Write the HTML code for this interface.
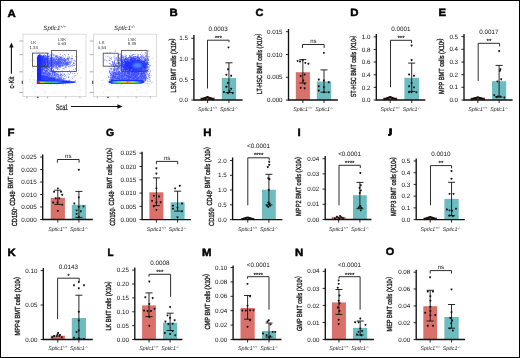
<!DOCTYPE html>
<html><head><meta charset="utf-8"><style>
html,body{margin:0;padding:0;background:#fff;}
body{width:520px;height:358px;overflow:hidden;}
svg{display:block;will-change:transform;}
text{font-family:'Liberation Sans', sans-serif;fill:#000;text-rendering:geometricPrecision;}
.lt{font-size:10.4px;font-weight:bold;stroke:#000;stroke-width:0.45;}
.tl{font-size:6.25px;text-anchor:end;fill:#111;}
.pv{font-size:6.3px;text-anchor:middle;fill:#111;}
.st{font-size:6.2px;text-anchor:middle;fill:#111;stroke:#111;stroke-width:0.12;}
.ns{font-size:6px;text-anchor:middle;fill:#111;}
.xl{font-size:5.3px;font-style:italic;text-anchor:middle;fill:#222;}
.yl{font-size:7.4px;text-anchor:middle;fill:#111;stroke:#111;stroke-width:0.3;}
.gl{font-size:4.3px;text-anchor:middle;fill:#333;}
.axl{font-size:7.4px;fill:#111;stroke:#111;stroke-width:0.25;}
.axl2{font-size:8.4px;fill:#111;stroke:#111;stroke-width:0.18;}
.ft{font-size:6.1px;font-style:italic;text-anchor:middle;fill:#222;}
.ax{fill:none;stroke:#111;stroke-width:1.35;}
.tk{fill:none;stroke:#111;stroke-width:0.9;}
.eb{fill:none;stroke:#111;stroke-width:0.9;}
.br{fill:none;stroke:#222;stroke-width:0.95;}
</style></head><body>
<svg width="520" height="358" viewBox="0 0 520 358" xmlns="http://www.w3.org/2000/svg">
<rect x="0.5" y="0.5" width="519" height="357" fill="#fff" stroke="#000" stroke-width="1"/>
<text transform="translate(7.4 16.8) scale(1.1 1)" class="lt">A</text>
<defs><filter id="bl0" x="-5%" y="-5%" width="110%" height="110%"><feGaussianBlur stdDeviation="0.3"/></filter><filter id="bl1" x="-20%" y="-50%" width="140%" height="200%"><feGaussianBlur stdDeviation="0.6"/></filter><filter id="bl2" x="-20%" y="-50%" width="140%" height="200%"><feGaussianBlur stdDeviation="1.3"/></filter><linearGradient id="hotA" x1="36.8" x2="66" y1="0" y2="0" gradientUnits="userSpaceOnUse"><stop offset="0" stop-color="#d81c10"/><stop offset="0.06" stop-color="#f08010"/><stop offset="0.14" stop-color="#d8e020"/><stop offset="0.4" stop-color="#50d850"/><stop offset="0.68" stop-color="#30c8e8"/><stop offset="1" stop-color="#2a48ff"/></linearGradient><linearGradient id="hotB" x1="108.5" x2="145" y1="0" y2="0" gradientUnits="userSpaceOnUse"><stop offset="0" stop-color="#2a48ff"/><stop offset="0.08" stop-color="#30c0f0"/><stop offset="0.22" stop-color="#48d070"/><stop offset="0.38" stop-color="#a8d830"/><stop offset="0.47" stop-color="#e0b818"/><stop offset="0.52" stop-color="#e07010"/><stop offset="0.57" stop-color="#e0a018"/><stop offset="0.66" stop-color="#a0d838"/><stop offset="0.8" stop-color="#40c8b0"/><stop offset="0.92" stop-color="#30b0f0"/><stop offset="1" stop-color="#2a48ff"/></linearGradient></defs>
<g filter="url(#bl0)"><path d="M40 57 L50 56.5 L62 58 L70 61 L66 66 L54 67.5 L42 68 Z" fill="#4a5cff" opacity="0.3" filter="url(#bl2)"/><path d="M41 66 L41 80.5 L66 80.5 Z" fill="#3a4cff" opacity="0.3" filter="url(#bl2)"/><path d="M32 71.3h0.6v0.6h-0.6zM51.5 52.1h0.6v0.6h-0.6zM51.1 85.4h0.6v0.6h-0.6zM70.3 79.8h0.6v0.6h-0.6zM36.9 70.5h0.6v0.6h-0.6zM49.4 66.6h0.6v0.6h-0.6zM62 51.7h0.6v0.6h-0.6zM34.3 65h0.6v0.6h-0.6zM74.5 76h0.6v0.6h-0.6zM53.2 70.3h0.6v0.6h-0.6zM72.1 56.1h0.6v0.6h-0.6zM71.6 81.6h0.6v0.6h-0.6zM55.9 64.6h0.6v0.6h-0.6zM63 84.2h0.6v0.6h-0.6zM78.2 80.9h0.6v0.6h-0.6zM80 77.9h0.6v0.6h-0.6zM57.5 54.8h0.6v0.6h-0.6zM57.9 83.5h0.6v0.6h-0.6zM32.8 59.6h0.6v0.6h-0.6zM61.4 71.5h0.6v0.6h-0.6zM34.4 60.7h0.6v0.6h-0.6zM58.7 79.8h0.6v0.6h-0.6zM44.9 82.4h0.6v0.6h-0.6zM29.9 60h0.6v0.6h-0.6zM50 64.3h0.6v0.6h-0.6zM42.3 56.2h0.6v0.6h-0.6zM45.1 64.7h0.6v0.6h-0.6zM39.5 71.2h0.6v0.6h-0.6zM64.5 79.5h0.6v0.6h-0.6zM61.1 77.3h0.6v0.6h-0.6zM44.8 74h0.6v0.6h-0.6zM65 78.7h0.6v0.6h-0.6zM79.9 90.2h0.6v0.6h-0.6zM75.1 79.9h0.6v0.6h-0.6zM75.7 70.4h0.6v0.6h-0.6zM45.4 86h0.6v0.6h-0.6zM68 85.9h0.6v0.6h-0.6zM51.3 61.1h0.6v0.6h-0.6zM34.3 85.7h0.6v0.6h-0.6zM57.6 80.7h0.6v0.6h-0.6zM62.5 61.6h0.6v0.6h-0.6zM36.3 57.5h0.6v0.6h-0.6zM52.8 73.3h0.6v0.6h-0.6zM36.4 51.3h0.6v0.6h-0.6zM71.2 82.7h0.6v0.6h-0.6zM45.5 61.1h0.6v0.6h-0.6zM41.9 51.8h0.6v0.6h-0.6zM35.3 86h0.6v0.6h-0.6zM60 76.3h0.6v0.6h-0.6zM57.6 77.1h0.6v0.6h-0.6zM37.3 83.6h0.6v0.6h-0.6zM31 85.9h0.6v0.6h-0.6zM55.3 63h0.6v0.6h-0.6zM49.5 84.1h0.6v0.6h-0.6zM59.5 78.2h0.6v0.6h-0.6zM63 50h0.6v0.6h-0.6zM41.9 88.8h0.6v0.6h-0.6zM32 83.3h0.6v0.6h-0.6zM62.4 84.8h0.6v0.6h-0.6zM45.1 62.2h0.6v0.6h-0.6zM40 76.4h0.6v0.6h-0.6zM76.4 55.4h0.6v0.6h-0.6zM36.4 50.3h0.6v0.6h-0.6zM39.7 53.9h0.6v0.6h-0.6zM71.9 76.8h0.6v0.6h-0.6zM51.7 83h0.6v0.6h-0.6zM68.6 92h0.6v0.6h-0.6zM69.9 76.6h0.6v0.6h-0.6zM33.5 88.1h0.6v0.6h-0.6zM39.2 77.1h0.6v0.6h-0.6zM39.7 66.1h0.6v0.6h-0.6zM45.3 76.6h0.6v0.6h-0.6zM63 83.2h0.6v0.6h-0.6zM54.5 91.9h0.6v0.6h-0.6zM77.9 71.8h0.6v0.6h-0.6zM39.9 79.1h0.6v0.6h-0.6zM50.9 79.7h0.6v0.6h-0.6zM35.5 85.7h0.6v0.6h-0.6zM29.1 80.8h0.6v0.6h-0.6zM61.9 49.7h0.6v0.6h-0.6zM78.5 77.9h0.6v0.6h-0.6zM76 83.8h0.6v0.6h-0.6zM52.8 82.6h0.6v0.6h-0.6zM76.5 77.9h0.6v0.6h-0.6zM40 55.7h0.6v0.6h-0.6zM29.2 79.1h0.6v0.6h-0.6zM41.6 81.3h0.6v0.6h-0.6zM73.5 81.1h0.6v0.6h-0.6zM66.3 49.5h0.6v0.6h-0.6zM62.8 85h0.6v0.6h-0.6zM45.2 81.1h0.6v0.6h-0.6zM73.8 70.4h0.6v0.6h-0.6zM65.6 85.4h0.6v0.6h-0.6zM38.4 79.8h0.6v0.6h-0.6zM46.9 71.9h0.6v0.6h-0.6zM38.4 52.7h0.6v0.6h-0.6zM78.3 89h0.6v0.6h-0.6zM60.1 66.5h0.6v0.6h-0.6zM62.6 92.4h0.6v0.6h-0.6zM36.4 58.8h0.6v0.6h-0.6zM44.3 92.1h0.6v0.6h-0.6zM39.2 52.5h0.6v0.6h-0.6zM38.7 85.6h0.6v0.6h-0.6zM40.6 57h0.6v0.6h-0.6zM42 85h0.6v0.6h-0.6zM34 79.8h0.6v0.6h-0.6zM56.2 79.9h0.6v0.6h-0.6zM74.2 80.6h0.6v0.6h-0.6zM51 76.8h0.6v0.6h-0.6zM42.8 78.9h0.6v0.6h-0.6zM69.2 56h0.6v0.6h-0.6zM74.3 68.4h0.6v0.6h-0.6zM52.8 80.8h0.6v0.6h-0.6zM76.3 49.5h0.6v0.6h-0.6zM72 71.6h0.6v0.6h-0.6zM80.7 77h0.6v0.6h-0.6zM50.4 83.7h0.6v0.6h-0.6zM70.9 51.7h0.6v0.6h-0.6zM54.2 83.9h0.6v0.6h-0.6zM30.8 78.2h0.6v0.6h-0.6zM37.1 80.1h0.6v0.6h-0.6zM43 85.7h0.6v0.6h-0.6zM45.7 78.2h0.6v0.6h-0.6zM35.9 61.2h0.6v0.6h-0.6zM64.3 78.2h0.6v0.6h-0.6zM61.7 57h0.6v0.6h-0.6zM64.6 64.4h0.6v0.6h-0.6zM72.4 83.2h0.6v0.6h-0.6zM31.5 59.8h0.6v0.6h-0.6zM35.6 82.5h0.6v0.6h-0.6zM65.5 84.5h0.6v0.6h-0.6zM57.3 60h0.6v0.6h-0.6zM47.9 56.4h0.6v0.6h-0.6zM48.2 85.6h0.6v0.6h-0.6zM33.2 79.3h0.6v0.6h-0.6zM52 91.7h0.6v0.6h-0.6zM40.8 74.2h0.6v0.6h-0.6zM55.7 74.9h0.6v0.6h-0.6zM58.3 83.1h0.6v0.6h-0.6zM31.3 75.6h0.6v0.6h-0.6zM57.5 84.3h0.6v0.6h-0.6zM77.1 78.7h0.6v0.6h-0.6zM59.2 54h0.6v0.6h-0.6zM34.7 84.2h0.6v0.6h-0.6zM71.6 78.9h0.6v0.6h-0.6zM75.5 74.9h0.6v0.6h-0.6zM78.8 92.7h0.6v0.6h-0.6zM55.5 76.9h0.6v0.6h-0.6zM57.6 66.9h0.6v0.6h-0.6zM43.3 60.3h0.6v0.6h-0.6zM50.1 78.9h0.6v0.6h-0.6zM32 67.2h0.6v0.6h-0.6zM66.7 63.5h0.6v0.6h-0.6zM68.7 83.1h0.6v0.6h-0.6zM63.1 83.1h0.6v0.6h-0.6zM76.9 56.1h0.6v0.6h-0.6zM54.9 77h0.6v0.6h-0.6zM80.7 62.1h0.6v0.6h-0.6zM34.8 91.9h0.6v0.6h-0.6zM41 67.9h0.6v0.6h-0.6zM42.8 52h0.6v0.6h-0.6zM45.4 91.8h0.6v0.6h-0.6zM61.7 81.7h0.6v0.6h-0.6zM60.9 78.8h0.6v0.6h-0.6zM56.4 84.8h0.6v0.6h-0.6zM72.3 85h0.6v0.6h-0.6zM37 60.1h0.6v0.6h-0.6zM36.8 78.9h0.6v0.6h-0.6zM46.7 65.8h0.6v0.6h-0.6zM39.4 74.1h0.6v0.6h-0.6z" fill="#5a6aff" opacity="0.55"/><path d="M61.5 59.4h0.75v0.75h-0.75zM49.2 60.2h0.75v0.75h-0.75zM63.3 58.6h0.75v0.75h-0.75zM39 63.9h0.75v0.75h-0.75zM65 61.7h0.75v0.75h-0.75zM43.5 58.7h0.75v0.75h-0.75zM48 58.3h0.75v0.75h-0.75zM47.8 56h0.75v0.75h-0.75zM56.6 63.7h0.75v0.75h-0.75zM54.5 64.8h0.75v0.75h-0.75zM50.1 63.2h0.75v0.75h-0.75zM41.6 61.3h0.75v0.75h-0.75zM54.3 65.6h0.75v0.75h-0.75zM50.7 61h0.75v0.75h-0.75zM41.6 63h0.75v0.75h-0.75zM60.6 61.2h0.75v0.75h-0.75zM43 63.6h0.75v0.75h-0.75zM52.2 65.3h0.75v0.75h-0.75zM42.4 61.9h0.75v0.75h-0.75zM42.5 61.4h0.75v0.75h-0.75zM58.3 62.1h0.75v0.75h-0.75zM45.5 60.1h0.75v0.75h-0.75zM39.2 59.9h0.75v0.75h-0.75zM67.8 66.2h0.75v0.75h-0.75zM65.3 59h0.75v0.75h-0.75zM42.6 65.7h0.75v0.75h-0.75zM40.9 64.5h0.75v0.75h-0.75zM65.7 67h0.75v0.75h-0.75zM44.2 66.8h0.75v0.75h-0.75zM45.5 58.4h0.75v0.75h-0.75zM43.1 58.8h0.75v0.75h-0.75zM61.3 57.5h0.75v0.75h-0.75zM46.1 56.5h0.75v0.75h-0.75zM51.7 66h0.75v0.75h-0.75zM69.9 58.5h0.75v0.75h-0.75zM40.2 60.9h0.75v0.75h-0.75zM39.2 67.6h0.75v0.75h-0.75zM57.2 60.5h0.75v0.75h-0.75zM53.2 62.2h0.75v0.75h-0.75zM43.1 61.1h0.75v0.75h-0.75zM45.2 60.1h0.75v0.75h-0.75zM42.1 63.3h0.75v0.75h-0.75zM46 57h0.75v0.75h-0.75zM60.2 59.6h0.75v0.75h-0.75zM40 61.4h0.75v0.75h-0.75zM38.7 67.1h0.75v0.75h-0.75zM49.1 59.9h0.75v0.75h-0.75zM68.8 61.2h0.75v0.75h-0.75zM57.8 61.1h0.75v0.75h-0.75zM69.8 66.3h0.75v0.75h-0.75zM49.4 59h0.75v0.75h-0.75zM49.9 64.5h0.75v0.75h-0.75zM39.1 65.8h0.75v0.75h-0.75zM64.4 58.1h0.75v0.75h-0.75zM54.9 66.6h0.75v0.75h-0.75zM60.3 65.2h0.75v0.75h-0.75zM46.5 53.3h0.75v0.75h-0.75zM51.8 66.5h0.75v0.75h-0.75zM46.3 59.7h0.75v0.75h-0.75zM42.4 61.2h0.75v0.75h-0.75zM56.3 55.6h0.75v0.75h-0.75zM62.8 62.3h0.75v0.75h-0.75zM46.9 62h0.75v0.75h-0.75zM41.1 56.3h0.75v0.75h-0.75zM53.3 65.6h0.75v0.75h-0.75zM50.2 60.1h0.75v0.75h-0.75zM44.2 68.6h0.75v0.75h-0.75zM59.4 66.2h0.75v0.75h-0.75zM38.7 57.8h0.75v0.75h-0.75zM62.8 62.3h0.75v0.75h-0.75zM57.9 65.5h0.75v0.75h-0.75zM63.5 68h0.75v0.75h-0.75zM46.2 57.3h0.75v0.75h-0.75zM43.2 60.1h0.75v0.75h-0.75zM38.7 65.5h0.75v0.75h-0.75zM38.6 62.7h0.75v0.75h-0.75zM48.4 53.4h0.75v0.75h-0.75zM44.6 65.9h0.75v0.75h-0.75zM50.7 62.4h0.75v0.75h-0.75zM53.9 61.6h0.75v0.75h-0.75zM51 61.8h0.75v0.75h-0.75zM73.3 63.2h0.75v0.75h-0.75zM63.2 63.3h0.75v0.75h-0.75zM45.3 63.6h0.75v0.75h-0.75zM39.2 66.5h0.75v0.75h-0.75zM49.8 65.3h0.75v0.75h-0.75zM57.3 62.4h0.75v0.75h-0.75zM46.4 58.4h0.75v0.75h-0.75zM62.2 57.6h0.75v0.75h-0.75zM55.7 64.4h0.75v0.75h-0.75zM49 61.3h0.75v0.75h-0.75zM66.3 58.8h0.75v0.75h-0.75zM48.1 59.3h0.75v0.75h-0.75zM51.4 59.6h0.75v0.75h-0.75zM50.9 57h0.75v0.75h-0.75zM57.7 61.7h0.75v0.75h-0.75zM39.3 63.8h0.75v0.75h-0.75zM65.3 60.6h0.75v0.75h-0.75zM45.1 62.9h0.75v0.75h-0.75zM57.5 61.4h0.75v0.75h-0.75zM61.5 58.1h0.75v0.75h-0.75zM50 62.1h0.75v0.75h-0.75zM45.5 63.8h0.75v0.75h-0.75zM56.2 61.9h0.75v0.75h-0.75zM38.8 55.9h0.75v0.75h-0.75zM40.1 54.5h0.75v0.75h-0.75zM64.9 64.6h0.75v0.75h-0.75zM44.7 59.7h0.75v0.75h-0.75zM50 59.5h0.75v0.75h-0.75zM41.9 57.5h0.75v0.75h-0.75zM41.7 61.9h0.75v0.75h-0.75zM46.2 65.1h0.75v0.75h-0.75zM43.5 65.6h0.75v0.75h-0.75zM43 64.7h0.75v0.75h-0.75zM47.5 68.3h0.75v0.75h-0.75zM45.1 62h0.75v0.75h-0.75zM59.1 60.1h0.75v0.75h-0.75zM43.2 61.4h0.75v0.75h-0.75zM48.2 59.4h0.75v0.75h-0.75zM67 63.8h0.75v0.75h-0.75zM51.7 64.1h0.75v0.75h-0.75zM45.8 62.1h0.75v0.75h-0.75zM38.5 56.1h0.75v0.75h-0.75zM53.7 62.9h0.75v0.75h-0.75zM40.2 60.5h0.75v0.75h-0.75zM41.1 58.6h0.75v0.75h-0.75zM62.7 60.5h0.75v0.75h-0.75zM43.9 58.1h0.75v0.75h-0.75zM65.2 62.2h0.75v0.75h-0.75zM41.5 70.1h0.75v0.75h-0.75zM46.5 60h0.75v0.75h-0.75zM46.5 60h0.75v0.75h-0.75zM41.8 62h0.75v0.75h-0.75zM69 61.5h0.75v0.75h-0.75zM42.3 58.4h0.75v0.75h-0.75zM52.5 65.4h0.75v0.75h-0.75zM57.4 63.8h0.75v0.75h-0.75zM48.5 62.1h0.75v0.75h-0.75zM53.9 65.3h0.75v0.75h-0.75zM51.6 58.1h0.75v0.75h-0.75zM46.7 58.7h0.75v0.75h-0.75zM67.4 59.5h0.75v0.75h-0.75zM60.6 57.1h0.75v0.75h-0.75zM52.8 59.6h0.75v0.75h-0.75zM63.8 64.5h0.75v0.75h-0.75zM59.8 58.4h0.75v0.75h-0.75zM49.8 60.3h0.75v0.75h-0.75zM60.3 59.5h0.75v0.75h-0.75zM40.1 59.6h0.75v0.75h-0.75zM55.6 56.3h0.75v0.75h-0.75zM54.4 62.2h0.75v0.75h-0.75zM44.4 62.2h0.75v0.75h-0.75zM61.4 63.3h0.75v0.75h-0.75zM51.7 60h0.75v0.75h-0.75zM56.9 61.4h0.75v0.75h-0.75zM47.8 64.9h0.75v0.75h-0.75zM49.9 63h0.75v0.75h-0.75zM56.4 64.3h0.75v0.75h-0.75zM52 62.2h0.75v0.75h-0.75zM53.4 62.5h0.75v0.75h-0.75zM52.3 63.6h0.75v0.75h-0.75zM60.9 64.5h0.75v0.75h-0.75zM45 63.5h0.75v0.75h-0.75zM56.1 62.8h0.75v0.75h-0.75zM57.1 68.7h0.75v0.75h-0.75zM43.8 63h0.75v0.75h-0.75zM39.9 57h0.75v0.75h-0.75zM42.3 56.5h0.75v0.75h-0.75zM69.6 61.5h0.75v0.75h-0.75zM38.8 60.8h0.75v0.75h-0.75zM60.7 58.7h0.75v0.75h-0.75zM42.4 66.6h0.75v0.75h-0.75zM57.1 60.3h0.75v0.75h-0.75zM52.6 60.7h0.75v0.75h-0.75zM43.8 62.4h0.75v0.75h-0.75zM59.3 60.3h0.75v0.75h-0.75zM60.3 66.2h0.75v0.75h-0.75zM42.8 61.5h0.75v0.75h-0.75zM43.7 56.4h0.75v0.75h-0.75zM39.8 66.8h0.75v0.75h-0.75zM48.6 61.9h0.75v0.75h-0.75zM47.8 64.3h0.75v0.75h-0.75zM55.6 66.3h0.75v0.75h-0.75zM62.7 65.7h0.75v0.75h-0.75zM59.6 62.3h0.75v0.75h-0.75zM46.1 58.7h0.75v0.75h-0.75zM43.9 66.3h0.75v0.75h-0.75zM38.5 60.7h0.75v0.75h-0.75zM42.7 69h0.75v0.75h-0.75zM40.9 61.1h0.75v0.75h-0.75zM47.9 64.4h0.75v0.75h-0.75zM68.4 64h0.75v0.75h-0.75zM59.9 59.6h0.75v0.75h-0.75zM39.1 61.2h0.75v0.75h-0.75zM47.4 62.3h0.75v0.75h-0.75zM40.4 58.6h0.75v0.75h-0.75zM68.8 56.6h0.75v0.75h-0.75zM67.1 58.1h0.75v0.75h-0.75zM40.8 67.1h0.75v0.75h-0.75zM42.8 59.7h0.75v0.75h-0.75zM62.3 61.6h0.75v0.75h-0.75zM52.3 60.3h0.75v0.75h-0.75zM58.4 62.7h0.75v0.75h-0.75zM62.9 56.5h0.75v0.75h-0.75zM58.2 64.8h0.75v0.75h-0.75zM38.5 60.9h0.75v0.75h-0.75zM66.7 61.8h0.75v0.75h-0.75zM45.5 58.2h0.75v0.75h-0.75zM42.4 67h0.75v0.75h-0.75zM48.3 56.2h0.75v0.75h-0.75zM47.5 63.6h0.75v0.75h-0.75zM51.3 62h0.75v0.75h-0.75zM45.3 64.5h0.75v0.75h-0.75zM39.6 57.5h0.75v0.75h-0.75zM43.7 62.6h0.75v0.75h-0.75zM66.5 64h0.75v0.75h-0.75zM53.6 67h0.75v0.75h-0.75zM65.6 64.1h0.75v0.75h-0.75zM69 57.5h0.75v0.75h-0.75zM63.3 63.7h0.75v0.75h-0.75zM53.7 70.9h0.75v0.75h-0.75zM56.7 61.8h0.75v0.75h-0.75zM47.1 61.2h0.75v0.75h-0.75zM38.6 58.6h0.75v0.75h-0.75zM42.7 60.4h0.75v0.75h-0.75zM42.9 60.5h0.75v0.75h-0.75zM54.4 63.2h0.75v0.75h-0.75zM52.9 60.5h0.75v0.75h-0.75zM60.5 59.3h0.75v0.75h-0.75zM48.9 61.3h0.75v0.75h-0.75zM51 63.5h0.75v0.75h-0.75zM42.2 60.2h0.75v0.75h-0.75zM62.3 58.9h0.75v0.75h-0.75zM42.7 63.2h0.75v0.75h-0.75zM44.3 55.8h0.75v0.75h-0.75zM46.1 58.6h0.75v0.75h-0.75zM52.5 57.4h0.75v0.75h-0.75zM55.5 62.5h0.75v0.75h-0.75zM61.3 59h0.75v0.75h-0.75zM39.6 68.6h0.75v0.75h-0.75zM43.9 65.2h0.75v0.75h-0.75zM42.8 59.7h0.75v0.75h-0.75zM42.5 57.1h0.75v0.75h-0.75zM68.4 58.1h0.75v0.75h-0.75zM59.2 60.9h0.75v0.75h-0.75zM40.1 62.6h0.75v0.75h-0.75zM38.2 59.1h0.75v0.75h-0.75zM48 63.2h0.75v0.75h-0.75zM47.7 59.3h0.75v0.75h-0.75zM64.5 59h0.75v0.75h-0.75zM60.5 60.6h0.75v0.75h-0.75zM41.5 66.3h0.75v0.75h-0.75zM71.5 55.5h0.75v0.75h-0.75zM38.7 60.6h0.75v0.75h-0.75zM40.9 65.9h0.75v0.75h-0.75zM44.2 60h0.75v0.75h-0.75zM41.9 64.5h0.75v0.75h-0.75zM63.5 59.4h0.75v0.75h-0.75zM59.2 58.6h0.75v0.75h-0.75zM73.3 65.4h0.75v0.75h-0.75zM39 62.5h0.75v0.75h-0.75zM38.2 57h0.75v0.75h-0.75zM71.5 62h0.75v0.75h-0.75zM57.9 60.4h0.75v0.75h-0.75zM73 62.6h0.75v0.75h-0.75zM50.9 59h0.75v0.75h-0.75zM38.2 60.4h0.75v0.75h-0.75zM68.1 54.4h0.75v0.75h-0.75zM42.6 58.5h0.75v0.75h-0.75zM40.3 60.7h0.75v0.75h-0.75zM49.8 54.5h0.75v0.75h-0.75zM53 57.4h0.75v0.75h-0.75zM46.4 65.2h0.75v0.75h-0.75zM38.8 61.9h0.75v0.75h-0.75zM47.8 59.6h0.75v0.75h-0.75zM38.1 57.2h0.75v0.75h-0.75zM50.3 60.3h0.75v0.75h-0.75zM66.1 61.9h0.75v0.75h-0.75zM42.6 62h0.75v0.75h-0.75zM52.4 53.4h0.75v0.75h-0.75zM44.4 56.8h0.75v0.75h-0.75zM60.5 62.6h0.75v0.75h-0.75zM41.6 63.3h0.75v0.75h-0.75zM60.4 62.6h0.75v0.75h-0.75zM39 61.4h0.75v0.75h-0.75zM51.2 62h0.75v0.75h-0.75zM52.8 54.7h0.75v0.75h-0.75zM56.7 67.9h0.75v0.75h-0.75zM58.3 63.6h0.75v0.75h-0.75zM40.9 60.3h0.75v0.75h-0.75zM56.3 61.4h0.75v0.75h-0.75zM43.2 62.2h0.75v0.75h-0.75zM55.5 61.4h0.75v0.75h-0.75zM42 61.1h0.75v0.75h-0.75zM51.5 66.3h0.75v0.75h-0.75zM57.6 62.8h0.75v0.75h-0.75zM60 60.9h0.75v0.75h-0.75zM38.2 64.1h0.75v0.75h-0.75zM67.3 62.3h0.75v0.75h-0.75zM46.5 65.1h0.75v0.75h-0.75zM44.9 63.6h0.75v0.75h-0.75zM56 66.3h0.75v0.75h-0.75zM57 59.1h0.75v0.75h-0.75zM63.9 63.7h0.75v0.75h-0.75zM46.3 57.1h0.75v0.75h-0.75zM73.6 61.8h0.75v0.75h-0.75zM69.7 64h0.75v0.75h-0.75zM41.3 61.3h0.75v0.75h-0.75zM44.9 58.6h0.75v0.75h-0.75zM56.4 65.2h0.75v0.75h-0.75zM67.3 58.1h0.75v0.75h-0.75zM45 65.9h0.75v0.75h-0.75zM52.6 63h0.75v0.75h-0.75zM53.6 59.2h0.75v0.75h-0.75zM72 58.5h0.75v0.75h-0.75zM45.4 64.7h0.75v0.75h-0.75zM61.9 65.4h0.75v0.75h-0.75zM53.3 62.4h0.75v0.75h-0.75zM39.5 65.5h0.75v0.75h-0.75zM50.1 62.7h0.75v0.75h-0.75zM49.1 61.1h0.75v0.75h-0.75zM63.9 63.6h0.75v0.75h-0.75zM52.2 64.8h0.75v0.75h-0.75zM52.1 62.3h0.75v0.75h-0.75zM54.6 60.5h0.75v0.75h-0.75zM58.8 57.5h0.75v0.75h-0.75zM49.2 63.5h0.75v0.75h-0.75zM59.1 58.5h0.75v0.75h-0.75zM54 62.1h0.75v0.75h-0.75zM59 56h0.75v0.75h-0.75zM63.1 62.4h0.75v0.75h-0.75zM46.2 60.1h0.75v0.75h-0.75zM57.3 62.8h0.75v0.75h-0.75zM53.6 65.8h0.75v0.75h-0.75zM58.6 59.1h0.75v0.75h-0.75zM45.1 58.7h0.75v0.75h-0.75zM46.5 61.7h0.75v0.75h-0.75zM40.4 56.1h0.75v0.75h-0.75zM70.3 62.3h0.75v0.75h-0.75zM48.3 62.2h0.75v0.75h-0.75zM46.9 64h0.75v0.75h-0.75zM57.8 65h0.75v0.75h-0.75zM48.6 64.4h0.75v0.75h-0.75zM41.2 61.4h0.75v0.75h-0.75zM44.5 58.4h0.75v0.75h-0.75zM45.5 64.3h0.75v0.75h-0.75zM38.6 64.6h0.75v0.75h-0.75zM56.1 67h0.75v0.75h-0.75zM42.3 62.4h0.75v0.75h-0.75zM53.2 62h0.75v0.75h-0.75zM38.3 60.9h0.75v0.75h-0.75zM45.8 61.3h0.75v0.75h-0.75zM47.7 68.5h0.75v0.75h-0.75zM63.9 54.2h0.75v0.75h-0.75zM66.1 63.3h0.75v0.75h-0.75zM47.1 61.5h0.75v0.75h-0.75zM39.7 61h0.75v0.75h-0.75zM49.8 60.4h0.75v0.75h-0.75zM48.2 64.2h0.75v0.75h-0.75zM47.5 62h0.75v0.75h-0.75zM47.6 61.5h0.75v0.75h-0.75zM41.6 64.9h0.75v0.75h-0.75zM57.6 56.3h0.75v0.75h-0.75zM45.9 62.2h0.75v0.75h-0.75zM47.8 58.3h0.75v0.75h-0.75zM43 65.1h0.75v0.75h-0.75zM62.8 63h0.75v0.75h-0.75zM43.5 63.8h0.75v0.75h-0.75zM39.5 63h0.75v0.75h-0.75zM39.5 61.3h0.75v0.75h-0.75zM39.2 62.9h0.75v0.75h-0.75zM50.7 59.9h0.75v0.75h-0.75zM42.3 63.4h0.75v0.75h-0.75zM38.5 64.5h0.75v0.75h-0.75zM40.8 60.4h0.75v0.75h-0.75zM38 60.4h0.75v0.75h-0.75zM49.4 62.5h0.75v0.75h-0.75zM54.6 62.5h0.75v0.75h-0.75zM41.2 62.5h0.75v0.75h-0.75zM53.9 61.4h0.75v0.75h-0.75zM40.8 57.6h0.75v0.75h-0.75zM65 61h0.75v0.75h-0.75zM39.6 64.7h0.75v0.75h-0.75zM64.4 63h0.75v0.75h-0.75zM60.1 61.7h0.75v0.75h-0.75zM38.4 59h0.75v0.75h-0.75zM42.5 56.5h0.75v0.75h-0.75zM56.4 56.4h0.75v0.75h-0.75zM43 57.7h0.75v0.75h-0.75zM68.5 58.8h0.75v0.75h-0.75zM54.6 61h0.75v0.75h-0.75zM49.3 66.2h0.75v0.75h-0.75zM48.4 59.6h0.75v0.75h-0.75zM58 57.9h0.75v0.75h-0.75zM53.1 69.2h0.75v0.75h-0.75zM57.9 67.7h0.75v0.75h-0.75zM52 62.5h0.75v0.75h-0.75zM52.9 65h0.75v0.75h-0.75zM60.3 61.2h0.75v0.75h-0.75zM44.6 61.7h0.75v0.75h-0.75zM66.5 64.5h0.75v0.75h-0.75zM46.7 65h0.75v0.75h-0.75zM56.9 59.4h0.75v0.75h-0.75zM64.3 64.5h0.75v0.75h-0.75zM49.2 63.6h0.75v0.75h-0.75zM40.6 64.4h0.75v0.75h-0.75zM58.2 59.8h0.75v0.75h-0.75zM58 59.1h0.75v0.75h-0.75zM56.8 61.5h0.75v0.75h-0.75zM54.5 64.1h0.75v0.75h-0.75zM57 62.3h0.75v0.75h-0.75zM75.9 57.6h0.75v0.75h-0.75zM51.9 58.8h0.75v0.75h-0.75zM52.5 62h0.75v0.75h-0.75zM55 64.8h0.75v0.75h-0.75zM38.1 59.1h0.75v0.75h-0.75zM45 62.8h0.75v0.75h-0.75zM72 63.9h0.75v0.75h-0.75zM49.8 57h0.75v0.75h-0.75zM52.2 64.8h0.75v0.75h-0.75zM39.8 65.4h0.75v0.75h-0.75zM51.1 60.7h0.75v0.75h-0.75zM45.1 61.6h0.75v0.75h-0.75zM40.9 63.1h0.75v0.75h-0.75zM47.6 62.1h0.75v0.75h-0.75zM44.6 62.8h0.75v0.75h-0.75zM43.7 60h0.75v0.75h-0.75zM71.3 58.5h0.75v0.75h-0.75zM66.5 62.9h0.75v0.75h-0.75zM46.4 65h0.75v0.75h-0.75zM44.3 61.1h0.75v0.75h-0.75zM62 64.9h0.75v0.75h-0.75zM45 61.5h0.75v0.75h-0.75zM57.5 60.6h0.75v0.75h-0.75zM49.1 61h0.75v0.75h-0.75zM45.5 58.4h0.75v0.75h-0.75zM42.5 58.7h0.75v0.75h-0.75zM41.6 64h0.75v0.75h-0.75zM58.7 65.7h0.75v0.75h-0.75zM47.7 60.1h0.75v0.75h-0.75zM66.4 62.1h0.75v0.75h-0.75zM51.3 63.4h0.75v0.75h-0.75zM52.7 63.2h0.75v0.75h-0.75zM71.6 58.4h0.75v0.75h-0.75zM42.2 64.8h0.75v0.75h-0.75zM72.7 60.3h0.75v0.75h-0.75zM56.6 60.9h0.75v0.75h-0.75zM43.7 63.6h0.75v0.75h-0.75zM52.5 61.3h0.75v0.75h-0.75zM59.8 64.5h0.75v0.75h-0.75zM67.5 61.6h0.75v0.75h-0.75zM52.8 64.8h0.75v0.75h-0.75zM62.6 65.7h0.75v0.75h-0.75zM52 65.6h0.75v0.75h-0.75zM54.5 62h0.75v0.75h-0.75zM55.7 68.1h0.75v0.75h-0.75zM53.6 54.3h0.75v0.75h-0.75zM39.1 54.1h0.75v0.75h-0.75zM56 63.5h0.75v0.75h-0.75zM41.6 57.9h0.75v0.75h-0.75zM49 56.3h0.75v0.75h-0.75zM69.7 65.1h0.75v0.75h-0.75zM44.3 64h0.75v0.75h-0.75zM43.9 61.9h0.75v0.75h-0.75zM48.4 60.2h0.75v0.75h-0.75zM47.9 60h0.75v0.75h-0.75zM64.5 59.8h0.75v0.75h-0.75zM51.8 58.5h0.75v0.75h-0.75zM59.6 63.2h0.75v0.75h-0.75zM46.8 64.7h0.75v0.75h-0.75zM56.2 56.3h0.75v0.75h-0.75zM54.6 61.1h0.75v0.75h-0.75zM59.4 59.4h0.75v0.75h-0.75zM59.7 57.9h0.75v0.75h-0.75zM65 63.2h0.75v0.75h-0.75zM51.4 63.7h0.75v0.75h-0.75zM55.7 63.6h0.75v0.75h-0.75zM61 62.8h0.75v0.75h-0.75zM42.5 60.3h0.75v0.75h-0.75zM38.7 60.5h0.75v0.75h-0.75zM67.4 56.7h0.75v0.75h-0.75zM51.4 59.9h0.75v0.75h-0.75zM47.7 58h0.75v0.75h-0.75zM42.5 63.9h0.75v0.75h-0.75zM58.9 65.1h0.75v0.75h-0.75zM54.5 61h0.75v0.75h-0.75zM63.8 57.7h0.75v0.75h-0.75zM45 57.3h0.75v0.75h-0.75zM59.7 58.3h0.75v0.75h-0.75zM71.3 59.4h0.75v0.75h-0.75zM38.4 63h0.75v0.75h-0.75zM61.5 62.8h0.75v0.75h-0.75zM41.6 62.4h0.75v0.75h-0.75zM41.8 63.1h0.75v0.75h-0.75zM48.7 58h0.75v0.75h-0.75zM41.4 57.7h0.75v0.75h-0.75zM53.8 63.5h0.75v0.75h-0.75zM42.6 63h0.75v0.75h-0.75zM41.2 56.3h0.75v0.75h-0.75zM60.3 60h0.75v0.75h-0.75zM40.2 62.1h0.75v0.75h-0.75zM38.1 57.7h0.75v0.75h-0.75zM54.2 60.6h0.75v0.75h-0.75zM56.3 63.5h0.75v0.75h-0.75zM54.9 57.2h0.75v0.75h-0.75zM48.9 59.9h0.75v0.75h-0.75zM71.2 65.3h0.75v0.75h-0.75zM49.8 63.6h0.75v0.75h-0.75zM44.2 57.1h0.75v0.75h-0.75zM51.6 65.2h0.75v0.75h-0.75zM46.7 61.6h0.75v0.75h-0.75zM58.1 58.9h0.75v0.75h-0.75zM46.2 61.4h0.75v0.75h-0.75zM64.2 58.2h0.75v0.75h-0.75zM44.6 64h0.75v0.75h-0.75zM54.6 63.3h0.75v0.75h-0.75zM55.9 57.9h0.75v0.75h-0.75zM75.3 56.3h0.75v0.75h-0.75zM53.2 58.9h0.75v0.75h-0.75zM59.5 61.2h0.75v0.75h-0.75zM52.6 61.3h0.75v0.75h-0.75zM46.6 58.1h0.75v0.75h-0.75zM51 70.2h0.75v0.75h-0.75zM67.3 62.6h0.75v0.75h-0.75zM42.1 64.5h0.75v0.75h-0.75zM45.2 60.9h0.75v0.75h-0.75zM50.3 64h0.75v0.75h-0.75zM60.3 64.1h0.75v0.75h-0.75zM53.5 62.2h0.75v0.75h-0.75zM43.6 66.4h0.75v0.75h-0.75zM64.1 60.3h0.75v0.75h-0.75zM45 61.8h0.75v0.75h-0.75zM54.1 71.9h0.75v0.75h-0.75zM48.5 64.4h0.75v0.75h-0.75zM41.8 62.5h0.75v0.75h-0.75zM38.4 62.6h0.75v0.75h-0.75zM55.1 63.7h0.75v0.75h-0.75zM45 61.7h0.75v0.75h-0.75zM65.9 58.5h0.75v0.75h-0.75zM48.5 60h0.75v0.75h-0.75zM62.1 64.3h0.75v0.75h-0.75zM66.4 64.7h0.75v0.75h-0.75zM45.3 60.3h0.75v0.75h-0.75zM48.4 67.1h0.75v0.75h-0.75zM50.5 65.4h0.75v0.75h-0.75zM63.2 59h0.75v0.75h-0.75zM74.3 64.8h0.75v0.75h-0.75zM38.5 55.9h0.75v0.75h-0.75zM50.8 64.5h0.75v0.75h-0.75zM46.9 61.9h0.75v0.75h-0.75zM51.4 64h0.75v0.75h-0.75zM44.1 56.7h0.75v0.75h-0.75zM42.2 59.8h0.75v0.75h-0.75zM60.4 55.9h0.75v0.75h-0.75zM46.4 56.1h0.75v0.75h-0.75zM57.1 57.3h0.75v0.75h-0.75zM45.7 61.6h0.75v0.75h-0.75zM61.8 58.1h0.75v0.75h-0.75zM53.2 60.9h0.75v0.75h-0.75zM58.2 61.2h0.75v0.75h-0.75zM53.9 59.7h0.75v0.75h-0.75zM39.3 58.8h0.75v0.75h-0.75zM40.1 61.6h0.75v0.75h-0.75zM52.5 61h0.75v0.75h-0.75zM64.3 59.7h0.75v0.75h-0.75zM46.6 60.3h0.75v0.75h-0.75zM53.9 55.4h0.75v0.75h-0.75zM39.9 61.6h0.75v0.75h-0.75zM54.2 58.4h0.75v0.75h-0.75zM45.6 62.2h0.75v0.75h-0.75zM55 56.2h0.75v0.75h-0.75zM41 63.7h0.75v0.75h-0.75zM65.1 63h0.75v0.75h-0.75zM43.5 59.5h0.75v0.75h-0.75zM48.6 63.5h0.75v0.75h-0.75zM49.4 67.2h0.75v0.75h-0.75zM45 60.4h0.75v0.75h-0.75zM47.5 65.5h0.75v0.75h-0.75zM40.4 58.7h0.75v0.75h-0.75zM56.5 59.4h0.75v0.75h-0.75zM39.8 61.1h0.75v0.75h-0.75zM40.5 56.1h0.75v0.75h-0.75zM58.6 68.9h0.75v0.75h-0.75zM39 60.6h0.75v0.75h-0.75zM53.6 59.7h0.75v0.75h-0.75zM58.3 61.9h0.75v0.75h-0.75zM57 61.5h0.75v0.75h-0.75zM40.1 58.5h0.75v0.75h-0.75zM41.9 64h0.75v0.75h-0.75zM58.2 66.2h0.75v0.75h-0.75zM46.3 60.5h0.75v0.75h-0.75zM48.3 61.3h0.75v0.75h-0.75zM50 65.7h0.75v0.75h-0.75zM38.6 61.2h0.75v0.75h-0.75zM59.8 64.4h0.75v0.75h-0.75zM43.8 58.5h0.75v0.75h-0.75zM45.6 61.9h0.75v0.75h-0.75zM40.4 62.3h0.75v0.75h-0.75zM55.7 61h0.75v0.75h-0.75zM45.1 59.7h0.75v0.75h-0.75zM39.3 62.4h0.75v0.75h-0.75zM42.4 61.5h0.75v0.75h-0.75zM61 63.1h0.75v0.75h-0.75zM64.7 61.3h0.75v0.75h-0.75zM42.2 61.9h0.75v0.75h-0.75zM43.7 62.5h0.75v0.75h-0.75zM38.4 62.9h0.75v0.75h-0.75zM42.8 61.5h0.75v0.75h-0.75zM49.4 62.5h0.75v0.75h-0.75zM56.2 60.9h0.75v0.75h-0.75zM50.3 61.7h0.75v0.75h-0.75zM60.3 61.7h0.75v0.75h-0.75zM49.3 62.7h0.75v0.75h-0.75zM54.9 60.8h0.75v0.75h-0.75zM38.4 59.3h0.75v0.75h-0.75zM51.7 57.3h0.75v0.75h-0.75zM41.9 58h0.75v0.75h-0.75zM45.9 66.9h0.75v0.75h-0.75zM43.7 56.1h0.75v0.75h-0.75zM53 67.1h0.75v0.75h-0.75zM41.5 59.7h0.75v0.75h-0.75zM57.5 67h0.75v0.75h-0.75zM50.6 61.4h0.75v0.75h-0.75zM40.1 61.6h0.75v0.75h-0.75zM45.4 63h0.75v0.75h-0.75zM56.9 62h0.75v0.75h-0.75zM40.4 65.1h0.75v0.75h-0.75zM41.9 59.6h0.75v0.75h-0.75zM64.2 57.9h0.75v0.75h-0.75zM46.6 60.8h0.75v0.75h-0.75zM50.3 63.6h0.75v0.75h-0.75zM58.9 62.6h0.75v0.75h-0.75zM38.8 62.2h0.75v0.75h-0.75zM63.3 65.1h0.75v0.75h-0.75zM61.3 58.6h0.75v0.75h-0.75zM62.5 64.6h0.75v0.75h-0.75zM53.2 59.9h0.75v0.75h-0.75zM60.2 57.1h0.75v0.75h-0.75zM48.4 61.7h0.75v0.75h-0.75zM49.1 61.3h0.75v0.75h-0.75zM59.1 63.4h0.75v0.75h-0.75zM70.4 62.5h0.75v0.75h-0.75zM45.1 64.2h0.75v0.75h-0.75zM40.8 65.2h0.75v0.75h-0.75zM40.6 67h0.75v0.75h-0.75zM42 64.6h0.75v0.75h-0.75zM40.4 62.9h0.75v0.75h-0.75zM52.6 63.9h0.75v0.75h-0.75zM43.3 55.1h0.75v0.75h-0.75zM48.1 66.5h0.75v0.75h-0.75zM55.8 66.9h0.75v0.75h-0.75zM45.2 59.7h0.75v0.75h-0.75zM63.3 62.1h0.75v0.75h-0.75zM43 59.5h0.75v0.75h-0.75zM45.3 63.2h0.75v0.75h-0.75zM61.4 58h0.75v0.75h-0.75zM44.3 59.1h0.75v0.75h-0.75zM42.4 61.9h0.75v0.75h-0.75zM38.6 55.9h0.75v0.75h-0.75zM65.7 64h0.75v0.75h-0.75zM72.2 58h0.75v0.75h-0.75zM50.7 58.3h0.75v0.75h-0.75zM53.7 63.6h0.75v0.75h-0.75zM41.4 62.5h0.75v0.75h-0.75zM46.4 58.5h0.75v0.75h-0.75zM70.1 61.4h0.75v0.75h-0.75zM43.1 58.4h0.75v0.75h-0.75zM57.3 69h0.75v0.75h-0.75zM65.6 62.9h0.75v0.75h-0.75zM65.1 55.6h0.75v0.75h-0.75zM40.1 58h0.75v0.75h-0.75zM54.3 62.2h0.75v0.75h-0.75zM41.1 60.4h0.75v0.75h-0.75zM57.6 59.9h0.75v0.75h-0.75zM52.3 57.8h0.75v0.75h-0.75zM40.3 60.3h0.75v0.75h-0.75zM40.2 57.9h0.75v0.75h-0.75zM49.4 63.6h0.75v0.75h-0.75zM74.9 63.8h0.75v0.75h-0.75zM45.1 63.7h0.75v0.75h-0.75zM50.1 65h0.75v0.75h-0.75zM46.3 61h0.75v0.75h-0.75zM50.9 61.5h0.75v0.75h-0.75zM39.4 63.9h0.75v0.75h-0.75zM54.6 62.8h0.75v0.75h-0.75zM45.7 64.2h0.75v0.75h-0.75zM74.1 60.3h0.75v0.75h-0.75zM40.3 57h0.75v0.75h-0.75zM44.7 65.9h0.75v0.75h-0.75zM43.3 61.2h0.75v0.75h-0.75zM58.5 61.8h0.75v0.75h-0.75zM39.9 61.3h0.75v0.75h-0.75zM43.6 63.2h0.75v0.75h-0.75zM67.3 56.6h0.75v0.75h-0.75zM47.2 62.7h0.75v0.75h-0.75zM58.7 57.6h0.75v0.75h-0.75zM53.5 59.3h0.75v0.75h-0.75zM58.7 65.3h0.75v0.75h-0.75zM68.1 60.5h0.75v0.75h-0.75zM59.8 57.6h0.75v0.75h-0.75zM42.9 63.6h0.75v0.75h-0.75zM74.9 61h0.75v0.75h-0.75zM51.5 58.7h0.75v0.75h-0.75zM38.4 62.3h0.75v0.75h-0.75zM50.1 62.5h0.75v0.75h-0.75zM57.9 63.5h0.75v0.75h-0.75zM44.8 62.4h0.75v0.75h-0.75zM56.3 65.4h0.75v0.75h-0.75zM41.4 60h0.75v0.75h-0.75zM61.3 62.1h0.75v0.75h-0.75zM41 61.3h0.75v0.75h-0.75zM59.8 65.7h0.75v0.75h-0.75zM68.9 62.3h0.75v0.75h-0.75zM68.2 59.1h0.75v0.75h-0.75zM54.8 60.2h0.75v0.75h-0.75zM48.8 59.9h0.75v0.75h-0.75zM41.4 59h0.75v0.75h-0.75zM44.9 56.9h0.75v0.75h-0.75zM69.2 63.4h0.75v0.75h-0.75zM42.2 64.7h0.75v0.75h-0.75zM48 62h0.75v0.75h-0.75zM51.1 60.4h0.75v0.75h-0.75zM49.8 59h0.75v0.75h-0.75zM41.5 60h0.75v0.75h-0.75zM41.2 60.8h0.75v0.75h-0.75zM46.1 63.1h0.75v0.75h-0.75zM40.3 55.8h0.75v0.75h-0.75zM51.1 60.7h0.75v0.75h-0.75zM48.7 55.1h0.75v0.75h-0.75zM52.4 65.7h0.75v0.75h-0.75zM56.3 62.8h0.75v0.75h-0.75zM45.2 65.2h0.75v0.75h-0.75zM49.2 63.7h0.75v0.75h-0.75zM42.9 61.7h0.75v0.75h-0.75zM39.1 59.6h0.75v0.75h-0.75zM54 55.6h0.75v0.75h-0.75zM48.1 64.1h0.75v0.75h-0.75zM45.7 63.9h0.75v0.75h-0.75zM49.3 61.9h0.75v0.75h-0.75zM40.1 62.8h0.75v0.75h-0.75zM43.5 65.4h0.75v0.75h-0.75zM41.1 56.8h0.75v0.75h-0.75zM44 60.3h0.75v0.75h-0.75zM43.4 57.5h0.75v0.75h-0.75zM62.6 65.8h0.75v0.75h-0.75zM50.4 61.1h0.75v0.75h-0.75zM65.7 67.3h0.75v0.75h-0.75zM43.8 65.9h0.75v0.75h-0.75zM51.8 60.8h0.75v0.75h-0.75zM60.7 57.2h0.75v0.75h-0.75zM39.6 56.8h0.75v0.75h-0.75zM43.3 58.7h0.75v0.75h-0.75zM42.3 68.1h0.75v0.75h-0.75zM44 61.5h0.75v0.75h-0.75zM42.9 61.2h0.75v0.75h-0.75zM46 60.9h0.75v0.75h-0.75zM58.2 59.7h0.75v0.75h-0.75zM51.5 62.3h0.75v0.75h-0.75zM48.6 65.8h0.75v0.75h-0.75zM39.7 63.8h0.75v0.75h-0.75zM46.5 58.4h0.75v0.75h-0.75zM39.7 62.9h0.75v0.75h-0.75zM42.5 60.5h0.75v0.75h-0.75zM39.4 64.4h0.75v0.75h-0.75zM45.6 63.5h0.75v0.75h-0.75zM47.4 59.2h0.75v0.75h-0.75zM56.7 64.5h0.75v0.75h-0.75zM52.1 60.8h0.75v0.75h-0.75zM39.3 57.5h0.75v0.75h-0.75zM54.7 63.5h0.75v0.75h-0.75zM42.5 56.7h0.75v0.75h-0.75zM49.3 63.2h0.75v0.75h-0.75zM59.4 58.6h0.75v0.75h-0.75zM60.8 56.9h0.75v0.75h-0.75zM56 57.6h0.75v0.75h-0.75zM56.2 59h0.75v0.75h-0.75zM53.8 63.1h0.75v0.75h-0.75zM45 61.8h0.75v0.75h-0.75zM38.1 60.8h0.75v0.75h-0.75zM47.9 64h0.75v0.75h-0.75zM61.7 59.9h0.75v0.75h-0.75zM50.3 66.1h0.75v0.75h-0.75zM45.6 61.7h0.75v0.75h-0.75zM58.1 61.5h0.75v0.75h-0.75zM55.1 61.2h0.75v0.75h-0.75zM56.2 58.9h0.75v0.75h-0.75zM74.3 63.1h0.75v0.75h-0.75zM44.6 59.9h0.75v0.75h-0.75zM49.8 61.9h0.75v0.75h-0.75zM49.1 63.7h0.75v0.75h-0.75zM55.6 63.7h0.75v0.75h-0.75zM42.6 65.8h0.75v0.75h-0.75zM65.4 65.9h0.75v0.75h-0.75zM59.5 64.4h0.75v0.75h-0.75zM46.8 59.5h0.75v0.75h-0.75zM57.6 61.6h0.75v0.75h-0.75zM68.1 62h0.75v0.75h-0.75zM67.1 58.5h0.75v0.75h-0.75zM46.7 64.5h0.75v0.75h-0.75zM41.2 59.7h0.75v0.75h-0.75zM63.6 60.3h0.75v0.75h-0.75zM49.5 61.4h0.75v0.75h-0.75zM41.6 62.5h0.75v0.75h-0.75zM50.9 58.8h0.75v0.75h-0.75zM42.5 63.1h0.75v0.75h-0.75zM42.7 58.8h0.75v0.75h-0.75zM52.2 64.4h0.75v0.75h-0.75zM42.4 65.3h0.75v0.75h-0.75zM57.4 63.4h0.75v0.75h-0.75zM59.5 63.2h0.75v0.75h-0.75zM52.8 55.6h0.75v0.75h-0.75zM39.4 66.9h0.75v0.75h-0.75zM48.7 62.2h0.75v0.75h-0.75zM60.1 61.5h0.75v0.75h-0.75zM47.1 62.5h0.75v0.75h-0.75zM48.1 61.1h0.75v0.75h-0.75zM56.8 61.4h0.75v0.75h-0.75zM49 61.8h0.75v0.75h-0.75zM53.4 63.9h0.75v0.75h-0.75zM67.3 63.5h0.75v0.75h-0.75zM58.4 64.8h0.75v0.75h-0.75zM42.6 65.5h0.75v0.75h-0.75zM42.8 65.2h0.75v0.75h-0.75zM57.1 68.9h0.75v0.75h-0.75zM42.1 59.2h0.75v0.75h-0.75zM38.9 67.2h0.75v0.75h-0.75zM57.9 58.3h0.75v0.75h-0.75zM42 58.8h0.75v0.75h-0.75zM39.9 60.8h0.75v0.75h-0.75zM50.5 62.3h0.75v0.75h-0.75zM39.3 58.8h0.75v0.75h-0.75zM50.8 63.1h0.75v0.75h-0.75zM44.5 66.1h0.75v0.75h-0.75zM48 66.3h0.75v0.75h-0.75zM45.4 60.2h0.75v0.75h-0.75zM49.6 58.7h0.75v0.75h-0.75zM48.5 67.2h0.75v0.75h-0.75zM54.1 62h0.75v0.75h-0.75zM40.4 61.2h0.75v0.75h-0.75zM38.1 58.1h0.75v0.75h-0.75zM54 57.7h0.75v0.75h-0.75zM67.8 54.2h0.75v0.75h-0.75zM39.6 61.7h0.75v0.75h-0.75zM43.3 58.4h0.75v0.75h-0.75zM44.6 61.2h0.75v0.75h-0.75zM54.8 62.6h0.75v0.75h-0.75zM53.6 63.5h0.75v0.75h-0.75zM43.9 61.5h0.75v0.75h-0.75zM65.9 62h0.75v0.75h-0.75zM43.8 66.1h0.75v0.75h-0.75zM42.3 65h0.75v0.75h-0.75zM47.8 62.6h0.75v0.75h-0.75zM44 59.1h0.75v0.75h-0.75zM50.7 58.5h0.75v0.75h-0.75zM40.2 61.9h0.75v0.75h-0.75zM53.4 60.2h0.75v0.75h-0.75zM45.5 59.1h0.75v0.75h-0.75zM38.3 59.3h0.75v0.75h-0.75zM43.3 59.4h0.75v0.75h-0.75zM44.2 60.7h0.75v0.75h-0.75zM44.7 62h0.75v0.75h-0.75zM51.6 61.9h0.75v0.75h-0.75zM38.2 61.3h0.75v0.75h-0.75zM44.4 63.4h0.75v0.75h-0.75zM39 58.1h0.75v0.75h-0.75zM66.5 58.6h0.75v0.75h-0.75zM61.2 58.8h0.75v0.75h-0.75zM38.7 58h0.75v0.75h-0.75zM41.5 61.4h0.75v0.75h-0.75zM38.4 62.2h0.75v0.75h-0.75zM66.5 65.6h0.75v0.75h-0.75zM55.6 61.6h0.75v0.75h-0.75zM43 58.2h0.75v0.75h-0.75zM38.8 61.3h0.75v0.75h-0.75zM42.3 62.1h0.75v0.75h-0.75zM50 62.1h0.75v0.75h-0.75zM47.8 64.8h0.75v0.75h-0.75zM45.3 61.9h0.75v0.75h-0.75zM68.7 66.6h0.75v0.75h-0.75zM60.1 57.7h0.75v0.75h-0.75zM44 61h0.75v0.75h-0.75zM52.7 59.3h0.75v0.75h-0.75zM40.5 62.3h0.75v0.75h-0.75zM51.4 63.8h0.75v0.75h-0.75zM65.9 59.9h0.75v0.75h-0.75zM50.7 59.5h0.75v0.75h-0.75zM60.9 56.4h0.75v0.75h-0.75zM50.8 61h0.75v0.75h-0.75zM50.7 62.2h0.75v0.75h-0.75zM40.2 57.6h0.75v0.75h-0.75zM40.5 61.2h0.75v0.75h-0.75zM46.6 62.4h0.75v0.75h-0.75zM57 56.9h0.75v0.75h-0.75zM44.3 63.3h0.75v0.75h-0.75zM58.7 62.3h0.75v0.75h-0.75zM39.5 61.9h0.75v0.75h-0.75zM51.7 64.9h0.75v0.75h-0.75zM38.4 59.5h0.75v0.75h-0.75zM47.8 56.5h0.75v0.75h-0.75zM41.5 55.6h0.75v0.75h-0.75zM51.3 61.1h0.75v0.75h-0.75zM53.8 63.4h0.75v0.75h-0.75zM41.4 57.4h0.75v0.75h-0.75zM64.5 61.2h0.75v0.75h-0.75zM38.4 59h0.75v0.75h-0.75zM51.5 62.7h0.75v0.75h-0.75zM47.1 65h0.75v0.75h-0.75zM48.2 62.4h0.75v0.75h-0.75zM53.2 58.3h0.75v0.75h-0.75zM48.6 65.3h0.75v0.75h-0.75zM51.2 61.8h0.75v0.75h-0.75zM58.1 64.3h0.75v0.75h-0.75zM39.7 62.9h0.75v0.75h-0.75zM41.8 59.7h0.75v0.75h-0.75zM41.1 61.9h0.75v0.75h-0.75zM63.9 61h0.75v0.75h-0.75zM49.9 60.6h0.75v0.75h-0.75zM45 68.1h0.75v0.75h-0.75zM48.9 66.5h0.75v0.75h-0.75zM59 60.9h0.75v0.75h-0.75zM59.4 63.5h0.75v0.75h-0.75zM66.1 65.4h0.75v0.75h-0.75zM41.6 60.6h0.75v0.75h-0.75zM61.8 61h0.75v0.75h-0.75zM56.4 62.9h0.75v0.75h-0.75zM48.8 62.8h0.75v0.75h-0.75zM41.4 65.8h0.75v0.75h-0.75zM67.5 59.2h0.75v0.75h-0.75zM53.2 59.3h0.75v0.75h-0.75zM43.6 55.7h0.75v0.75h-0.75zM42.4 59.9h0.75v0.75h-0.75zM61.3 65.2h0.75v0.75h-0.75zM52.3 65.7h0.75v0.75h-0.75zM57.6 60.4h0.75v0.75h-0.75zM59.1 66.8h0.75v0.75h-0.75zM40.9 57.6h0.75v0.75h-0.75zM55.2 61.9h0.75v0.75h-0.75zM38.9 63.7h0.75v0.75h-0.75zM39.7 64.7h0.75v0.75h-0.75zM58.2 61.6h0.75v0.75h-0.75zM40 62.6h0.75v0.75h-0.75zM46.9 57.5h0.75v0.75h-0.75zM51.7 57.1h0.75v0.75h-0.75zM46.9 61h0.75v0.75h-0.75zM62.1 65.1h0.75v0.75h-0.75zM46.1 66.2h0.75v0.75h-0.75zM40.7 62h0.75v0.75h-0.75zM45.1 62.8h0.75v0.75h-0.75zM53.5 63h0.75v0.75h-0.75zM58 65.5h0.75v0.75h-0.75zM46.2 62.7h0.75v0.75h-0.75zM42.2 61.9h0.75v0.75h-0.75zM58.4 57.7h0.75v0.75h-0.75zM54.7 65.1h0.75v0.75h-0.75zM57.3 62h0.75v0.75h-0.75zM61.4 62.8h0.75v0.75h-0.75zM51.5 64.5h0.75v0.75h-0.75zM40.4 63.2h0.75v0.75h-0.75zM39.8 62.9h0.75v0.75h-0.75zM60 54.2h0.75v0.75h-0.75zM46.8 63.9h0.75v0.75h-0.75zM51.7 58.7h0.75v0.75h-0.75zM38.1 62.2h0.75v0.75h-0.75zM52.7 66.6h0.75v0.75h-0.75zM56.9 55.6h0.75v0.75h-0.75zM52.8 60.5h0.75v0.75h-0.75zM44.6 60.9h0.75v0.75h-0.75zM55.6 61.1h0.75v0.75h-0.75zM59.7 62.6h0.75v0.75h-0.75zM44.3 62h0.75v0.75h-0.75zM61.3 58.8h0.75v0.75h-0.75zM63.7 57.7h0.75v0.75h-0.75zM49.8 59.9h0.75v0.75h-0.75zM46.9 61.2h0.75v0.75h-0.75zM50.6 55.5h0.75v0.75h-0.75zM58.3 63.7h0.75v0.75h-0.75zM49.8 59.5h0.75v0.75h-0.75zM59.4 59.2h0.75v0.75h-0.75zM48.2 63.5h0.75v0.75h-0.75zM45.8 61.1h0.75v0.75h-0.75zM44.2 61.8h0.75v0.75h-0.75zM58.1 57.6h0.75v0.75h-0.75zM43.1 63.2h0.75v0.75h-0.75zM61.5 65.6h0.75v0.75h-0.75zM44.4 67.9h0.75v0.75h-0.75zM43.1 61.8h0.75v0.75h-0.75zM43 57.8h0.75v0.75h-0.75zM45 59.3h0.75v0.75h-0.75zM61.2 62h0.75v0.75h-0.75zM50 65.5h0.75v0.75h-0.75zM52.3 63.2h0.75v0.75h-0.75zM40.4 66.1h0.75v0.75h-0.75zM42.2 56.1h0.75v0.75h-0.75zM64.6 60.6h0.75v0.75h-0.75zM48.7 63.1h0.75v0.75h-0.75zM59.4 62h0.75v0.75h-0.75zM44.5 67.4h0.75v0.75h-0.75zM55.6 59.2h0.75v0.75h-0.75zM57 59.8h0.75v0.75h-0.75zM49 63.9h0.75v0.75h-0.75zM56 64.2h0.75v0.75h-0.75zM41 59.8h0.75v0.75h-0.75zM50.7 54.7h0.75v0.75h-0.75zM60.9 60.2h0.75v0.75h-0.75zM55.3 59.9h0.75v0.75h-0.75zM51.5 61.4h0.75v0.75h-0.75zM49.6 60.5h0.75v0.75h-0.75zM50.9 61.1h0.75v0.75h-0.75zM57 64.4h0.75v0.75h-0.75zM46.8 62.2h0.75v0.75h-0.75zM47.8 62.1h0.75v0.75h-0.75zM49.8 60.3h0.75v0.75h-0.75zM60.1 66.3h0.75v0.75h-0.75zM44.6 63.1h0.75v0.75h-0.75zM42.2 61.7h0.75v0.75h-0.75zM62.7 63h0.75v0.75h-0.75zM40.5 61.9h0.75v0.75h-0.75zM59.9 64.5h0.75v0.75h-0.75zM40.8 62.7h0.75v0.75h-0.75zM52.5 53.8h0.75v0.75h-0.75zM52.9 60.7h0.75v0.75h-0.75zM38.1 58.4h0.75v0.75h-0.75zM71.3 59.7h0.75v0.75h-0.75zM43.1 66.6h0.75v0.75h-0.75zM50.1 57.8h0.75v0.75h-0.75zM45.6 64.3h0.75v0.75h-0.75zM41.6 57.9h0.75v0.75h-0.75zM46.2 58.3h0.75v0.75h-0.75zM56.7 58.5h0.75v0.75h-0.75zM43.6 65h0.75v0.75h-0.75zM68.6 57h0.75v0.75h-0.75zM60.5 62.9h0.75v0.75h-0.75zM49.8 58h0.75v0.75h-0.75zM53.5 66h0.75v0.75h-0.75zM50.9 62.1h0.75v0.75h-0.75zM39.4 66.1h0.75v0.75h-0.75zM51.1 61.2h0.75v0.75h-0.75zM55.4 66.7h0.75v0.75h-0.75zM73.8 65h0.75v0.75h-0.75zM48.6 62.6h0.75v0.75h-0.75zM75.6 60.1h0.75v0.75h-0.75zM59.5 65h0.75v0.75h-0.75zM54.9 58.8h0.75v0.75h-0.75zM71 57.8h0.75v0.75h-0.75zM60.5 64h0.75v0.75h-0.75zM59.3 57.9h0.75v0.75h-0.75zM50.1 59.7h0.75v0.75h-0.75zM52.2 60.9h0.75v0.75h-0.75zM45.6 61.5h0.75v0.75h-0.75zM68 63.6h0.75v0.75h-0.75zM43.2 66h0.75v0.75h-0.75zM58.1 60.8h0.75v0.75h-0.75zM60.3 59.5h0.75v0.75h-0.75zM39.4 59.1h0.75v0.75h-0.75zM46.2 62.9h0.75v0.75h-0.75zM44.7 63.6h0.75v0.75h-0.75zM42.3 62.1h0.75v0.75h-0.75zM63.9 62.1h0.75v0.75h-0.75zM42.6 57.3h0.75v0.75h-0.75zM60.3 60.6h0.75v0.75h-0.75zM46.3 71.8h0.75v0.75h-0.75zM46.2 59.1h0.75v0.75h-0.75zM38.6 60.4h0.75v0.75h-0.75zM39.4 60.4h0.75v0.75h-0.75zM65.7 59.7h0.75v0.75h-0.75zM38.9 58.3h0.75v0.75h-0.75zM40.8 62.4h0.75v0.75h-0.75zM47 62.6h0.75v0.75h-0.75zM44.5 63h0.75v0.75h-0.75zM43.5 64.8h0.75v0.75h-0.75zM42.6 55.5h0.75v0.75h-0.75zM55.5 55.3h0.75v0.75h-0.75zM43.2 60.1h0.75v0.75h-0.75zM40.1 62h0.75v0.75h-0.75zM53.2 58.4h0.75v0.75h-0.75zM41.7 59.7h0.75v0.75h-0.75zM38.3 60.7h0.75v0.75h-0.75zM46.8 60.6h0.75v0.75h-0.75zM39.4 62.2h0.75v0.75h-0.75zM41 62.4h0.75v0.75h-0.75zM52.2 61.7h0.75v0.75h-0.75zM64.8 65.4h0.75v0.75h-0.75zM73.2 63h0.75v0.75h-0.75zM43.9 57.9h0.75v0.75h-0.75zM54.1 59.5h0.75v0.75h-0.75zM39.5 64.4h0.75v0.75h-0.75zM62.7 59.7h0.75v0.75h-0.75zM42.9 60h0.75v0.75h-0.75zM39.6 63.3h0.75v0.75h-0.75zM62 61.5h0.75v0.75h-0.75zM61.8 63h0.75v0.75h-0.75zM64.6 61.6h0.75v0.75h-0.75zM39.2 67.3h0.75v0.75h-0.75zM46.8 58.9h0.75v0.75h-0.75zM68.4 60.2h0.75v0.75h-0.75zM60.6 61.7h0.75v0.75h-0.75zM55.8 57.8h0.75v0.75h-0.75zM43.6 58.6h0.75v0.75h-0.75zM48.7 67.3h0.75v0.75h-0.75zM50.8 67.9h0.75v0.75h-0.75zM65.4 63.9h0.75v0.75h-0.75zM38 59.7h0.75v0.75h-0.75zM51.9 67.7h0.75v0.75h-0.75zM70.9 61.3h0.75v0.75h-0.75zM45.8 58.2h0.75v0.75h-0.75zM51 55.9h0.75v0.75h-0.75zM43.4 61.5h0.75v0.75h-0.75zM56.6 56.5h0.75v0.75h-0.75zM41.8 61.5h0.75v0.75h-0.75zM58.6 62.8h0.75v0.75h-0.75zM41.2 63.1h0.75v0.75h-0.75zM57.5 61.9h0.75v0.75h-0.75zM59.5 66h0.75v0.75h-0.75zM41.4 62.1h0.75v0.75h-0.75zM48.1 52.7h0.75v0.75h-0.75zM63.9 60.8h0.75v0.75h-0.75zM41.8 59.2h0.75v0.75h-0.75zM39.4 64.3h0.75v0.75h-0.75zM41.2 63.6h0.75v0.75h-0.75zM43.2 57.9h0.75v0.75h-0.75zM42.2 63.7h0.75v0.75h-0.75zM43.1 61.5h0.75v0.75h-0.75zM50.3 58.3h0.75v0.75h-0.75zM49.1 60.7h0.75v0.75h-0.75zM46.8 59h0.75v0.75h-0.75zM61.8 61.1h0.75v0.75h-0.75zM52.6 60.9h0.75v0.75h-0.75zM50.5 64.2h0.75v0.75h-0.75zM67.1 64.6h0.75v0.75h-0.75zM67.8 58.4h0.75v0.75h-0.75zM41.3 58.4h0.75v0.75h-0.75zM52.7 65.9h0.75v0.75h-0.75zM55.6 55.1h0.75v0.75h-0.75zM48.9 60.3h0.75v0.75h-0.75zM67.1 63.7h0.75v0.75h-0.75zM53.2 61.9h0.75v0.75h-0.75zM48.8 62.2h0.75v0.75h-0.75zM39.8 58.4h0.75v0.75h-0.75zM39.8 60.8h0.75v0.75h-0.75zM39.6 63.4h0.75v0.75h-0.75zM52.3 63.9h0.75v0.75h-0.75zM66.1 62.3h0.75v0.75h-0.75zM40.9 60.8h0.75v0.75h-0.75zM46.8 60.4h0.75v0.75h-0.75zM67.1 62.7h0.75v0.75h-0.75zM62.5 55.2h0.75v0.75h-0.75zM48.3 59.7h0.75v0.75h-0.75zM42.1 62.5h0.75v0.75h-0.75zM51.4 65.2h0.75v0.75h-0.75zM41.2 64.3h0.75v0.75h-0.75z" fill="#2a3cff" opacity="0.8"/><path d="M41.3 65.4h0.75v0.75h-0.75zM43.6 79.7h0.75v0.75h-0.75zM49.9 76.5h0.75v0.75h-0.75zM74.4 73.1h0.75v0.75h-0.75zM42.8 78.9h0.75v0.75h-0.75zM54.5 72.1h0.75v0.75h-0.75zM50.7 79.5h0.75v0.75h-0.75zM44.8 71.8h0.75v0.75h-0.75zM40.6 70.7h0.75v0.75h-0.75zM59.6 65h0.75v0.75h-0.75zM46.3 80.6h0.75v0.75h-0.75zM61.5 73.9h0.75v0.75h-0.75zM40.3 72.7h0.75v0.75h-0.75zM42.2 77.7h0.75v0.75h-0.75zM40.3 66.3h0.75v0.75h-0.75zM43.9 66.6h0.75v0.75h-0.75zM40.6 72.4h0.75v0.75h-0.75zM58.7 74.1h0.75v0.75h-0.75zM45 66.9h0.75v0.75h-0.75zM40.1 66.9h0.75v0.75h-0.75zM43.5 76.7h0.75v0.75h-0.75zM42.4 69.6h0.75v0.75h-0.75zM41.7 78.7h0.75v0.75h-0.75zM55.7 70.5h0.75v0.75h-0.75zM41.4 76.4h0.75v0.75h-0.75zM43.5 75h0.75v0.75h-0.75zM49.8 72.6h0.75v0.75h-0.75zM54 71.9h0.75v0.75h-0.75zM62.2 72.4h0.75v0.75h-0.75zM44.3 74.4h0.75v0.75h-0.75zM57 79.2h0.75v0.75h-0.75zM50.3 79.8h0.75v0.75h-0.75zM49.1 78.3h0.75v0.75h-0.75zM44.3 70.1h0.75v0.75h-0.75zM44.1 74.8h0.75v0.75h-0.75zM40 72.8h0.75v0.75h-0.75zM41.2 66.1h0.75v0.75h-0.75zM41 68.5h0.75v0.75h-0.75zM43.8 66.2h0.75v0.75h-0.75zM42 70h0.75v0.75h-0.75zM55.5 73h0.75v0.75h-0.75zM56.6 76h0.75v0.75h-0.75zM40.9 64.8h0.75v0.75h-0.75zM40.4 70.6h0.75v0.75h-0.75zM53.8 77.6h0.75v0.75h-0.75zM71.8 65.9h0.75v0.75h-0.75zM47.2 75.8h0.75v0.75h-0.75zM60.2 74.4h0.75v0.75h-0.75zM55.3 72.2h0.75v0.75h-0.75zM45.8 70.4h0.75v0.75h-0.75zM52.4 72.3h0.75v0.75h-0.75zM50.5 73.3h0.75v0.75h-0.75zM47 70.4h0.75v0.75h-0.75zM45.6 77.9h0.75v0.75h-0.75zM56.9 67.6h0.75v0.75h-0.75zM43.4 73h0.75v0.75h-0.75zM40.1 67h0.75v0.75h-0.75zM40.3 67.5h0.75v0.75h-0.75zM49.1 72.7h0.75v0.75h-0.75zM59 78.1h0.75v0.75h-0.75zM66.1 80.8h0.75v0.75h-0.75zM64.6 78.2h0.75v0.75h-0.75zM41.4 65.8h0.75v0.75h-0.75zM42.3 80.9h0.75v0.75h-0.75zM46.4 68.3h0.75v0.75h-0.75zM53 79.2h0.75v0.75h-0.75zM41.6 77.2h0.75v0.75h-0.75zM42.9 79.3h0.75v0.75h-0.75zM68.4 77h0.75v0.75h-0.75zM68.1 63.6h0.75v0.75h-0.75zM43.4 73.7h0.75v0.75h-0.75zM42.6 71.6h0.75v0.75h-0.75zM54.6 74h0.75v0.75h-0.75zM52.4 72.2h0.75v0.75h-0.75zM47.7 79.1h0.75v0.75h-0.75zM65.4 63.6h0.75v0.75h-0.75zM46 74.5h0.75v0.75h-0.75zM57.9 77.3h0.75v0.75h-0.75zM50.3 70.7h0.75v0.75h-0.75zM50.6 75.7h0.75v0.75h-0.75zM55.2 78.8h0.75v0.75h-0.75zM50.3 68.4h0.75v0.75h-0.75zM42.3 78.9h0.75v0.75h-0.75zM68.5 75.9h0.75v0.75h-0.75zM45.4 65.5h0.75v0.75h-0.75zM57.5 72h0.75v0.75h-0.75zM75.9 70.6h0.75v0.75h-0.75zM40.4 76.2h0.75v0.75h-0.75zM57.6 72.8h0.75v0.75h-0.75zM41.6 77.7h0.75v0.75h-0.75zM56.6 64.7h0.75v0.75h-0.75zM66.9 64.5h0.75v0.75h-0.75zM48 76.7h0.75v0.75h-0.75zM45.6 75.9h0.75v0.75h-0.75zM48.2 79.3h0.75v0.75h-0.75zM52.7 70.6h0.75v0.75h-0.75zM46 67.2h0.75v0.75h-0.75zM44.5 72.8h0.75v0.75h-0.75zM48.6 77.5h0.75v0.75h-0.75zM40.3 79.8h0.75v0.75h-0.75zM72.3 73.1h0.75v0.75h-0.75zM49.6 79.7h0.75v0.75h-0.75zM43.9 79.5h0.75v0.75h-0.75zM47.8 72.8h0.75v0.75h-0.75zM52.1 78.7h0.75v0.75h-0.75zM41.6 80.3h0.75v0.75h-0.75zM50.2 77.9h0.75v0.75h-0.75zM40 80.4h0.75v0.75h-0.75zM40.7 75.4h0.75v0.75h-0.75zM59.2 77.1h0.75v0.75h-0.75zM40.1 75.6h0.75v0.75h-0.75zM40.1 72.6h0.75v0.75h-0.75zM47.3 80.3h0.75v0.75h-0.75zM52.2 71.7h0.75v0.75h-0.75zM77 73.4h0.75v0.75h-0.75zM50.1 74.5h0.75v0.75h-0.75zM40.6 63.4h0.75v0.75h-0.75zM40.5 71.5h0.75v0.75h-0.75zM40.6 73.1h0.75v0.75h-0.75zM46 80.3h0.75v0.75h-0.75zM50.6 73.4h0.75v0.75h-0.75zM42.3 71.8h0.75v0.75h-0.75zM44.9 79.5h0.75v0.75h-0.75zM52.2 74.3h0.75v0.75h-0.75zM56.2 72.9h0.75v0.75h-0.75zM40.6 74.8h0.75v0.75h-0.75zM49.2 71.6h0.75v0.75h-0.75zM47.4 76.8h0.75v0.75h-0.75zM56.8 73.9h0.75v0.75h-0.75zM42.2 68.2h0.75v0.75h-0.75zM48 72.6h0.75v0.75h-0.75zM41.6 79.2h0.75v0.75h-0.75zM47.5 72h0.75v0.75h-0.75zM75 68.6h0.75v0.75h-0.75zM58.2 75.9h0.75v0.75h-0.75zM49.8 80.8h0.75v0.75h-0.75zM62.1 71.2h0.75v0.75h-0.75zM44.4 79.6h0.75v0.75h-0.75zM54.7 79h0.75v0.75h-0.75zM46 69.5h0.75v0.75h-0.75zM54.1 74.5h0.75v0.75h-0.75zM74.6 75.1h0.75v0.75h-0.75zM51 81h0.75v0.75h-0.75zM60.3 73.6h0.75v0.75h-0.75zM41.2 73.8h0.75v0.75h-0.75zM48.3 71.9h0.75v0.75h-0.75zM45.6 71.2h0.75v0.75h-0.75zM50.9 78.1h0.75v0.75h-0.75zM41.9 64.3h0.75v0.75h-0.75zM48.9 67.6h0.75v0.75h-0.75zM40.2 79.3h0.75v0.75h-0.75zM47.1 77.4h0.75v0.75h-0.75zM40.3 79.3h0.75v0.75h-0.75zM45.1 72.9h0.75v0.75h-0.75zM48.1 71.9h0.75v0.75h-0.75zM42 68.6h0.75v0.75h-0.75zM41.9 72.4h0.75v0.75h-0.75zM42.1 69h0.75v0.75h-0.75zM50.7 78.6h0.75v0.75h-0.75zM43.5 77.9h0.75v0.75h-0.75zM59.4 77h0.75v0.75h-0.75zM45.2 64h0.75v0.75h-0.75zM44.7 66.5h0.75v0.75h-0.75zM48.8 74.7h0.75v0.75h-0.75zM61.3 75.7h0.75v0.75h-0.75zM40.9 72.1h0.75v0.75h-0.75zM59.4 75h0.75v0.75h-0.75zM47.7 69.6h0.75v0.75h-0.75zM48.9 70.1h0.75v0.75h-0.75zM48.7 68.5h0.75v0.75h-0.75zM60.8 77h0.75v0.75h-0.75zM46.9 74.4h0.75v0.75h-0.75zM46.1 80.9h0.75v0.75h-0.75zM70.4 72.5h0.75v0.75h-0.75zM44.9 74.1h0.75v0.75h-0.75zM46.9 76.5h0.75v0.75h-0.75zM57.2 63.1h0.75v0.75h-0.75zM48.9 73.7h0.75v0.75h-0.75zM49.6 78.1h0.75v0.75h-0.75zM52 68.6h0.75v0.75h-0.75zM48.2 80.2h0.75v0.75h-0.75zM54.5 77.5h0.75v0.75h-0.75zM57.7 78.3h0.75v0.75h-0.75zM51.9 78.2h0.75v0.75h-0.75zM47.9 79.5h0.75v0.75h-0.75zM61.5 80.7h0.75v0.75h-0.75zM42.1 75.9h0.75v0.75h-0.75zM42.2 79h0.75v0.75h-0.75zM45.1 66.1h0.75v0.75h-0.75zM53.2 69.9h0.75v0.75h-0.75zM43.7 75.3h0.75v0.75h-0.75zM50.2 73.7h0.75v0.75h-0.75zM53.6 80.1h0.75v0.75h-0.75zM45.7 68.7h0.75v0.75h-0.75zM53.8 73.9h0.75v0.75h-0.75zM48.3 78.9h0.75v0.75h-0.75zM58.7 77.9h0.75v0.75h-0.75zM41 68.9h0.75v0.75h-0.75zM49.9 71h0.75v0.75h-0.75zM40.3 79.7h0.75v0.75h-0.75zM53.8 79.8h0.75v0.75h-0.75zM60.3 74.9h0.75v0.75h-0.75zM53.9 78.4h0.75v0.75h-0.75zM42.6 69.3h0.75v0.75h-0.75zM56.5 80.8h0.75v0.75h-0.75zM41.8 73.1h0.75v0.75h-0.75zM44.1 77.6h0.75v0.75h-0.75zM46.7 67.1h0.75v0.75h-0.75zM60.3 77.5h0.75v0.75h-0.75zM73.7 76.6h0.75v0.75h-0.75zM51.5 78.5h0.75v0.75h-0.75zM70.1 72.1h0.75v0.75h-0.75zM63.1 78.7h0.75v0.75h-0.75zM47.6 74.1h0.75v0.75h-0.75zM43.3 75.6h0.75v0.75h-0.75zM64.7 67.2h0.75v0.75h-0.75zM48.5 75h0.75v0.75h-0.75zM51.4 77.4h0.75v0.75h-0.75zM46.6 67.6h0.75v0.75h-0.75zM40.6 77.8h0.75v0.75h-0.75zM40.9 71.9h0.75v0.75h-0.75zM46.7 75.2h0.75v0.75h-0.75zM52 73.1h0.75v0.75h-0.75zM48.2 79.9h0.75v0.75h-0.75zM51.1 69h0.75v0.75h-0.75zM51.1 68.3h0.75v0.75h-0.75zM47 67.8h0.75v0.75h-0.75zM43.1 72.6h0.75v0.75h-0.75zM57.5 72.6h0.75v0.75h-0.75zM50.5 75.2h0.75v0.75h-0.75zM43.9 69.4h0.75v0.75h-0.75zM60.6 75.5h0.75v0.75h-0.75zM55.5 76.7h0.75v0.75h-0.75zM49.8 65.9h0.75v0.75h-0.75zM46.7 66.1h0.75v0.75h-0.75zM55.8 76.7h0.75v0.75h-0.75zM48.7 72.9h0.75v0.75h-0.75zM60.4 78.9h0.75v0.75h-0.75zM52.8 72.1h0.75v0.75h-0.75zM41.2 71.3h0.75v0.75h-0.75zM45.3 79.9h0.75v0.75h-0.75zM42.4 64.8h0.75v0.75h-0.75zM52.2 73.2h0.75v0.75h-0.75zM57.5 79.5h0.75v0.75h-0.75zM41.5 64.2h0.75v0.75h-0.75zM43.3 72.7h0.75v0.75h-0.75zM42.4 79.1h0.75v0.75h-0.75zM49.7 76.9h0.75v0.75h-0.75zM41 72.4h0.75v0.75h-0.75zM46.1 79.9h0.75v0.75h-0.75zM51.7 79.3h0.75v0.75h-0.75zM41 76.5h0.75v0.75h-0.75zM52.8 72.4h0.75v0.75h-0.75zM42.6 68h0.75v0.75h-0.75zM46.4 78.9h0.75v0.75h-0.75zM47.4 76h0.75v0.75h-0.75zM45.7 67.9h0.75v0.75h-0.75zM40.4 75.2h0.75v0.75h-0.75zM43.3 77.1h0.75v0.75h-0.75zM53.2 71.5h0.75v0.75h-0.75zM41.5 71.6h0.75v0.75h-0.75zM41.7 68.3h0.75v0.75h-0.75zM44.9 69.9h0.75v0.75h-0.75zM56.7 74.7h0.75v0.75h-0.75zM40.3 68.6h0.75v0.75h-0.75zM62.9 77.6h0.75v0.75h-0.75zM56 81h0.75v0.75h-0.75zM59.5 76.7h0.75v0.75h-0.75zM47.5 70.4h0.75v0.75h-0.75zM49.3 73.7h0.75v0.75h-0.75zM43.3 69.3h0.75v0.75h-0.75zM45.4 67.5h0.75v0.75h-0.75zM61.6 70.4h0.75v0.75h-0.75zM49.8 78.7h0.75v0.75h-0.75zM53.7 72.3h0.75v0.75h-0.75zM48.3 66.9h0.75v0.75h-0.75zM49.2 75.4h0.75v0.75h-0.75zM66.3 80.4h0.75v0.75h-0.75zM44.6 70.8h0.75v0.75h-0.75zM47.4 64.7h0.75v0.75h-0.75zM49.4 72.9h0.75v0.75h-0.75zM40.8 75.9h0.75v0.75h-0.75zM42.5 69.1h0.75v0.75h-0.75zM56.4 63h0.75v0.75h-0.75zM44.7 73.5h0.75v0.75h-0.75zM56.3 74.4h0.75v0.75h-0.75zM61.5 75.9h0.75v0.75h-0.75zM44.2 72.3h0.75v0.75h-0.75zM48.9 79.1h0.75v0.75h-0.75zM46.6 66.4h0.75v0.75h-0.75zM51.9 75.6h0.75v0.75h-0.75zM44.4 68.5h0.75v0.75h-0.75zM69.1 79.7h0.75v0.75h-0.75zM61.9 75.2h0.75v0.75h-0.75zM40.7 79.5h0.75v0.75h-0.75zM50.3 80.9h0.75v0.75h-0.75zM51.9 78h0.75v0.75h-0.75zM41.5 64.1h0.75v0.75h-0.75zM41.2 72.7h0.75v0.75h-0.75zM40.9 65.3h0.75v0.75h-0.75zM49.2 79.8h0.75v0.75h-0.75zM47.6 80.9h0.75v0.75h-0.75zM53.1 69.4h0.75v0.75h-0.75zM40.4 77.2h0.75v0.75h-0.75zM48.3 76.9h0.75v0.75h-0.75zM47.2 74.6h0.75v0.75h-0.75zM45.9 77.2h0.75v0.75h-0.75zM58.6 72.1h0.75v0.75h-0.75zM42.8 73.9h0.75v0.75h-0.75zM40.3 63.8h0.75v0.75h-0.75zM52 70.5h0.75v0.75h-0.75zM45.8 66.8h0.75v0.75h-0.75zM45.8 77.6h0.75v0.75h-0.75zM43.5 65.5h0.75v0.75h-0.75zM40.3 79.1h0.75v0.75h-0.75zM44.2 78.4h0.75v0.75h-0.75zM50.4 78.4h0.75v0.75h-0.75zM53.6 71.1h0.75v0.75h-0.75zM42.1 80.3h0.75v0.75h-0.75zM47.8 75.6h0.75v0.75h-0.75zM42 78.6h0.75v0.75h-0.75zM53.6 78.3h0.75v0.75h-0.75zM63.8 73.6h0.75v0.75h-0.75zM49.7 79.3h0.75v0.75h-0.75zM40.4 78h0.75v0.75h-0.75zM42.1 71.7h0.75v0.75h-0.75zM40 63.3h0.75v0.75h-0.75zM41.2 80.5h0.75v0.75h-0.75zM42.1 79.8h0.75v0.75h-0.75zM53.2 70.7h0.75v0.75h-0.75zM40.5 64.3h0.75v0.75h-0.75zM45.8 80.4h0.75v0.75h-0.75zM69.1 70.1h0.75v0.75h-0.75zM42.7 80.3h0.75v0.75h-0.75zM54.8 68h0.75v0.75h-0.75zM41.4 72.5h0.75v0.75h-0.75zM41.7 75.5h0.75v0.75h-0.75zM47.7 74.2h0.75v0.75h-0.75zM45.3 80.6h0.75v0.75h-0.75zM41 72.2h0.75v0.75h-0.75zM75.1 80.5h0.75v0.75h-0.75zM40 76.8h0.75v0.75h-0.75zM41.3 78.4h0.75v0.75h-0.75zM47.9 72.7h0.75v0.75h-0.75zM47.6 75.8h0.75v0.75h-0.75zM44.6 78.7h0.75v0.75h-0.75zM51 77.8h0.75v0.75h-0.75zM53.7 79.7h0.75v0.75h-0.75zM43 72.6h0.75v0.75h-0.75zM43.5 69.6h0.75v0.75h-0.75zM43.6 77.6h0.75v0.75h-0.75zM40.6 63.5h0.75v0.75h-0.75zM59.1 78.8h0.75v0.75h-0.75zM44.6 76.1h0.75v0.75h-0.75zM47.8 74.4h0.75v0.75h-0.75zM42.1 67.6h0.75v0.75h-0.75zM43.6 67.2h0.75v0.75h-0.75zM45.8 67.8h0.75v0.75h-0.75zM52.9 76.9h0.75v0.75h-0.75zM43.5 72.3h0.75v0.75h-0.75zM53.9 75.3h0.75v0.75h-0.75zM47.8 73h0.75v0.75h-0.75zM56.7 80.5h0.75v0.75h-0.75zM50.8 73.3h0.75v0.75h-0.75zM41.2 67.5h0.75v0.75h-0.75zM55.1 74.8h0.75v0.75h-0.75zM51.8 79.5h0.75v0.75h-0.75zM42.1 79.3h0.75v0.75h-0.75zM72.2 78.3h0.75v0.75h-0.75zM40.2 76.4h0.75v0.75h-0.75zM43.9 73.6h0.75v0.75h-0.75zM40.7 79.1h0.75v0.75h-0.75zM51 79.9h0.75v0.75h-0.75zM62.7 74.6h0.75v0.75h-0.75zM41.2 79h0.75v0.75h-0.75zM43.5 80.3h0.75v0.75h-0.75zM64.3 75.9h0.75v0.75h-0.75zM49.1 73.2h0.75v0.75h-0.75zM54 77h0.75v0.75h-0.75zM45.1 73.4h0.75v0.75h-0.75zM43.1 71.8h0.75v0.75h-0.75zM58.2 75.2h0.75v0.75h-0.75zM56.8 78.5h0.75v0.75h-0.75zM68.5 65.6h0.75v0.75h-0.75zM40.9 76.6h0.75v0.75h-0.75zM51.9 74.6h0.75v0.75h-0.75zM47.5 71.9h0.75v0.75h-0.75zM42.8 77.1h0.75v0.75h-0.75zM59.4 80.4h0.75v0.75h-0.75zM41.4 72.1h0.75v0.75h-0.75zM48.9 78.9h0.75v0.75h-0.75zM40.9 73.4h0.75v0.75h-0.75zM42.4 70.6h0.75v0.75h-0.75zM44.2 65.6h0.75v0.75h-0.75zM46.5 78.6h0.75v0.75h-0.75zM45.2 80.9h0.75v0.75h-0.75zM41.2 74.1h0.75v0.75h-0.75zM50.2 79.7h0.75v0.75h-0.75zM40.9 70.7h0.75v0.75h-0.75zM44 75h0.75v0.75h-0.75zM43.5 74.7h0.75v0.75h-0.75zM46 79.5h0.75v0.75h-0.75zM61.7 80.7h0.75v0.75h-0.75zM40.6 65.3h0.75v0.75h-0.75zM46.5 66.8h0.75v0.75h-0.75zM51.8 72.2h0.75v0.75h-0.75zM44.4 81h0.75v0.75h-0.75zM54.8 73.8h0.75v0.75h-0.75zM48.7 67.8h0.75v0.75h-0.75zM54 73.8h0.75v0.75h-0.75zM46.4 72.5h0.75v0.75h-0.75zM41.2 73.3h0.75v0.75h-0.75zM62.6 68.3h0.75v0.75h-0.75zM42.7 79.3h0.75v0.75h-0.75zM41.2 76.4h0.75v0.75h-0.75zM41.4 68.7h0.75v0.75h-0.75zM75.3 68.2h0.75v0.75h-0.75zM50.6 73h0.75v0.75h-0.75zM51.6 75.4h0.75v0.75h-0.75zM57.7 77.7h0.75v0.75h-0.75zM45 70.9h0.75v0.75h-0.75zM43.6 80.7h0.75v0.75h-0.75zM46.9 69.5h0.75v0.75h-0.75zM47.4 79.7h0.75v0.75h-0.75zM50 67.9h0.75v0.75h-0.75zM58.8 80.9h0.75v0.75h-0.75zM40.3 71.1h0.75v0.75h-0.75zM43.1 72.2h0.75v0.75h-0.75zM62.6 80.4h0.75v0.75h-0.75zM43.1 74.1h0.75v0.75h-0.75zM40 75.9h0.75v0.75h-0.75zM42.9 79.4h0.75v0.75h-0.75zM45.4 66.4h0.75v0.75h-0.75zM55.9 71.6h0.75v0.75h-0.75zM44 76.8h0.75v0.75h-0.75zM45.8 67.2h0.75v0.75h-0.75zM54.6 77.8h0.75v0.75h-0.75zM46.5 70.3h0.75v0.75h-0.75zM42.6 75h0.75v0.75h-0.75zM46.4 76.1h0.75v0.75h-0.75zM44 78.4h0.75v0.75h-0.75zM50.9 75.5h0.75v0.75h-0.75zM42.9 73.4h0.75v0.75h-0.75zM53.8 70.8h0.75v0.75h-0.75zM49.2 78.9h0.75v0.75h-0.75zM42.7 79.1h0.75v0.75h-0.75zM41.4 76.5h0.75v0.75h-0.75zM50.4 79.8h0.75v0.75h-0.75zM51.6 76.1h0.75v0.75h-0.75zM46 77.4h0.75v0.75h-0.75zM46.1 78.1h0.75v0.75h-0.75zM64.2 74.2h0.75v0.75h-0.75zM42.9 68.8h0.75v0.75h-0.75zM59.3 78.7h0.75v0.75h-0.75zM41.6 79h0.75v0.75h-0.75zM50.9 78h0.75v0.75h-0.75zM51.9 80.2h0.75v0.75h-0.75zM56.6 71.2h0.75v0.75h-0.75zM41.1 72.4h0.75v0.75h-0.75zM51.6 79.3h0.75v0.75h-0.75zM56.7 80.5h0.75v0.75h-0.75zM40.5 76.3h0.75v0.75h-0.75zM51 78.2h0.75v0.75h-0.75zM56.7 76h0.75v0.75h-0.75zM40.6 70.3h0.75v0.75h-0.75zM42.4 65.6h0.75v0.75h-0.75zM46.8 73.4h0.75v0.75h-0.75zM45 70.8h0.75v0.75h-0.75zM47.7 77.9h0.75v0.75h-0.75zM43.2 66.3h0.75v0.75h-0.75zM40.8 77.4h0.75v0.75h-0.75zM41.8 78.8h0.75v0.75h-0.75zM58.6 65.6h0.75v0.75h-0.75zM42.7 78.2h0.75v0.75h-0.75zM51.2 75.3h0.75v0.75h-0.75zM43.3 76.7h0.75v0.75h-0.75zM54.9 76.8h0.75v0.75h-0.75zM48.7 78.8h0.75v0.75h-0.75zM48 64.2h0.75v0.75h-0.75zM42.2 80.1h0.75v0.75h-0.75zM55.4 74.6h0.75v0.75h-0.75zM43.5 67.8h0.75v0.75h-0.75zM45.4 72.4h0.75v0.75h-0.75zM55 79.3h0.75v0.75h-0.75zM44.4 78.8h0.75v0.75h-0.75zM41.9 77h0.75v0.75h-0.75zM40.4 74.7h0.75v0.75h-0.75zM48 79.1h0.75v0.75h-0.75zM45.4 76.3h0.75v0.75h-0.75zM51 80.9h0.75v0.75h-0.75zM54.1 77.9h0.75v0.75h-0.75zM48.8 69.1h0.75v0.75h-0.75zM61.8 79.2h0.75v0.75h-0.75zM42.4 64.8h0.75v0.75h-0.75zM41.2 66.2h0.75v0.75h-0.75zM46.8 74.2h0.75v0.75h-0.75zM44.2 76.7h0.75v0.75h-0.75zM41.6 80.2h0.75v0.75h-0.75zM54.1 73.4h0.75v0.75h-0.75zM49.3 76.4h0.75v0.75h-0.75zM68.5 80.2h0.75v0.75h-0.75zM75 68.8h0.75v0.75h-0.75zM43.1 74.6h0.75v0.75h-0.75zM54.7 71.5h0.75v0.75h-0.75zM42 71.2h0.75v0.75h-0.75zM60.2 78.5h0.75v0.75h-0.75zM49 77.9h0.75v0.75h-0.75zM48.4 78.9h0.75v0.75h-0.75zM42.8 76.1h0.75v0.75h-0.75zM62.8 75h0.75v0.75h-0.75zM54.1 75.6h0.75v0.75h-0.75zM59.9 75.1h0.75v0.75h-0.75zM47.6 73.8h0.75v0.75h-0.75zM40.4 76.5h0.75v0.75h-0.75zM67.8 72.9h0.75v0.75h-0.75zM42.1 73.5h0.75v0.75h-0.75zM42.3 79.3h0.75v0.75h-0.75zM46.6 74.1h0.75v0.75h-0.75zM54.8 75.2h0.75v0.75h-0.75zM50.6 77.5h0.75v0.75h-0.75zM57.9 79.3h0.75v0.75h-0.75zM54.2 74.3h0.75v0.75h-0.75zM58.2 80.1h0.75v0.75h-0.75zM51.3 71.1h0.75v0.75h-0.75zM40.4 72.1h0.75v0.75h-0.75zM47.3 74.2h0.75v0.75h-0.75zM40 80.7h0.75v0.75h-0.75zM64.5 78.3h0.75v0.75h-0.75zM46.7 70h0.75v0.75h-0.75zM66.7 71.4h0.75v0.75h-0.75zM69.9 63h0.75v0.75h-0.75zM40.4 69.1h0.75v0.75h-0.75zM65.9 76.8h0.75v0.75h-0.75zM44.7 72.2h0.75v0.75h-0.75zM48 80.2h0.75v0.75h-0.75zM52.6 78.6h0.75v0.75h-0.75zM40.8 77.9h0.75v0.75h-0.75zM52.3 70.2h0.75v0.75h-0.75zM45.9 73.3h0.75v0.75h-0.75zM41 77h0.75v0.75h-0.75zM42.5 72.1h0.75v0.75h-0.75zM68.4 63.9h0.75v0.75h-0.75zM59.8 67h0.75v0.75h-0.75zM46.4 80h0.75v0.75h-0.75zM42.4 75.4h0.75v0.75h-0.75zM40 70.7h0.75v0.75h-0.75zM45.8 79.5h0.75v0.75h-0.75zM41.9 73.3h0.75v0.75h-0.75zM52.8 76.2h0.75v0.75h-0.75zM56.4 73.8h0.75v0.75h-0.75zM44 80.7h0.75v0.75h-0.75zM45 80.7h0.75v0.75h-0.75zM47.4 78.7h0.75v0.75h-0.75zM40.9 64.8h0.75v0.75h-0.75zM44.9 75h0.75v0.75h-0.75zM60.1 75.3h0.75v0.75h-0.75zM45.1 76h0.75v0.75h-0.75zM47.7 65.8h0.75v0.75h-0.75zM59.6 77.7h0.75v0.75h-0.75zM44.1 69.8h0.75v0.75h-0.75zM63.3 78.3h0.75v0.75h-0.75zM52.8 74.9h0.75v0.75h-0.75zM41.9 70.8h0.75v0.75h-0.75zM44.1 76.3h0.75v0.75h-0.75zM68.3 77.4h0.75v0.75h-0.75zM49.6 78.4h0.75v0.75h-0.75zM42.9 74.9h0.75v0.75h-0.75zM49.5 78.8h0.75v0.75h-0.75zM40.5 78.4h0.75v0.75h-0.75zM48.5 71.4h0.75v0.75h-0.75zM47.8 73.9h0.75v0.75h-0.75zM49.6 79.7h0.75v0.75h-0.75zM54.1 79.6h0.75v0.75h-0.75zM40.2 64.5h0.75v0.75h-0.75zM49.9 69.2h0.75v0.75h-0.75zM44.1 72.2h0.75v0.75h-0.75zM51.4 79.9h0.75v0.75h-0.75zM40.5 77.8h0.75v0.75h-0.75zM53.6 79.6h0.75v0.75h-0.75zM52.3 80.2h0.75v0.75h-0.75zM40.6 66.6h0.75v0.75h-0.75zM48.8 80.9h0.75v0.75h-0.75zM58.3 76.6h0.75v0.75h-0.75zM49.2 77.2h0.75v0.75h-0.75zM47.8 78.2h0.75v0.75h-0.75zM53.9 78.9h0.75v0.75h-0.75zM46.7 77.3h0.75v0.75h-0.75zM49.9 74.5h0.75v0.75h-0.75zM42.1 75.4h0.75v0.75h-0.75zM47.1 79.6h0.75v0.75h-0.75zM44.7 72.1h0.75v0.75h-0.75zM41.5 75.8h0.75v0.75h-0.75zM48.3 69.2h0.75v0.75h-0.75zM45.9 74h0.75v0.75h-0.75zM42.1 68.5h0.75v0.75h-0.75zM56.5 79.5h0.75v0.75h-0.75zM41.8 74.5h0.75v0.75h-0.75zM57.8 74.6h0.75v0.75h-0.75zM46.7 76.8h0.75v0.75h-0.75zM45.8 70.1h0.75v0.75h-0.75zM50.4 71.3h0.75v0.75h-0.75zM52.6 76.1h0.75v0.75h-0.75zM46.8 79.7h0.75v0.75h-0.75zM44.8 75.3h0.75v0.75h-0.75zM54.4 72.7h0.75v0.75h-0.75zM41 78.1h0.75v0.75h-0.75zM56.4 79.9h0.75v0.75h-0.75zM63.5 79.9h0.75v0.75h-0.75zM61.2 79.6h0.75v0.75h-0.75zM44.2 70.8h0.75v0.75h-0.75zM45.4 75.8h0.75v0.75h-0.75zM56.6 78.5h0.75v0.75h-0.75zM43.8 72h0.75v0.75h-0.75zM57.1 74.1h0.75v0.75h-0.75zM52.4 78.4h0.75v0.75h-0.75zM40.9 72.9h0.75v0.75h-0.75zM42.6 75.5h0.75v0.75h-0.75zM40.8 64.7h0.75v0.75h-0.75zM44 78h0.75v0.75h-0.75zM44.5 76h0.75v0.75h-0.75zM50.4 69.8h0.75v0.75h-0.75zM49 75h0.75v0.75h-0.75zM48.2 69.6h0.75v0.75h-0.75zM65.2 75.6h0.75v0.75h-0.75zM74.2 71.3h0.75v0.75h-0.75zM42.4 68.1h0.75v0.75h-0.75zM51.8 77.1h0.75v0.75h-0.75zM52.6 80.3h0.75v0.75h-0.75zM42.4 79.4h0.75v0.75h-0.75zM42.3 71.6h0.75v0.75h-0.75zM60.8 76.9h0.75v0.75h-0.75zM73.4 69h0.75v0.75h-0.75zM44.9 79.6h0.75v0.75h-0.75zM40.9 64.8h0.75v0.75h-0.75zM44.3 73.2h0.75v0.75h-0.75zM53.8 71h0.75v0.75h-0.75zM44.9 77.9h0.75v0.75h-0.75zM41.3 79.1h0.75v0.75h-0.75zM42.1 80.4h0.75v0.75h-0.75zM50.1 77.6h0.75v0.75h-0.75zM45.1 76.5h0.75v0.75h-0.75zM43.5 77.4h0.75v0.75h-0.75zM54.3 72.4h0.75v0.75h-0.75zM72.4 64.7h0.75v0.75h-0.75zM53.1 77.4h0.75v0.75h-0.75zM44.6 65.9h0.75v0.75h-0.75zM41.8 80.2h0.75v0.75h-0.75zM42.7 73.8h0.75v0.75h-0.75zM63.7 68.8h0.75v0.75h-0.75zM41.2 64h0.75v0.75h-0.75zM41.3 69.5h0.75v0.75h-0.75zM41.5 71.7h0.75v0.75h-0.75zM48.2 78.6h0.75v0.75h-0.75zM50.7 78.4h0.75v0.75h-0.75zM43.3 79.8h0.75v0.75h-0.75zM60 72.5h0.75v0.75h-0.75zM76.4 65.7h0.75v0.75h-0.75zM41 72.7h0.75v0.75h-0.75zM50.5 73.4h0.75v0.75h-0.75zM54.9 79.5h0.75v0.75h-0.75zM49.4 74.5h0.75v0.75h-0.75zM50.7 77.3h0.75v0.75h-0.75zM47.9 79.5h0.75v0.75h-0.75zM47.1 71.5h0.75v0.75h-0.75zM53 79.6h0.75v0.75h-0.75zM41.4 69.9h0.75v0.75h-0.75zM55.3 80.2h0.75v0.75h-0.75zM43.4 64h0.75v0.75h-0.75zM44.2 80.4h0.75v0.75h-0.75zM52.1 73h0.75v0.75h-0.75zM40.1 76h0.75v0.75h-0.75zM42.4 77.4h0.75v0.75h-0.75zM47.5 77.8h0.75v0.75h-0.75zM41.6 76.7h0.75v0.75h-0.75zM48 73.2h0.75v0.75h-0.75zM45.3 71.3h0.75v0.75h-0.75zM52.5 77.9h0.75v0.75h-0.75zM57.3 75.8h0.75v0.75h-0.75zM44.7 75.5h0.75v0.75h-0.75zM54.4 79.1h0.75v0.75h-0.75zM49.5 78.4h0.75v0.75h-0.75zM44.5 77.1h0.75v0.75h-0.75zM47 68.4h0.75v0.75h-0.75zM48.2 72.6h0.75v0.75h-0.75zM48.2 74.7h0.75v0.75h-0.75zM44.5 78.5h0.75v0.75h-0.75zM61 78.2h0.75v0.75h-0.75zM46 71.2h0.75v0.75h-0.75zM44.3 80.1h0.75v0.75h-0.75zM49.4 70.2h0.75v0.75h-0.75zM51.9 67h0.75v0.75h-0.75zM45.2 66.3h0.75v0.75h-0.75zM47.5 78.9h0.75v0.75h-0.75zM50 80.4h0.75v0.75h-0.75zM44.4 70.2h0.75v0.75h-0.75zM40.5 80.1h0.75v0.75h-0.75zM41.6 79.4h0.75v0.75h-0.75zM47.2 68.5h0.75v0.75h-0.75zM51 80.6h0.75v0.75h-0.75zM42.3 68.3h0.75v0.75h-0.75zM56.8 73.6h0.75v0.75h-0.75zM46 74.2h0.75v0.75h-0.75zM41.9 69.7h0.75v0.75h-0.75zM52.1 77.2h0.75v0.75h-0.75zM52.9 69.6h0.75v0.75h-0.75zM42.3 80.6h0.75v0.75h-0.75zM50.3 79.4h0.75v0.75h-0.75zM46.9 71.3h0.75v0.75h-0.75zM51.3 78.4h0.75v0.75h-0.75zM43.2 75.8h0.75v0.75h-0.75zM56.3 75.1h0.75v0.75h-0.75zM49.8 76.6h0.75v0.75h-0.75zM42.5 79.7h0.75v0.75h-0.75zM52.7 72.6h0.75v0.75h-0.75zM42.9 73.6h0.75v0.75h-0.75zM40.4 68.9h0.75v0.75h-0.75zM43.9 79h0.75v0.75h-0.75zM43.3 64.9h0.75v0.75h-0.75zM52.5 81h0.75v0.75h-0.75zM43.9 77.8h0.75v0.75h-0.75zM51.8 80h0.75v0.75h-0.75zM57.9 74.3h0.75v0.75h-0.75zM48.9 77.2h0.75v0.75h-0.75zM55.1 76.5h0.75v0.75h-0.75zM53.7 73.3h0.75v0.75h-0.75zM62.7 77.6h0.75v0.75h-0.75zM69.2 74h0.75v0.75h-0.75zM60.8 74.1h0.75v0.75h-0.75zM49.5 79.6h0.75v0.75h-0.75zM41.4 71.5h0.75v0.75h-0.75zM48.6 75.7h0.75v0.75h-0.75zM41.9 68.9h0.75v0.75h-0.75zM64.9 75.5h0.75v0.75h-0.75zM42.5 81h0.75v0.75h-0.75zM43.1 66.9h0.75v0.75h-0.75zM47.4 72.9h0.75v0.75h-0.75zM60.3 73.7h0.75v0.75h-0.75zM42.5 66.6h0.75v0.75h-0.75zM40.6 76.3h0.75v0.75h-0.75zM44.2 73.3h0.75v0.75h-0.75zM45.6 76.3h0.75v0.75h-0.75zM46.4 80h0.75v0.75h-0.75zM49.2 76.4h0.75v0.75h-0.75zM45.4 78h0.75v0.75h-0.75zM46.4 75.2h0.75v0.75h-0.75zM40.6 73.2h0.75v0.75h-0.75zM54 71.2h0.75v0.75h-0.75zM43.7 77.3h0.75v0.75h-0.75zM67.6 74.6h0.75v0.75h-0.75zM40.4 66h0.75v0.75h-0.75z" fill="#2a3cff" opacity="0.8"/><path d="M37 57.5 Q37.4 54.6 39.4 54.6 Q41.2 55 41.2 58 L41.4 82 L37 82 Z" fill="#1428ff"/><path d="M40.9 57.5h0.75v0.75h-0.75zM47.9 56.2h0.75v0.75h-0.75zM40.1 63.3h0.75v0.75h-0.75zM40.6 59.4h0.75v0.75h-0.75zM40.4 62.7h0.75v0.75h-0.75zM40.9 60.5h0.75v0.75h-0.75zM41.8 61.1h0.75v0.75h-0.75zM45.5 59.4h0.75v0.75h-0.75zM40.9 60.9h0.75v0.75h-0.75zM42.5 63.7h0.75v0.75h-0.75zM47.2 62.5h0.75v0.75h-0.75zM44.4 60.3h0.75v0.75h-0.75zM44.2 66.2h0.75v0.75h-0.75zM42.9 58.8h0.75v0.75h-0.75zM41.5 59.6h0.75v0.75h-0.75zM45.5 55.1h0.75v0.75h-0.75zM43.8 62.4h0.75v0.75h-0.75zM41.7 63.4h0.75v0.75h-0.75zM42.9 60.7h0.75v0.75h-0.75zM40.2 56.6h0.75v0.75h-0.75zM41.5 59.9h0.75v0.75h-0.75zM43.3 62.9h0.75v0.75h-0.75zM45 62.1h0.75v0.75h-0.75zM41.2 57.7h0.75v0.75h-0.75zM46.7 55.8h0.75v0.75h-0.75zM43.5 62.3h0.75v0.75h-0.75zM45.1 55.8h0.75v0.75h-0.75zM41.8 56.9h0.75v0.75h-0.75zM40.6 58.3h0.75v0.75h-0.75zM47 66.6h0.75v0.75h-0.75zM45.1 65.7h0.75v0.75h-0.75zM46.4 57.7h0.75v0.75h-0.75zM44.1 58.8h0.75v0.75h-0.75zM45.1 56.5h0.75v0.75h-0.75zM40.1 64.8h0.75v0.75h-0.75zM41.2 62.6h0.75v0.75h-0.75zM45 66.4h0.75v0.75h-0.75zM42.4 57.4h0.75v0.75h-0.75zM44.4 62.9h0.75v0.75h-0.75zM44.3 59.7h0.75v0.75h-0.75zM41 63.7h0.75v0.75h-0.75zM40.5 66.6h0.75v0.75h-0.75zM40.1 57.3h0.75v0.75h-0.75zM44 65.9h0.75v0.75h-0.75zM47.8 56.7h0.75v0.75h-0.75zM48 65h0.75v0.75h-0.75zM44 65.2h0.75v0.75h-0.75zM41.6 57.9h0.75v0.75h-0.75zM45.7 62.6h0.75v0.75h-0.75zM44.7 61.8h0.75v0.75h-0.75zM42.7 57.7h0.75v0.75h-0.75zM40.9 62h0.75v0.75h-0.75zM40.3 64.3h0.75v0.75h-0.75zM45 63.5h0.75v0.75h-0.75zM40.3 61.1h0.75v0.75h-0.75zM45.5 59.4h0.75v0.75h-0.75zM47.3 66.6h0.75v0.75h-0.75zM40.8 56h0.75v0.75h-0.75zM41.8 66.5h0.75v0.75h-0.75zM45 64h0.75v0.75h-0.75zM43.5 58.3h0.75v0.75h-0.75zM44.8 66.8h0.75v0.75h-0.75zM40.2 58.4h0.75v0.75h-0.75zM43.2 56h0.75v0.75h-0.75zM43.1 61.6h0.75v0.75h-0.75zM46.5 59.5h0.75v0.75h-0.75zM45 65.5h0.75v0.75h-0.75zM40 61.5h0.75v0.75h-0.75zM42.6 60.3h0.75v0.75h-0.75zM40.9 60.6h0.75v0.75h-0.75zM41.3 57.8h0.75v0.75h-0.75zM42.6 62h0.75v0.75h-0.75zM41 65.5h0.75v0.75h-0.75zM41.4 65.2h0.75v0.75h-0.75zM43.2 57h0.75v0.75h-0.75zM41.6 55.4h0.75v0.75h-0.75zM44.1 61.7h0.75v0.75h-0.75zM41.1 67h0.75v0.75h-0.75zM41.1 59.4h0.75v0.75h-0.75zM41.9 58.7h0.75v0.75h-0.75zM45.1 66.8h0.75v0.75h-0.75zM40.3 57h0.75v0.75h-0.75zM43.1 65.8h0.75v0.75h-0.75zM41.4 66.8h0.75v0.75h-0.75zM46.4 66.3h0.75v0.75h-0.75zM40.3 59.3h0.75v0.75h-0.75zM43.5 55.7h0.75v0.75h-0.75zM44 56.1h0.75v0.75h-0.75zM42.6 57.3h0.75v0.75h-0.75zM41.8 58.8h0.75v0.75h-0.75zM40 61.1h0.75v0.75h-0.75zM46.8 60.9h0.75v0.75h-0.75zM42.8 62.4h0.75v0.75h-0.75zM40.8 64.8h0.75v0.75h-0.75zM41.2 64.2h0.75v0.75h-0.75zM42.3 64.2h0.75v0.75h-0.75zM44.6 64.1h0.75v0.75h-0.75zM40.9 62.4h0.75v0.75h-0.75zM45.4 66.7h0.75v0.75h-0.75zM44.2 58.1h0.75v0.75h-0.75zM43.5 62.4h0.75v0.75h-0.75zM47 64.9h0.75v0.75h-0.75zM42.5 61h0.75v0.75h-0.75zM45.1 57.7h0.75v0.75h-0.75zM45.2 57.7h0.75v0.75h-0.75zM42.1 60.6h0.75v0.75h-0.75zM44.4 62.6h0.75v0.75h-0.75zM40.5 62.7h0.75v0.75h-0.75zM40.2 62.9h0.75v0.75h-0.75zM41.3 57h0.75v0.75h-0.75zM40.5 63.1h0.75v0.75h-0.75zM45.3 58.8h0.75v0.75h-0.75zM47.9 66.6h0.75v0.75h-0.75zM41.8 60.9h0.75v0.75h-0.75zM40.9 65.8h0.75v0.75h-0.75zM40.9 63.6h0.75v0.75h-0.75zM43 56.8h0.75v0.75h-0.75zM41 58.2h0.75v0.75h-0.75zM40.3 56.8h0.75v0.75h-0.75zM40.5 64.7h0.75v0.75h-0.75zM43.8 64.9h0.75v0.75h-0.75zM44.1 60.9h0.75v0.75h-0.75zM40.3 57.1h0.75v0.75h-0.75zM44.8 58.7h0.75v0.75h-0.75zM40.4 59.8h0.75v0.75h-0.75zM40 65.8h0.75v0.75h-0.75zM44.6 60.2h0.75v0.75h-0.75zM41.4 56.8h0.75v0.75h-0.75zM45.3 64.6h0.75v0.75h-0.75zM44.4 65.3h0.75v0.75h-0.75zM40.4 56.2h0.75v0.75h-0.75zM43.6 60.2h0.75v0.75h-0.75zM44.3 59.7h0.75v0.75h-0.75zM43.4 58.2h0.75v0.75h-0.75zM41.8 57h0.75v0.75h-0.75zM43.7 66.5h0.75v0.75h-0.75zM43.6 60.4h0.75v0.75h-0.75zM44.7 65.4h0.75v0.75h-0.75zM40.1 61h0.75v0.75h-0.75zM41.6 57.1h0.75v0.75h-0.75zM41 60.4h0.75v0.75h-0.75zM42.2 65.9h0.75v0.75h-0.75zM43.1 55.5h0.75v0.75h-0.75zM41 60.2h0.75v0.75h-0.75zM40.3 55.4h0.75v0.75h-0.75zM47.2 66.7h0.75v0.75h-0.75zM42.5 62.9h0.75v0.75h-0.75zM40.5 61.5h0.75v0.75h-0.75zM42.9 64.3h0.75v0.75h-0.75zM42.6 66.2h0.75v0.75h-0.75zM41.8 62.7h0.75v0.75h-0.75zM44.5 55h0.75v0.75h-0.75zM42.3 67h0.75v0.75h-0.75zM47.2 58.7h0.75v0.75h-0.75zM44.4 65.6h0.75v0.75h-0.75zM43.2 56.8h0.75v0.75h-0.75zM40.5 64.1h0.75v0.75h-0.75zM40.9 66.5h0.75v0.75h-0.75zM40.5 56.5h0.75v0.75h-0.75zM44.3 64.9h0.75v0.75h-0.75zM42.6 59.7h0.75v0.75h-0.75zM42.3 56.1h0.75v0.75h-0.75zM43.9 62.4h0.75v0.75h-0.75zM40.4 54.8h0.75v0.75h-0.75zM43.3 66h0.75v0.75h-0.75zM42.2 59.9h0.75v0.75h-0.75zM41.5 62.5h0.75v0.75h-0.75zM41.4 66.3h0.75v0.75h-0.75zM43.3 64.6h0.75v0.75h-0.75zM41.2 58.3h0.75v0.75h-0.75zM41.1 66.2h0.75v0.75h-0.75zM40.9 65.5h0.75v0.75h-0.75zM42.5 62.7h0.75v0.75h-0.75zM47.6 57h0.75v0.75h-0.75zM41.2 63.3h0.75v0.75h-0.75zM45.1 66.2h0.75v0.75h-0.75zM40.7 57.7h0.75v0.75h-0.75zM44.1 59.8h0.75v0.75h-0.75zM40.1 63.7h0.75v0.75h-0.75zM41.5 63.6h0.75v0.75h-0.75zM42.1 65h0.75v0.75h-0.75zM47.1 65.1h0.75v0.75h-0.75zM42.4 62.1h0.75v0.75h-0.75zM40.7 62.6h0.75v0.75h-0.75zM42 59.1h0.75v0.75h-0.75zM44.5 62h0.75v0.75h-0.75zM42.6 62.2h0.75v0.75h-0.75zM44.2 54.6h0.75v0.75h-0.75zM43.5 57.8h0.75v0.75h-0.75zM43.6 64.3h0.75v0.75h-0.75zM40.8 60.6h0.75v0.75h-0.75zM42.8 55.5h0.75v0.75h-0.75zM40.2 56.5h0.75v0.75h-0.75zM45.3 63.3h0.75v0.75h-0.75zM43.1 60.7h0.75v0.75h-0.75zM41.2 54.7h0.75v0.75h-0.75zM40.5 61.6h0.75v0.75h-0.75zM40.7 56.2h0.75v0.75h-0.75zM42 66.1h0.75v0.75h-0.75zM42.7 64.3h0.75v0.75h-0.75zM42.3 58.7h0.75v0.75h-0.75zM47 61.6h0.75v0.75h-0.75zM46.1 58.4h0.75v0.75h-0.75zM41.7 58h0.75v0.75h-0.75zM45.1 66.2h0.75v0.75h-0.75zM44 62.4h0.75v0.75h-0.75zM40.3 65.5h0.75v0.75h-0.75zM40.7 56.6h0.75v0.75h-0.75zM47.5 65.4h0.75v0.75h-0.75zM44.2 62.7h0.75v0.75h-0.75zM40.1 56.6h0.75v0.75h-0.75zM44.7 60.6h0.75v0.75h-0.75zM41.9 64.3h0.75v0.75h-0.75zM40.4 66.7h0.75v0.75h-0.75zM43.3 61.4h0.75v0.75h-0.75zM43.8 60.4h0.75v0.75h-0.75zM41 58.8h0.75v0.75h-0.75zM40.7 59.6h0.75v0.75h-0.75zM45.7 66.4h0.75v0.75h-0.75zM40.3 56.7h0.75v0.75h-0.75zM41.4 56.9h0.75v0.75h-0.75zM42.2 57.7h0.75v0.75h-0.75zM42.4 59.4h0.75v0.75h-0.75zM40.1 61.5h0.75v0.75h-0.75zM42.4 56.7h0.75v0.75h-0.75zM43.3 57.4h0.75v0.75h-0.75zM44.6 60.4h0.75v0.75h-0.75zM40.4 65.9h0.75v0.75h-0.75zM42.1 59h0.75v0.75h-0.75zM41.7 61.8h0.75v0.75h-0.75z" fill="#1e30ff" opacity="0.85"/><path d="M41 75 L58 79 L72 80.8 L41 80.8 Z" fill="#1a30ff" opacity="0.7" filter="url(#bl1)"/><path d="M36.8 80.1 L60 80.4 L75.5 81.5 L75.5 82.7 L60 83.9 L36.8 84 Z" fill="#1a30ff"/><path d="M37.4 81.5 L58 81.6 L66 82.2 L58 82.8 L37.4 83 Z" fill="url(#hotA)" filter="url(#bl1)"/><ellipse cx="38.6" cy="82.2" rx="1.4" ry="0.8" fill="#d02010" filter="url(#bl1)"/></g>
<g filter="url(#bl0)"><path d="M111 71 L146 71 L146 80 L111 80 Z" fill="#3a4cff" opacity="0.3" filter="url(#bl2)"/><path d="M113.5 79.4h0.6v0.6h-0.6zM114.1 80.7h0.6v0.6h-0.6zM119.7 79.7h0.6v0.6h-0.6zM136.6 79.3h0.6v0.6h-0.6zM119.6 79.8h0.6v0.6h-0.6zM139 76.7h0.6v0.6h-0.6zM113.1 76.6h0.6v0.6h-0.6zM113.8 75.8h0.6v0.6h-0.6zM120.9 84.3h0.6v0.6h-0.6zM138.5 79.6h0.6v0.6h-0.6zM151.1 83.3h0.6v0.6h-0.6zM131.1 92.8h0.6v0.6h-0.6zM145.8 82.8h0.6v0.6h-0.6zM149.7 75.1h0.6v0.6h-0.6zM109.3 52.5h0.6v0.6h-0.6zM102.7 61h0.6v0.6h-0.6zM151.9 82.2h0.6v0.6h-0.6zM150 81.6h0.6v0.6h-0.6zM105.5 56.8h0.6v0.6h-0.6zM118.9 77h0.6v0.6h-0.6zM100 71.7h0.6v0.6h-0.6zM131.6 79.8h0.6v0.6h-0.6zM145.3 55.7h0.6v0.6h-0.6zM139.4 56.7h0.6v0.6h-0.6zM106.8 80.3h0.6v0.6h-0.6zM109 80.3h0.6v0.6h-0.6zM124.5 78.6h0.6v0.6h-0.6zM121.8 81.6h0.6v0.6h-0.6zM152.3 81.5h0.6v0.6h-0.6zM102.9 83.3h0.6v0.6h-0.6zM116.4 84.6h0.6v0.6h-0.6zM140.7 50.2h0.6v0.6h-0.6zM146.2 79.3h0.6v0.6h-0.6zM127.8 82h0.6v0.6h-0.6zM129.8 68.7h0.6v0.6h-0.6zM101.7 73h0.6v0.6h-0.6zM114.6 70.3h0.6v0.6h-0.6zM125.1 82.6h0.6v0.6h-0.6zM122.7 87.5h0.6v0.6h-0.6zM134.3 58.2h0.6v0.6h-0.6zM137.7 72.6h0.6v0.6h-0.6zM120.7 81.9h0.6v0.6h-0.6zM127.6 80.8h0.6v0.6h-0.6zM117.3 83.1h0.6v0.6h-0.6zM147.8 75.1h0.6v0.6h-0.6zM142.8 63.6h0.6v0.6h-0.6zM106.5 89.1h0.6v0.6h-0.6zM150.4 77.4h0.6v0.6h-0.6zM107.6 82.4h0.6v0.6h-0.6zM101.6 80.4h0.6v0.6h-0.6zM118.4 62.3h0.6v0.6h-0.6zM150.4 71.4h0.6v0.6h-0.6zM139.4 66.2h0.6v0.6h-0.6zM104.4 87h0.6v0.6h-0.6zM103.4 92.1h0.6v0.6h-0.6zM137.9 63.1h0.6v0.6h-0.6zM134.5 50.3h0.6v0.6h-0.6zM109.1 83.8h0.6v0.6h-0.6zM147 50.3h0.6v0.6h-0.6zM146.5 79.1h0.6v0.6h-0.6zM118.1 89.4h0.6v0.6h-0.6zM103.5 79.8h0.6v0.6h-0.6zM113.7 65.7h0.6v0.6h-0.6zM143.9 78.2h0.6v0.6h-0.6zM123.2 78.8h0.6v0.6h-0.6zM125.4 61h0.6v0.6h-0.6zM145.5 53.5h0.6v0.6h-0.6zM117.6 78.5h0.6v0.6h-0.6zM119.4 57.9h0.6v0.6h-0.6zM126.2 91.5h0.6v0.6h-0.6zM140.6 72.9h0.6v0.6h-0.6zM108.2 70.2h0.6v0.6h-0.6zM118.3 62.2h0.6v0.6h-0.6zM125.5 81.3h0.6v0.6h-0.6zM106.8 90.5h0.6v0.6h-0.6zM125.9 58.6h0.6v0.6h-0.6zM146.3 83.2h0.6v0.6h-0.6zM104 85.1h0.6v0.6h-0.6zM113 70.9h0.6v0.6h-0.6zM115.2 58.5h0.6v0.6h-0.6zM138.1 81h0.6v0.6h-0.6zM125.2 71.4h0.6v0.6h-0.6zM147.4 80.2h0.6v0.6h-0.6zM111 83.3h0.6v0.6h-0.6zM149.6 53.8h0.6v0.6h-0.6zM111.2 76.9h0.6v0.6h-0.6zM143.1 78.3h0.6v0.6h-0.6zM139.9 92.6h0.6v0.6h-0.6zM122.4 80.6h0.6v0.6h-0.6zM142.1 59.4h0.6v0.6h-0.6zM128.1 49h0.6v0.6h-0.6zM131.1 58.6h0.6v0.6h-0.6zM129.8 59.4h0.6v0.6h-0.6zM122.9 58.9h0.6v0.6h-0.6zM140.5 86.8h0.6v0.6h-0.6zM113.9 68.5h0.6v0.6h-0.6zM121.3 84.4h0.6v0.6h-0.6zM113.2 80h0.6v0.6h-0.6zM146.4 73.8h0.6v0.6h-0.6zM117.9 71h0.6v0.6h-0.6zM131.7 76.6h0.6v0.6h-0.6zM146.5 85.6h0.6v0.6h-0.6zM118.8 62.1h0.6v0.6h-0.6zM121.3 80.7h0.6v0.6h-0.6zM146.4 92.8h0.6v0.6h-0.6zM131.2 51.2h0.6v0.6h-0.6zM123.3 86h0.6v0.6h-0.6zM142.7 56h0.6v0.6h-0.6zM110.5 70.6h0.6v0.6h-0.6zM119.2 63.8h0.6v0.6h-0.6zM107.2 52.8h0.6v0.6h-0.6zM135.8 77.8h0.6v0.6h-0.6zM121.3 84.5h0.6v0.6h-0.6zM145.3 58.9h0.6v0.6h-0.6zM139 61.8h0.6v0.6h-0.6zM145.3 81.7h0.6v0.6h-0.6zM145.9 77.2h0.6v0.6h-0.6zM129.8 82.7h0.6v0.6h-0.6zM127 49.2h0.6v0.6h-0.6zM151.1 75.3h0.6v0.6h-0.6zM109.5 56.2h0.6v0.6h-0.6zM128.6 79.5h0.6v0.6h-0.6zM119.7 77.6h0.6v0.6h-0.6zM124.8 84.8h0.6v0.6h-0.6zM117.8 72.8h0.6v0.6h-0.6zM142.2 73.2h0.6v0.6h-0.6zM137.1 90.5h0.6v0.6h-0.6zM124.2 78.4h0.6v0.6h-0.6zM139 61.3h0.6v0.6h-0.6zM105.4 55.9h0.6v0.6h-0.6zM113.6 76.5h0.6v0.6h-0.6zM148.9 51.2h0.6v0.6h-0.6zM117.6 76.8h0.6v0.6h-0.6zM147.9 67.7h0.6v0.6h-0.6zM144.9 49.3h0.6v0.6h-0.6zM145.3 59.6h0.6v0.6h-0.6zM140.1 71.8h0.6v0.6h-0.6zM151.9 58.3h0.6v0.6h-0.6zM115.3 50.5h0.6v0.6h-0.6zM112.7 67.5h0.6v0.6h-0.6zM123 64.2h0.6v0.6h-0.6zM120.9 63.8h0.6v0.6h-0.6zM118 55.1h0.6v0.6h-0.6zM101.6 57.9h0.6v0.6h-0.6zM120.9 80.5h0.6v0.6h-0.6zM109.6 50.8h0.6v0.6h-0.6zM149.3 83.6h0.6v0.6h-0.6zM136.6 89.2h0.6v0.6h-0.6zM128.4 74.5h0.6v0.6h-0.6zM101 80.2h0.6v0.6h-0.6zM120.5 85.3h0.6v0.6h-0.6zM130.1 82.5h0.6v0.6h-0.6zM147.1 83h0.6v0.6h-0.6zM138.2 85.4h0.6v0.6h-0.6zM127.6 57.2h0.6v0.6h-0.6zM135.4 76h0.6v0.6h-0.6zM117.1 84.2h0.6v0.6h-0.6zM101.4 49.5h0.6v0.6h-0.6zM118 76.3h0.6v0.6h-0.6zM105.6 71h0.6v0.6h-0.6zM124.1 67.2h0.6v0.6h-0.6zM135.2 51h0.6v0.6h-0.6zM112.4 82.9h0.6v0.6h-0.6zM147.5 83.3h0.6v0.6h-0.6zM132.3 82.3h0.6v0.6h-0.6zM149.5 59.7h0.6v0.6h-0.6zM102.2 85.2h0.6v0.6h-0.6zM108.4 55.4h0.6v0.6h-0.6zM113.4 76.8h0.6v0.6h-0.6zM132.4 65.6h0.6v0.6h-0.6zM129.9 51.6h0.6v0.6h-0.6zM150.1 78.8h0.6v0.6h-0.6zM121.4 71h0.6v0.6h-0.6zM150.1 77.2h0.6v0.6h-0.6zM130.1 53.1h0.6v0.6h-0.6zM139.9 70.4h0.6v0.6h-0.6zM116.7 57.7h0.6v0.6h-0.6zM141.3 79.3h0.6v0.6h-0.6zM130.7 79.8h0.6v0.6h-0.6zM130.6 62.5h0.6v0.6h-0.6zM101.1 85.6h0.6v0.6h-0.6zM148.5 86h0.6v0.6h-0.6zM148.8 76.6h0.6v0.6h-0.6zM147.7 85.1h0.6v0.6h-0.6zM143.4 65.9h0.6v0.6h-0.6zM122.5 82.8h0.6v0.6h-0.6zM123.6 77.8h0.6v0.6h-0.6zM152.9 70.4h0.6v0.6h-0.6zM141.1 67.3h0.6v0.6h-0.6zM117.3 77.1h0.6v0.6h-0.6z" fill="#5a6aff" opacity="0.55"/><path d="M136.9 79.6h0.75v0.75h-0.75zM123.9 68.1h0.75v0.75h-0.75zM144 69.1h0.75v0.75h-0.75zM111.9 64.1h0.75v0.75h-0.75zM122.3 79.9h0.75v0.75h-0.75zM114.2 62.1h0.75v0.75h-0.75zM133.1 68.7h0.75v0.75h-0.75zM133.4 74.1h0.75v0.75h-0.75zM113.4 64.9h0.75v0.75h-0.75zM138.7 63.6h0.75v0.75h-0.75zM129.3 71.9h0.75v0.75h-0.75zM127.2 59.4h0.75v0.75h-0.75zM147.4 63.6h0.75v0.75h-0.75zM135.4 75.7h0.75v0.75h-0.75zM125.8 57.8h0.75v0.75h-0.75zM112.5 61.4h0.75v0.75h-0.75zM138.6 72h0.75v0.75h-0.75zM137.6 71.1h0.75v0.75h-0.75zM139.4 65h0.75v0.75h-0.75zM121.7 61.2h0.75v0.75h-0.75zM137.3 55.9h0.75v0.75h-0.75zM149.1 56.6h0.75v0.75h-0.75zM136.8 61.5h0.75v0.75h-0.75zM127.6 79h0.75v0.75h-0.75zM132.9 67.2h0.75v0.75h-0.75zM137 69.9h0.75v0.75h-0.75zM134.7 79.8h0.75v0.75h-0.75zM131.4 66.8h0.75v0.75h-0.75zM129.3 68.1h0.75v0.75h-0.75zM134.2 64.7h0.75v0.75h-0.75zM144.3 65.1h0.75v0.75h-0.75zM113.8 69.6h0.75v0.75h-0.75zM129.4 76h0.75v0.75h-0.75zM142.6 72.9h0.75v0.75h-0.75zM131.6 71.7h0.75v0.75h-0.75zM137 67h0.75v0.75h-0.75zM122.8 64.6h0.75v0.75h-0.75zM134.7 75.4h0.75v0.75h-0.75zM127 63.8h0.75v0.75h-0.75zM113.4 64.7h0.75v0.75h-0.75zM132.2 55.5h0.75v0.75h-0.75zM121.7 63.8h0.75v0.75h-0.75zM112.9 79.7h0.75v0.75h-0.75zM131.2 74.3h0.75v0.75h-0.75zM142.3 80.7h0.75v0.75h-0.75zM121.6 63.1h0.75v0.75h-0.75zM111.2 78.4h0.75v0.75h-0.75zM144.1 71.7h0.75v0.75h-0.75zM131.1 73.6h0.75v0.75h-0.75zM131.9 80.7h0.75v0.75h-0.75zM126.4 72.2h0.75v0.75h-0.75zM117.3 66.6h0.75v0.75h-0.75zM136.3 58.3h0.75v0.75h-0.75zM127.4 75.1h0.75v0.75h-0.75zM132.5 70.7h0.75v0.75h-0.75zM137 67.3h0.75v0.75h-0.75zM128.1 75h0.75v0.75h-0.75zM136.8 62h0.75v0.75h-0.75zM132.9 65.5h0.75v0.75h-0.75zM131.7 77.7h0.75v0.75h-0.75zM127.7 59.8h0.75v0.75h-0.75zM137.4 67.7h0.75v0.75h-0.75zM123.4 66.3h0.75v0.75h-0.75zM129.2 79.2h0.75v0.75h-0.75zM114.1 63.3h0.75v0.75h-0.75zM122.3 74.5h0.75v0.75h-0.75zM129.6 80.1h0.75v0.75h-0.75zM135.2 69.4h0.75v0.75h-0.75zM138.1 71.8h0.75v0.75h-0.75zM145.9 64.4h0.75v0.75h-0.75zM123 76.2h0.75v0.75h-0.75zM115 73.1h0.75v0.75h-0.75zM134.2 58.1h0.75v0.75h-0.75zM115.7 73.9h0.75v0.75h-0.75zM123.5 56.4h0.75v0.75h-0.75zM118.9 59.3h0.75v0.75h-0.75zM139.8 73.1h0.75v0.75h-0.75zM109.2 79.2h0.75v0.75h-0.75zM140.7 69.4h0.75v0.75h-0.75zM129.5 59.3h0.75v0.75h-0.75zM140.8 76.2h0.75v0.75h-0.75zM121.6 56.5h0.75v0.75h-0.75zM123 59.9h0.75v0.75h-0.75zM124.4 61.7h0.75v0.75h-0.75zM119.6 58.5h0.75v0.75h-0.75zM124.6 74.5h0.75v0.75h-0.75zM127.4 72.6h0.75v0.75h-0.75zM149.1 73.4h0.75v0.75h-0.75zM133.7 73h0.75v0.75h-0.75zM132.1 80.3h0.75v0.75h-0.75zM143.4 63.5h0.75v0.75h-0.75zM124.5 65.3h0.75v0.75h-0.75zM142 71.5h0.75v0.75h-0.75zM144 69.7h0.75v0.75h-0.75zM129.9 67.3h0.75v0.75h-0.75zM125.3 58.2h0.75v0.75h-0.75zM119.7 75.9h0.75v0.75h-0.75zM137.3 67.8h0.75v0.75h-0.75zM140.1 63.2h0.75v0.75h-0.75zM142.3 57h0.75v0.75h-0.75zM140.8 67h0.75v0.75h-0.75zM142.1 76.3h0.75v0.75h-0.75zM135.5 67.1h0.75v0.75h-0.75zM129.4 66.8h0.75v0.75h-0.75zM122.7 69.3h0.75v0.75h-0.75zM133.1 58.7h0.75v0.75h-0.75zM138.1 74h0.75v0.75h-0.75zM138.6 71.5h0.75v0.75h-0.75zM118.7 77.9h0.75v0.75h-0.75zM122.6 78.1h0.75v0.75h-0.75zM138.5 64.4h0.75v0.75h-0.75zM135.5 58.1h0.75v0.75h-0.75zM145 78.2h0.75v0.75h-0.75zM129.7 57.6h0.75v0.75h-0.75zM137.5 74.2h0.75v0.75h-0.75zM136.9 57.2h0.75v0.75h-0.75zM128.9 57.4h0.75v0.75h-0.75zM145.2 58.8h0.75v0.75h-0.75zM113.8 54.4h0.75v0.75h-0.75zM113.8 62.5h0.75v0.75h-0.75zM130.9 66.2h0.75v0.75h-0.75zM136.4 75.9h0.75v0.75h-0.75zM140.3 56.1h0.75v0.75h-0.75zM118.5 63.3h0.75v0.75h-0.75zM127.3 71.7h0.75v0.75h-0.75zM121.5 76.7h0.75v0.75h-0.75zM122.2 55.3h0.75v0.75h-0.75zM112.8 64.4h0.75v0.75h-0.75zM134.2 62.7h0.75v0.75h-0.75zM145.4 63.7h0.75v0.75h-0.75zM138.6 70.8h0.75v0.75h-0.75zM145.3 69.6h0.75v0.75h-0.75zM130.4 68.5h0.75v0.75h-0.75zM134.4 66.1h0.75v0.75h-0.75zM122.8 62.2h0.75v0.75h-0.75zM123.5 79.8h0.75v0.75h-0.75zM133.2 78.6h0.75v0.75h-0.75zM130 67h0.75v0.75h-0.75zM114.1 59.7h0.75v0.75h-0.75zM109.8 63.3h0.75v0.75h-0.75zM145.2 58.4h0.75v0.75h-0.75zM133.9 56.8h0.75v0.75h-0.75zM145.3 60.5h0.75v0.75h-0.75zM121.3 76.8h0.75v0.75h-0.75zM127.9 76.7h0.75v0.75h-0.75zM145.7 60.8h0.75v0.75h-0.75zM133.5 60.8h0.75v0.75h-0.75zM120 60.3h0.75v0.75h-0.75zM140.9 76.1h0.75v0.75h-0.75zM137.1 67.5h0.75v0.75h-0.75zM134.4 63.6h0.75v0.75h-0.75zM134.9 59.8h0.75v0.75h-0.75zM139.1 80.5h0.75v0.75h-0.75zM128 69.4h0.75v0.75h-0.75zM135.3 76.4h0.75v0.75h-0.75zM120.2 64.5h0.75v0.75h-0.75zM135.5 76.3h0.75v0.75h-0.75zM141.6 63.9h0.75v0.75h-0.75zM128.2 71.1h0.75v0.75h-0.75zM133.3 58.9h0.75v0.75h-0.75zM116.9 72.3h0.75v0.75h-0.75zM129.5 68.3h0.75v0.75h-0.75zM145.1 77.9h0.75v0.75h-0.75zM136.5 70.8h0.75v0.75h-0.75zM120.8 75.1h0.75v0.75h-0.75zM118.6 72.4h0.75v0.75h-0.75zM141.3 65.5h0.75v0.75h-0.75zM145.6 77.9h0.75v0.75h-0.75zM133.5 72.4h0.75v0.75h-0.75zM129.8 80.5h0.75v0.75h-0.75zM128.9 72.5h0.75v0.75h-0.75zM132.4 62.2h0.75v0.75h-0.75zM119.6 62.2h0.75v0.75h-0.75zM125.3 63.1h0.75v0.75h-0.75zM114 66h0.75v0.75h-0.75zM118.1 78.3h0.75v0.75h-0.75zM139.5 68.7h0.75v0.75h-0.75zM116.3 65.1h0.75v0.75h-0.75zM137.4 56.7h0.75v0.75h-0.75zM113 73.6h0.75v0.75h-0.75zM133.7 80h0.75v0.75h-0.75zM144.3 77h0.75v0.75h-0.75zM131.2 79.3h0.75v0.75h-0.75zM131.3 64.4h0.75v0.75h-0.75zM145.1 62.2h0.75v0.75h-0.75zM142.6 79.5h0.75v0.75h-0.75zM130.1 68.8h0.75v0.75h-0.75zM143.1 57.2h0.75v0.75h-0.75zM126.4 61.5h0.75v0.75h-0.75zM131.1 68.2h0.75v0.75h-0.75zM145 63.2h0.75v0.75h-0.75zM117.6 56.4h0.75v0.75h-0.75zM145 68.4h0.75v0.75h-0.75zM122.5 76.2h0.75v0.75h-0.75zM138.6 69h0.75v0.75h-0.75zM123.1 59.6h0.75v0.75h-0.75zM134.6 56.5h0.75v0.75h-0.75zM126.4 74.7h0.75v0.75h-0.75zM114.3 71.8h0.75v0.75h-0.75zM136.4 58.3h0.75v0.75h-0.75zM118 55.8h0.75v0.75h-0.75zM120.5 67.5h0.75v0.75h-0.75zM126.9 59.7h0.75v0.75h-0.75zM120.7 59.9h0.75v0.75h-0.75zM132.8 69.2h0.75v0.75h-0.75zM119.4 76.8h0.75v0.75h-0.75zM135.5 62.6h0.75v0.75h-0.75zM132.3 54.6h0.75v0.75h-0.75zM145.2 70.7h0.75v0.75h-0.75zM138.2 80.8h0.75v0.75h-0.75zM124.2 72h0.75v0.75h-0.75zM113.6 68.9h0.75v0.75h-0.75zM143.6 63.4h0.75v0.75h-0.75zM145.2 65.2h0.75v0.75h-0.75zM113.3 75h0.75v0.75h-0.75zM112.9 71.5h0.75v0.75h-0.75zM123.9 71.8h0.75v0.75h-0.75zM138 79.1h0.75v0.75h-0.75zM113.5 64.2h0.75v0.75h-0.75zM128.9 77.5h0.75v0.75h-0.75zM122.5 60.4h0.75v0.75h-0.75zM121.8 79.5h0.75v0.75h-0.75zM148.4 62.2h0.75v0.75h-0.75zM134.5 80.5h0.75v0.75h-0.75zM131.5 70.6h0.75v0.75h-0.75zM143.3 55.5h0.75v0.75h-0.75zM124.7 74.4h0.75v0.75h-0.75zM115.7 65.2h0.75v0.75h-0.75zM113.8 68.3h0.75v0.75h-0.75zM144.2 76.5h0.75v0.75h-0.75zM128.1 73.2h0.75v0.75h-0.75zM129.5 55.1h0.75v0.75h-0.75zM132 72.3h0.75v0.75h-0.75zM141.6 71.5h0.75v0.75h-0.75zM147.1 72.9h0.75v0.75h-0.75zM142.1 61h0.75v0.75h-0.75zM125.5 72.4h0.75v0.75h-0.75zM146.1 71.5h0.75v0.75h-0.75zM129.2 76h0.75v0.75h-0.75zM130.4 56.4h0.75v0.75h-0.75zM128.4 72.8h0.75v0.75h-0.75zM136.9 56.5h0.75v0.75h-0.75zM142.4 79.2h0.75v0.75h-0.75zM141.6 56.5h0.75v0.75h-0.75zM135.5 65.3h0.75v0.75h-0.75zM123.7 60.8h0.75v0.75h-0.75zM119.3 61.8h0.75v0.75h-0.75zM130.8 62.9h0.75v0.75h-0.75zM129.1 69.5h0.75v0.75h-0.75zM136 75.3h0.75v0.75h-0.75zM117.2 73.5h0.75v0.75h-0.75zM124.4 65.7h0.75v0.75h-0.75zM135 80.8h0.75v0.75h-0.75zM128 76.3h0.75v0.75h-0.75zM140.8 61h0.75v0.75h-0.75zM134.3 69h0.75v0.75h-0.75zM142.9 69.7h0.75v0.75h-0.75zM118 80.3h0.75v0.75h-0.75zM140.9 72.5h0.75v0.75h-0.75zM119.2 67.6h0.75v0.75h-0.75zM144 76.5h0.75v0.75h-0.75zM115.7 77.8h0.75v0.75h-0.75zM134.5 59.7h0.75v0.75h-0.75zM142.7 76h0.75v0.75h-0.75zM133.1 57h0.75v0.75h-0.75zM111.4 69.3h0.75v0.75h-0.75zM117.4 68.9h0.75v0.75h-0.75zM137.8 59.9h0.75v0.75h-0.75zM124.2 61h0.75v0.75h-0.75zM124.1 76.7h0.75v0.75h-0.75zM142.8 76.5h0.75v0.75h-0.75zM146.8 59.1h0.75v0.75h-0.75zM126.2 57.4h0.75v0.75h-0.75zM126.1 78.4h0.75v0.75h-0.75zM145.7 68.8h0.75v0.75h-0.75zM138.9 71.2h0.75v0.75h-0.75zM134.1 71.8h0.75v0.75h-0.75zM119.4 71.9h0.75v0.75h-0.75zM120.4 71.9h0.75v0.75h-0.75zM121.9 73.7h0.75v0.75h-0.75zM143.1 80.3h0.75v0.75h-0.75zM140.1 65.1h0.75v0.75h-0.75zM125.6 62.5h0.75v0.75h-0.75zM121.8 61.9h0.75v0.75h-0.75zM118.8 78.6h0.75v0.75h-0.75zM141.3 72.5h0.75v0.75h-0.75zM139.8 76.1h0.75v0.75h-0.75zM115.6 73.6h0.75v0.75h-0.75zM140.4 81h0.75v0.75h-0.75zM146 67.4h0.75v0.75h-0.75zM127.9 80.4h0.75v0.75h-0.75zM141.9 61.1h0.75v0.75h-0.75zM145 59.3h0.75v0.75h-0.75zM131.2 64.6h0.75v0.75h-0.75zM128.3 66.4h0.75v0.75h-0.75zM135.7 69.5h0.75v0.75h-0.75zM145.5 55.2h0.75v0.75h-0.75zM146.6 56.4h0.75v0.75h-0.75zM142.8 66.6h0.75v0.75h-0.75zM143.2 77.2h0.75v0.75h-0.75zM124 62h0.75v0.75h-0.75zM138.8 72.4h0.75v0.75h-0.75zM112.8 74.4h0.75v0.75h-0.75zM129 61.4h0.75v0.75h-0.75zM133.5 74.4h0.75v0.75h-0.75zM140.1 75.1h0.75v0.75h-0.75zM119.6 64.8h0.75v0.75h-0.75zM111 79h0.75v0.75h-0.75zM139 65.2h0.75v0.75h-0.75zM144.6 71.9h0.75v0.75h-0.75zM147.8 58.5h0.75v0.75h-0.75zM123.9 64.8h0.75v0.75h-0.75zM141.3 70h0.75v0.75h-0.75zM142.3 63.7h0.75v0.75h-0.75zM130.6 59.5h0.75v0.75h-0.75zM146.5 61.4h0.75v0.75h-0.75zM144.1 66.1h0.75v0.75h-0.75zM110 77.6h0.75v0.75h-0.75zM138.2 56.9h0.75v0.75h-0.75zM134.8 53.9h0.75v0.75h-0.75zM137.1 70h0.75v0.75h-0.75zM140.9 52.6h0.75v0.75h-0.75zM145.6 62.5h0.75v0.75h-0.75zM121 55.6h0.75v0.75h-0.75zM121.7 64.8h0.75v0.75h-0.75zM145.7 52.8h0.75v0.75h-0.75zM119.2 58.2h0.75v0.75h-0.75zM144.4 80.9h0.75v0.75h-0.75zM113.3 64.1h0.75v0.75h-0.75zM134.8 60h0.75v0.75h-0.75zM122.9 63.9h0.75v0.75h-0.75zM117.3 77.1h0.75v0.75h-0.75zM140.4 79.5h0.75v0.75h-0.75zM140.9 75.9h0.75v0.75h-0.75zM121.1 78.9h0.75v0.75h-0.75zM123.7 71.2h0.75v0.75h-0.75zM126.9 58.4h0.75v0.75h-0.75zM139.5 68.2h0.75v0.75h-0.75zM146.2 63.6h0.75v0.75h-0.75zM114.2 76.8h0.75v0.75h-0.75zM135.2 72.2h0.75v0.75h-0.75zM141.8 70.2h0.75v0.75h-0.75zM134.6 74.3h0.75v0.75h-0.75zM116.3 63.6h0.75v0.75h-0.75zM144.3 57h0.75v0.75h-0.75zM148.2 59.1h0.75v0.75h-0.75zM111.8 77.2h0.75v0.75h-0.75zM112.8 68.4h0.75v0.75h-0.75zM146.1 72h0.75v0.75h-0.75zM140.3 54.1h0.75v0.75h-0.75zM125.9 66.6h0.75v0.75h-0.75zM139 63.4h0.75v0.75h-0.75zM144 61.4h0.75v0.75h-0.75zM131.9 64.6h0.75v0.75h-0.75zM143.9 78.6h0.75v0.75h-0.75zM114.4 58.2h0.75v0.75h-0.75zM132.6 78.4h0.75v0.75h-0.75zM113.9 67.9h0.75v0.75h-0.75zM113.9 72.1h0.75v0.75h-0.75zM133.7 66.8h0.75v0.75h-0.75zM130.1 71.4h0.75v0.75h-0.75zM137.4 65.3h0.75v0.75h-0.75zM124.4 60.6h0.75v0.75h-0.75zM118.7 75.9h0.75v0.75h-0.75zM122.9 72.4h0.75v0.75h-0.75zM109.7 71.1h0.75v0.75h-0.75zM118.8 73.7h0.75v0.75h-0.75zM129.3 79.6h0.75v0.75h-0.75zM144.9 75.6h0.75v0.75h-0.75zM122 73.1h0.75v0.75h-0.75zM130.7 57h0.75v0.75h-0.75zM134.3 78.8h0.75v0.75h-0.75zM122.9 72.9h0.75v0.75h-0.75zM113.9 64.4h0.75v0.75h-0.75zM116.3 73.7h0.75v0.75h-0.75zM145.6 62.4h0.75v0.75h-0.75zM128.6 65.4h0.75v0.75h-0.75zM131.2 71.8h0.75v0.75h-0.75zM118.2 74.8h0.75v0.75h-0.75zM138.9 77.6h0.75v0.75h-0.75zM141.2 60.1h0.75v0.75h-0.75zM118.4 66.6h0.75v0.75h-0.75zM123.2 59.7h0.75v0.75h-0.75zM128.6 73.3h0.75v0.75h-0.75zM132.1 58.4h0.75v0.75h-0.75zM140.2 65.4h0.75v0.75h-0.75zM132.4 79.9h0.75v0.75h-0.75zM112.7 79.9h0.75v0.75h-0.75zM149 76.8h0.75v0.75h-0.75zM118.8 68h0.75v0.75h-0.75zM133.5 77.7h0.75v0.75h-0.75zM140.5 74.9h0.75v0.75h-0.75zM132.9 71.4h0.75v0.75h-0.75zM133.6 63h0.75v0.75h-0.75zM136.2 57.2h0.75v0.75h-0.75zM134.1 67.5h0.75v0.75h-0.75zM145.4 56.5h0.75v0.75h-0.75zM135.1 79.8h0.75v0.75h-0.75zM117.6 78.6h0.75v0.75h-0.75zM123 79.2h0.75v0.75h-0.75zM125.2 64.2h0.75v0.75h-0.75zM126.4 66.4h0.75v0.75h-0.75zM137.2 70.3h0.75v0.75h-0.75zM137.3 57.1h0.75v0.75h-0.75zM121.7 65.3h0.75v0.75h-0.75zM124.4 79.5h0.75v0.75h-0.75zM127.5 60.6h0.75v0.75h-0.75zM146 72.7h0.75v0.75h-0.75zM139.2 70.4h0.75v0.75h-0.75zM128.4 66.5h0.75v0.75h-0.75zM132.9 71.3h0.75v0.75h-0.75zM140.2 58.7h0.75v0.75h-0.75zM133.5 70.1h0.75v0.75h-0.75zM120 68.5h0.75v0.75h-0.75zM137.1 64.3h0.75v0.75h-0.75zM143.5 80.7h0.75v0.75h-0.75zM124.3 77.9h0.75v0.75h-0.75zM109.8 79.3h0.75v0.75h-0.75zM135.4 58.8h0.75v0.75h-0.75zM135.8 77.9h0.75v0.75h-0.75zM144.1 69.4h0.75v0.75h-0.75zM123.8 60h0.75v0.75h-0.75zM111.8 79.9h0.75v0.75h-0.75zM136.1 70.1h0.75v0.75h-0.75zM130.9 75h0.75v0.75h-0.75zM136.1 64.8h0.75v0.75h-0.75zM135.3 57h0.75v0.75h-0.75zM145 63.5h0.75v0.75h-0.75zM135.1 59.7h0.75v0.75h-0.75zM109.7 70.8h0.75v0.75h-0.75zM110.3 67.9h0.75v0.75h-0.75zM129.8 60.4h0.75v0.75h-0.75zM127.1 62.9h0.75v0.75h-0.75zM121.3 72.8h0.75v0.75h-0.75zM131.1 79.6h0.75v0.75h-0.75zM143 61.5h0.75v0.75h-0.75zM140.1 74.4h0.75v0.75h-0.75zM125.1 71.8h0.75v0.75h-0.75zM113.1 68.7h0.75v0.75h-0.75zM145.2 69.6h0.75v0.75h-0.75zM130 79.8h0.75v0.75h-0.75zM121.7 56.9h0.75v0.75h-0.75zM143.4 60.5h0.75v0.75h-0.75zM112.4 74.7h0.75v0.75h-0.75zM126.9 79.1h0.75v0.75h-0.75zM121.4 70.4h0.75v0.75h-0.75zM119 74.5h0.75v0.75h-0.75zM127.7 79.4h0.75v0.75h-0.75zM143.2 69.5h0.75v0.75h-0.75zM121.8 79.2h0.75v0.75h-0.75zM133.7 78.1h0.75v0.75h-0.75zM120.4 74.9h0.75v0.75h-0.75zM124.6 78.9h0.75v0.75h-0.75zM132.6 67.8h0.75v0.75h-0.75zM120.5 58.1h0.75v0.75h-0.75zM128.1 58.8h0.75v0.75h-0.75zM134.7 65.5h0.75v0.75h-0.75zM144.4 60.4h0.75v0.75h-0.75zM116.9 71.3h0.75v0.75h-0.75zM131.5 56.7h0.75v0.75h-0.75zM126.6 74.3h0.75v0.75h-0.75zM145.2 66h0.75v0.75h-0.75zM133.9 58.3h0.75v0.75h-0.75zM129.3 78.3h0.75v0.75h-0.75zM129.8 66h0.75v0.75h-0.75zM149.2 73.7h0.75v0.75h-0.75zM117.9 69.3h0.75v0.75h-0.75zM132.9 74h0.75v0.75h-0.75zM121.9 78.1h0.75v0.75h-0.75zM140.3 79.4h0.75v0.75h-0.75zM123.6 74.9h0.75v0.75h-0.75zM134.5 67.3h0.75v0.75h-0.75zM127.2 73.3h0.75v0.75h-0.75zM132.6 69.5h0.75v0.75h-0.75zM136.3 60h0.75v0.75h-0.75zM133.2 68.3h0.75v0.75h-0.75zM133.2 80.9h0.75v0.75h-0.75zM133.3 60.1h0.75v0.75h-0.75zM125.3 57.2h0.75v0.75h-0.75zM138.1 56.3h0.75v0.75h-0.75zM132.1 76.7h0.75v0.75h-0.75zM144.6 69.7h0.75v0.75h-0.75zM117.7 55.5h0.75v0.75h-0.75zM139.5 67.8h0.75v0.75h-0.75zM148.2 56.6h0.75v0.75h-0.75zM117.6 80.9h0.75v0.75h-0.75zM119.4 80.8h0.75v0.75h-0.75zM146 55.3h0.75v0.75h-0.75zM140.7 59.3h0.75v0.75h-0.75zM137.2 77.8h0.75v0.75h-0.75zM142.8 64.4h0.75v0.75h-0.75zM113 69.9h0.75v0.75h-0.75zM134 68.1h0.75v0.75h-0.75zM126 68.2h0.75v0.75h-0.75zM137 78.2h0.75v0.75h-0.75zM137.5 56.4h0.75v0.75h-0.75zM130.9 66.1h0.75v0.75h-0.75zM117.7 63.2h0.75v0.75h-0.75zM117.1 73.5h0.75v0.75h-0.75zM127.8 80.9h0.75v0.75h-0.75zM144.5 54.2h0.75v0.75h-0.75zM136.1 65.3h0.75v0.75h-0.75zM135.9 65.7h0.75v0.75h-0.75zM127.3 66.3h0.75v0.75h-0.75zM147.9 60.1h0.75v0.75h-0.75zM120.2 58.4h0.75v0.75h-0.75zM118.5 75.1h0.75v0.75h-0.75zM138.8 77.3h0.75v0.75h-0.75zM113.4 77.4h0.75v0.75h-0.75zM135.5 80.7h0.75v0.75h-0.75zM135.3 69.7h0.75v0.75h-0.75zM147.2 62.8h0.75v0.75h-0.75zM110.6 68.7h0.75v0.75h-0.75zM126.7 75.8h0.75v0.75h-0.75zM117.7 62.1h0.75v0.75h-0.75zM140.1 60.1h0.75v0.75h-0.75zM129.3 61.3h0.75v0.75h-0.75zM136.7 62.3h0.75v0.75h-0.75zM133.9 62.4h0.75v0.75h-0.75zM135.5 71.2h0.75v0.75h-0.75zM145.8 74.3h0.75v0.75h-0.75zM142.5 64h0.75v0.75h-0.75zM116.5 71.3h0.75v0.75h-0.75zM133.5 56.7h0.75v0.75h-0.75zM144 74.9h0.75v0.75h-0.75zM132.3 66.6h0.75v0.75h-0.75zM130 56h0.75v0.75h-0.75zM128.4 67.2h0.75v0.75h-0.75zM135.4 77.1h0.75v0.75h-0.75zM133.5 53.7h0.75v0.75h-0.75zM144.2 56.7h0.75v0.75h-0.75zM136.8 74.5h0.75v0.75h-0.75zM129.9 79.9h0.75v0.75h-0.75zM126.8 79.1h0.75v0.75h-0.75zM142 63.2h0.75v0.75h-0.75zM148.4 69.1h0.75v0.75h-0.75zM115.2 64h0.75v0.75h-0.75zM122.6 63.1h0.75v0.75h-0.75zM138.4 65.4h0.75v0.75h-0.75zM125.8 62.1h0.75v0.75h-0.75zM108.7 66.1h0.75v0.75h-0.75zM133 68.4h0.75v0.75h-0.75zM112.2 62.5h0.75v0.75h-0.75zM116.3 71.1h0.75v0.75h-0.75zM143.7 66.9h0.75v0.75h-0.75zM114.6 72.3h0.75v0.75h-0.75zM121.4 68.7h0.75v0.75h-0.75zM135.7 75h0.75v0.75h-0.75zM142.8 72.8h0.75v0.75h-0.75zM112.5 75.2h0.75v0.75h-0.75zM114 69.9h0.75v0.75h-0.75zM113.8 56.2h0.75v0.75h-0.75zM112.5 71.2h0.75v0.75h-0.75zM112.7 79.1h0.75v0.75h-0.75zM128.5 71.6h0.75v0.75h-0.75zM145.9 64.3h0.75v0.75h-0.75zM136.5 64.5h0.75v0.75h-0.75zM124.8 61.3h0.75v0.75h-0.75zM129.6 66.2h0.75v0.75h-0.75zM141.8 60.1h0.75v0.75h-0.75zM142.1 59.9h0.75v0.75h-0.75zM144.9 79.7h0.75v0.75h-0.75zM140.3 66.6h0.75v0.75h-0.75zM118.2 71.9h0.75v0.75h-0.75zM141.9 76.3h0.75v0.75h-0.75zM142.9 73.6h0.75v0.75h-0.75zM144.4 73.6h0.75v0.75h-0.75zM144.2 80.7h0.75v0.75h-0.75zM124.4 75.4h0.75v0.75h-0.75zM132.9 60.7h0.75v0.75h-0.75zM114.2 77.4h0.75v0.75h-0.75zM109.9 57.9h0.75v0.75h-0.75zM140.8 55.3h0.75v0.75h-0.75zM150 71.5h0.75v0.75h-0.75zM126.7 59.6h0.75v0.75h-0.75zM135.7 67.2h0.75v0.75h-0.75zM141.5 74.5h0.75v0.75h-0.75zM143.3 72.4h0.75v0.75h-0.75zM141.1 77.2h0.75v0.75h-0.75zM141 73.7h0.75v0.75h-0.75zM143.6 60.7h0.75v0.75h-0.75zM131.6 67.4h0.75v0.75h-0.75zM138.2 68h0.75v0.75h-0.75zM131 56.8h0.75v0.75h-0.75zM131.3 76.3h0.75v0.75h-0.75zM136 61.9h0.75v0.75h-0.75zM129.6 79.5h0.75v0.75h-0.75zM122.2 58.9h0.75v0.75h-0.75zM144.9 66.8h0.75v0.75h-0.75zM114.4 66.3h0.75v0.75h-0.75zM112.8 76.5h0.75v0.75h-0.75zM124.4 57.5h0.75v0.75h-0.75zM144.2 75.5h0.75v0.75h-0.75zM133.9 56.7h0.75v0.75h-0.75zM134 70.7h0.75v0.75h-0.75zM119.7 65.3h0.75v0.75h-0.75zM127.7 68.1h0.75v0.75h-0.75zM143.2 71.8h0.75v0.75h-0.75zM127.6 61.8h0.75v0.75h-0.75zM141.4 58.5h0.75v0.75h-0.75zM108.9 63.1h0.75v0.75h-0.75zM145.5 64.6h0.75v0.75h-0.75zM127.6 64.4h0.75v0.75h-0.75zM124.8 80.7h0.75v0.75h-0.75zM140 68.4h0.75v0.75h-0.75zM145 80h0.75v0.75h-0.75zM127.4 72.6h0.75v0.75h-0.75zM119.5 76.9h0.75v0.75h-0.75zM144.1 76.5h0.75v0.75h-0.75zM131.4 68h0.75v0.75h-0.75zM124.4 73.7h0.75v0.75h-0.75zM143.6 58.1h0.75v0.75h-0.75zM130.3 76.9h0.75v0.75h-0.75zM124.4 61.3h0.75v0.75h-0.75zM132.1 59.9h0.75v0.75h-0.75zM112.8 71.6h0.75v0.75h-0.75zM121.8 65.2h0.75v0.75h-0.75zM123.3 70.3h0.75v0.75h-0.75zM138.9 61h0.75v0.75h-0.75zM134 78.4h0.75v0.75h-0.75zM140.8 76.1h0.75v0.75h-0.75zM131.9 66h0.75v0.75h-0.75zM148.5 66.6h0.75v0.75h-0.75zM132.7 72.4h0.75v0.75h-0.75zM138 70.5h0.75v0.75h-0.75zM132 70h0.75v0.75h-0.75zM128.2 62.1h0.75v0.75h-0.75zM125.6 56.2h0.75v0.75h-0.75zM130.9 54.7h0.75v0.75h-0.75zM142.3 58.8h0.75v0.75h-0.75zM133.1 64.1h0.75v0.75h-0.75zM117.8 68.5h0.75v0.75h-0.75zM118.3 80.3h0.75v0.75h-0.75zM111.1 64.6h0.75v0.75h-0.75zM127.5 70.1h0.75v0.75h-0.75zM131.9 75.7h0.75v0.75h-0.75zM129.1 56.9h0.75v0.75h-0.75zM131.1 79.5h0.75v0.75h-0.75zM113.3 69.7h0.75v0.75h-0.75zM138.2 78h0.75v0.75h-0.75zM108.8 68.6h0.75v0.75h-0.75zM142.2 80h0.75v0.75h-0.75zM138.4 54.3h0.75v0.75h-0.75zM127.3 71.6h0.75v0.75h-0.75zM112.9 75.9h0.75v0.75h-0.75zM114.5 63h0.75v0.75h-0.75zM131.7 78.2h0.75v0.75h-0.75zM131 59h0.75v0.75h-0.75zM113.8 62.8h0.75v0.75h-0.75zM130.7 67.5h0.75v0.75h-0.75zM116.1 78.3h0.75v0.75h-0.75zM117.9 74.3h0.75v0.75h-0.75zM122.6 62.6h0.75v0.75h-0.75zM147.6 64h0.75v0.75h-0.75zM134 78.5h0.75v0.75h-0.75zM112.8 65.1h0.75v0.75h-0.75zM142.4 67.3h0.75v0.75h-0.75zM114.2 77.4h0.75v0.75h-0.75zM121.3 57h0.75v0.75h-0.75zM132.9 70.9h0.75v0.75h-0.75zM129.9 80.1h0.75v0.75h-0.75zM125.1 60.4h0.75v0.75h-0.75zM134.5 77.8h0.75v0.75h-0.75zM142 80.2h0.75v0.75h-0.75zM143.6 59.5h0.75v0.75h-0.75zM142 70.4h0.75v0.75h-0.75zM148.9 77.6h0.75v0.75h-0.75zM114.9 76.8h0.75v0.75h-0.75zM127.6 68.5h0.75v0.75h-0.75zM115.9 69.5h0.75v0.75h-0.75zM127 58.4h0.75v0.75h-0.75zM137.9 70.2h0.75v0.75h-0.75zM112.9 72.4h0.75v0.75h-0.75zM148.1 75.5h0.75v0.75h-0.75zM121 65.1h0.75v0.75h-0.75zM129.3 74.8h0.75v0.75h-0.75zM141.2 65.3h0.75v0.75h-0.75zM145.8 65.9h0.75v0.75h-0.75zM143.7 63.4h0.75v0.75h-0.75zM149.9 65h0.75v0.75h-0.75zM133.4 66.1h0.75v0.75h-0.75zM137.6 67.4h0.75v0.75h-0.75zM139.5 57.5h0.75v0.75h-0.75zM137.4 71.9h0.75v0.75h-0.75zM137 77.7h0.75v0.75h-0.75zM111 74.3h0.75v0.75h-0.75zM133.1 77.6h0.75v0.75h-0.75zM138.5 67.8h0.75v0.75h-0.75zM136.9 73.4h0.75v0.75h-0.75zM111.8 66h0.75v0.75h-0.75zM137.3 63.3h0.75v0.75h-0.75zM121.4 80h0.75v0.75h-0.75zM126.7 75.4h0.75v0.75h-0.75zM133.5 76.8h0.75v0.75h-0.75zM135.6 55.9h0.75v0.75h-0.75zM145.7 70.2h0.75v0.75h-0.75zM145.1 74.3h0.75v0.75h-0.75zM144.1 59.1h0.75v0.75h-0.75zM143.6 72.5h0.75v0.75h-0.75zM140.9 63.4h0.75v0.75h-0.75zM129.8 72.7h0.75v0.75h-0.75zM114.6 69.6h0.75v0.75h-0.75zM114.1 72.6h0.75v0.75h-0.75zM142.5 80.8h0.75v0.75h-0.75zM114.2 61.5h0.75v0.75h-0.75zM126.6 61.5h0.75v0.75h-0.75zM132.6 57.5h0.75v0.75h-0.75zM112.3 62.3h0.75v0.75h-0.75zM137.6 55.2h0.75v0.75h-0.75zM126.8 74.3h0.75v0.75h-0.75zM121.7 78.7h0.75v0.75h-0.75zM115.4 72.4h0.75v0.75h-0.75zM132 60.7h0.75v0.75h-0.75zM139.7 58.7h0.75v0.75h-0.75zM123.1 69.2h0.75v0.75h-0.75zM145.2 65.2h0.75v0.75h-0.75zM129.3 76.6h0.75v0.75h-0.75zM112.4 77.9h0.75v0.75h-0.75zM125.8 67.6h0.75v0.75h-0.75zM134.3 74.5h0.75v0.75h-0.75zM109.1 59.7h0.75v0.75h-0.75zM122.3 60.8h0.75v0.75h-0.75zM130.5 76.8h0.75v0.75h-0.75zM135.5 78.5h0.75v0.75h-0.75zM115 75.9h0.75v0.75h-0.75zM148 63.8h0.75v0.75h-0.75zM129.8 60.1h0.75v0.75h-0.75zM143.7 63.1h0.75v0.75h-0.75zM125.8 78.2h0.75v0.75h-0.75zM130.9 75.4h0.75v0.75h-0.75zM141.2 67.7h0.75v0.75h-0.75zM144.7 58.7h0.75v0.75h-0.75zM141.2 74.3h0.75v0.75h-0.75zM139.3 75.4h0.75v0.75h-0.75zM129.3 77.6h0.75v0.75h-0.75zM120.8 56.7h0.75v0.75h-0.75zM142.2 69.4h0.75v0.75h-0.75zM145.6 76.2h0.75v0.75h-0.75zM116.8 74.1h0.75v0.75h-0.75zM138.5 67.9h0.75v0.75h-0.75zM141.4 69.5h0.75v0.75h-0.75zM137.5 73.5h0.75v0.75h-0.75zM134.8 74.9h0.75v0.75h-0.75zM124.5 75.2h0.75v0.75h-0.75zM115.8 65.2h0.75v0.75h-0.75zM121 58h0.75v0.75h-0.75zM121.8 61.6h0.75v0.75h-0.75zM118.9 71.5h0.75v0.75h-0.75zM127.1 59.1h0.75v0.75h-0.75zM119.1 75.9h0.75v0.75h-0.75zM128.5 78.6h0.75v0.75h-0.75zM136.2 70.9h0.75v0.75h-0.75zM129 55.6h0.75v0.75h-0.75zM127.3 57.9h0.75v0.75h-0.75zM136.2 77.6h0.75v0.75h-0.75zM137.4 54.5h0.75v0.75h-0.75zM130.8 58.7h0.75v0.75h-0.75zM131.3 63.7h0.75v0.75h-0.75zM141 58.3h0.75v0.75h-0.75zM145.2 78.7h0.75v0.75h-0.75zM123.8 64.1h0.75v0.75h-0.75zM117.8 79.6h0.75v0.75h-0.75zM130 71.5h0.75v0.75h-0.75zM104.5 59.3h0.75v0.75h-0.75zM140.5 70.2h0.75v0.75h-0.75zM123.1 69.9h0.75v0.75h-0.75zM133.5 63.6h0.75v0.75h-0.75zM138.7 61.6h0.75v0.75h-0.75zM118.9 65.5h0.75v0.75h-0.75zM122.1 71.7h0.75v0.75h-0.75zM138.5 71.6h0.75v0.75h-0.75zM144.5 70.6h0.75v0.75h-0.75zM117.1 68h0.75v0.75h-0.75zM128.4 57.2h0.75v0.75h-0.75zM116.7 71.7h0.75v0.75h-0.75zM109.1 70.7h0.75v0.75h-0.75zM126.6 65.7h0.75v0.75h-0.75zM112.8 65.4h0.75v0.75h-0.75zM124.4 59.6h0.75v0.75h-0.75zM147.2 80.8h0.75v0.75h-0.75zM113.4 73.2h0.75v0.75h-0.75zM133.6 79.1h0.75v0.75h-0.75zM128.2 75.9h0.75v0.75h-0.75zM117.6 57.5h0.75v0.75h-0.75zM122.2 79.7h0.75v0.75h-0.75zM114.8 69.2h0.75v0.75h-0.75zM141.9 61.5h0.75v0.75h-0.75zM122.3 62.6h0.75v0.75h-0.75zM135.9 72.1h0.75v0.75h-0.75zM135.2 67.1h0.75v0.75h-0.75zM143.9 70.6h0.75v0.75h-0.75zM143.1 62.7h0.75v0.75h-0.75zM120.8 55.9h0.75v0.75h-0.75zM119.9 59.3h0.75v0.75h-0.75zM117.7 65.5h0.75v0.75h-0.75zM128.3 79h0.75v0.75h-0.75zM132.8 60h0.75v0.75h-0.75zM133.3 57.4h0.75v0.75h-0.75zM129.3 72h0.75v0.75h-0.75zM119.7 53.3h0.75v0.75h-0.75zM132.4 65.2h0.75v0.75h-0.75zM122.6 77.2h0.75v0.75h-0.75zM133.5 66.6h0.75v0.75h-0.75zM131.3 77.3h0.75v0.75h-0.75zM113.2 73.6h0.75v0.75h-0.75zM123.1 56.7h0.75v0.75h-0.75zM123.2 75.8h0.75v0.75h-0.75zM140.4 59.8h0.75v0.75h-0.75zM135.7 58.3h0.75v0.75h-0.75zM120.6 66.5h0.75v0.75h-0.75zM122.1 61.5h0.75v0.75h-0.75zM138 77.6h0.75v0.75h-0.75zM137.7 78.3h0.75v0.75h-0.75zM134.7 59.4h0.75v0.75h-0.75zM121.7 71.9h0.75v0.75h-0.75zM125 72.3h0.75v0.75h-0.75zM136.8 71.2h0.75v0.75h-0.75zM136.4 73.4h0.75v0.75h-0.75zM111.4 68.8h0.75v0.75h-0.75zM145.1 59.7h0.75v0.75h-0.75zM144.2 62.1h0.75v0.75h-0.75zM126.9 72.6h0.75v0.75h-0.75zM117.5 59.7h0.75v0.75h-0.75zM127 79h0.75v0.75h-0.75zM114.4 66.4h0.75v0.75h-0.75zM144.2 69.8h0.75v0.75h-0.75zM121.9 79.3h0.75v0.75h-0.75zM120.2 60.3h0.75v0.75h-0.75zM115.5 59.9h0.75v0.75h-0.75zM126.3 76.1h0.75v0.75h-0.75zM125.9 75.4h0.75v0.75h-0.75zM122.9 65h0.75v0.75h-0.75zM144.5 77.7h0.75v0.75h-0.75zM141.9 80.1h0.75v0.75h-0.75zM144.4 71.5h0.75v0.75h-0.75zM110 73.1h0.75v0.75h-0.75zM136.1 79h0.75v0.75h-0.75zM125.8 77.1h0.75v0.75h-0.75zM124.2 78.3h0.75v0.75h-0.75zM129.4 71.3h0.75v0.75h-0.75zM115.4 68.6h0.75v0.75h-0.75zM145.3 63.1h0.75v0.75h-0.75zM133.8 74.2h0.75v0.75h-0.75zM111.3 58.8h0.75v0.75h-0.75zM145.5 68.9h0.75v0.75h-0.75zM133 58.6h0.75v0.75h-0.75zM133.9 68.8h0.75v0.75h-0.75zM141.3 56.1h0.75v0.75h-0.75zM117.8 80.2h0.75v0.75h-0.75zM135 76.4h0.75v0.75h-0.75zM143.3 65.5h0.75v0.75h-0.75zM133.4 66.4h0.75v0.75h-0.75zM118.1 67.1h0.75v0.75h-0.75zM136.4 58.3h0.75v0.75h-0.75zM125.9 59.1h0.75v0.75h-0.75zM140.1 75.2h0.75v0.75h-0.75zM109.7 59.8h0.75v0.75h-0.75zM127.7 69.2h0.75v0.75h-0.75zM124.9 63.7h0.75v0.75h-0.75zM140.5 79.1h0.75v0.75h-0.75zM142.5 56.2h0.75v0.75h-0.75zM129.4 72.3h0.75v0.75h-0.75zM111.4 68h0.75v0.75h-0.75zM142.8 77.5h0.75v0.75h-0.75zM117.7 80.8h0.75v0.75h-0.75zM136 62h0.75v0.75h-0.75zM135.6 78.4h0.75v0.75h-0.75zM114.2 68.7h0.75v0.75h-0.75zM148 67.7h0.75v0.75h-0.75zM118.7 79.6h0.75v0.75h-0.75zM132.7 62.8h0.75v0.75h-0.75zM144.9 56h0.75v0.75h-0.75zM138 57.6h0.75v0.75h-0.75zM116.4 74.3h0.75v0.75h-0.75zM113.5 66h0.75v0.75h-0.75zM132 80.4h0.75v0.75h-0.75zM145.9 77.5h0.75v0.75h-0.75zM121.1 63.1h0.75v0.75h-0.75zM135.9 75.8h0.75v0.75h-0.75zM136.4 77.2h0.75v0.75h-0.75zM114.8 65.1h0.75v0.75h-0.75zM141.6 58.5h0.75v0.75h-0.75zM132.4 60.3h0.75v0.75h-0.75zM129.5 75.4h0.75v0.75h-0.75zM128.4 63.5h0.75v0.75h-0.75zM117.9 66.2h0.75v0.75h-0.75zM113.6 63.7h0.75v0.75h-0.75zM135.8 71.8h0.75v0.75h-0.75zM145.4 69.2h0.75v0.75h-0.75zM114.1 76.4h0.75v0.75h-0.75zM134.4 80h0.75v0.75h-0.75zM130.8 56.5h0.75v0.75h-0.75zM123.4 70.4h0.75v0.75h-0.75zM113.2 63.4h0.75v0.75h-0.75zM121.3 77.2h0.75v0.75h-0.75zM117.7 77.7h0.75v0.75h-0.75zM108.6 77h0.75v0.75h-0.75zM122.8 78.1h0.75v0.75h-0.75zM132 57.8h0.75v0.75h-0.75zM109.1 57.4h0.75v0.75h-0.75zM124.7 70.5h0.75v0.75h-0.75zM134.8 60.2h0.75v0.75h-0.75zM130.3 57.2h0.75v0.75h-0.75zM127.3 63.9h0.75v0.75h-0.75zM122.7 57.2h0.75v0.75h-0.75zM125 73.3h0.75v0.75h-0.75zM126.9 61.4h0.75v0.75h-0.75zM146.5 61.3h0.75v0.75h-0.75zM127.7 69.8h0.75v0.75h-0.75zM145.5 66.9h0.75v0.75h-0.75zM131 75.4h0.75v0.75h-0.75zM135 67.9h0.75v0.75h-0.75zM118.5 62.6h0.75v0.75h-0.75zM144.3 60.9h0.75v0.75h-0.75zM147.3 78.1h0.75v0.75h-0.75zM149.8 80.6h0.75v0.75h-0.75zM148.7 62.6h0.75v0.75h-0.75zM148.1 50.4h0.75v0.75h-0.75zM141.6 74.9h0.75v0.75h-0.75zM136.3 73.8h0.75v0.75h-0.75zM133.3 75.3h0.75v0.75h-0.75zM131.8 74.6h0.75v0.75h-0.75zM128.5 74.5h0.75v0.75h-0.75zM147.5 74.3h0.75v0.75h-0.75zM108.6 66.1h0.75v0.75h-0.75zM116.1 71.4h0.75v0.75h-0.75zM139.8 67.7h0.75v0.75h-0.75zM114.4 62.9h0.75v0.75h-0.75zM115.7 64.4h0.75v0.75h-0.75zM129.8 66.8h0.75v0.75h-0.75zM140.5 76.9h0.75v0.75h-0.75zM133.1 64.4h0.75v0.75h-0.75zM108.7 59.9h0.75v0.75h-0.75zM116.6 67.7h0.75v0.75h-0.75zM114.9 73.8h0.75v0.75h-0.75zM130.2 80.7h0.75v0.75h-0.75zM123.1 67h0.75v0.75h-0.75zM143.5 64.1h0.75v0.75h-0.75zM142.1 65.5h0.75v0.75h-0.75zM118.4 61.5h0.75v0.75h-0.75zM119.1 72.4h0.75v0.75h-0.75zM137 66.8h0.75v0.75h-0.75zM141.4 62.1h0.75v0.75h-0.75zM145.9 69.4h0.75v0.75h-0.75zM144.4 71.7h0.75v0.75h-0.75zM113.5 62.1h0.75v0.75h-0.75zM115.9 78.4h0.75v0.75h-0.75zM136.2 73h0.75v0.75h-0.75zM125.4 66.5h0.75v0.75h-0.75zM138.4 71.9h0.75v0.75h-0.75zM146.5 61.7h0.75v0.75h-0.75zM128.4 76.7h0.75v0.75h-0.75zM142.6 75.2h0.75v0.75h-0.75zM124.6 70.5h0.75v0.75h-0.75zM129.8 62.2h0.75v0.75h-0.75zM117.1 59.7h0.75v0.75h-0.75zM116.9 80.3h0.75v0.75h-0.75zM129.3 77.6h0.75v0.75h-0.75zM145.3 80h0.75v0.75h-0.75zM121.5 58.2h0.75v0.75h-0.75zM141.2 68.1h0.75v0.75h-0.75zM117.2 60.7h0.75v0.75h-0.75zM130.5 80.9h0.75v0.75h-0.75zM126.6 66.4h0.75v0.75h-0.75zM148.7 78.4h0.75v0.75h-0.75zM124.3 80.2h0.75v0.75h-0.75zM112.4 71.7h0.75v0.75h-0.75zM143.6 73.4h0.75v0.75h-0.75zM137.6 77.8h0.75v0.75h-0.75zM122.6 59.9h0.75v0.75h-0.75zM125.4 74.8h0.75v0.75h-0.75zM139.2 76.5h0.75v0.75h-0.75zM120.6 77.5h0.75v0.75h-0.75zM134.8 72.9h0.75v0.75h-0.75zM121.5 62.7h0.75v0.75h-0.75zM133.9 58h0.75v0.75h-0.75zM143.8 78.8h0.75v0.75h-0.75zM144 61.6h0.75v0.75h-0.75zM141.4 55.5h0.75v0.75h-0.75zM137.1 58.3h0.75v0.75h-0.75zM140.2 62.2h0.75v0.75h-0.75zM148.5 71.3h0.75v0.75h-0.75zM121.3 62.3h0.75v0.75h-0.75zM132.6 60.7h0.75v0.75h-0.75zM135 68.8h0.75v0.75h-0.75zM141.9 75.4h0.75v0.75h-0.75zM149.3 67.5h0.75v0.75h-0.75zM129.9 66.9h0.75v0.75h-0.75zM134.6 71.5h0.75v0.75h-0.75zM125.8 65.9h0.75v0.75h-0.75zM126.2 67.8h0.75v0.75h-0.75zM139.9 78.3h0.75v0.75h-0.75zM106 60.4h0.75v0.75h-0.75zM134.4 75.9h0.75v0.75h-0.75zM111.5 71.2h0.75v0.75h-0.75zM131.2 63.4h0.75v0.75h-0.75zM122.4 59.8h0.75v0.75h-0.75zM133 73.2h0.75v0.75h-0.75zM139.8 76.6h0.75v0.75h-0.75zM146.4 77.1h0.75v0.75h-0.75zM131.5 59.5h0.75v0.75h-0.75zM141.8 68.3h0.75v0.75h-0.75zM121.6 66h0.75v0.75h-0.75zM141.3 61.6h0.75v0.75h-0.75zM143.3 57.1h0.75v0.75h-0.75zM128.4 60.9h0.75v0.75h-0.75zM125.8 66.4h0.75v0.75h-0.75zM139.9 67.3h0.75v0.75h-0.75zM113.8 75.8h0.75v0.75h-0.75zM114.5 70.5h0.75v0.75h-0.75zM141.5 70.4h0.75v0.75h-0.75zM121.9 72.2h0.75v0.75h-0.75zM130.3 71.4h0.75v0.75h-0.75zM123.1 65.6h0.75v0.75h-0.75zM148 64.3h0.75v0.75h-0.75zM134.2 71.9h0.75v0.75h-0.75zM128.6 68h0.75v0.75h-0.75zM115.2 77.4h0.75v0.75h-0.75zM137.5 77.3h0.75v0.75h-0.75zM132.7 74.3h0.75v0.75h-0.75zM131.5 73.6h0.75v0.75h-0.75zM138.4 59.3h0.75v0.75h-0.75zM132.9 66.6h0.75v0.75h-0.75zM133.6 66h0.75v0.75h-0.75zM115.4 80h0.75v0.75h-0.75zM129.9 73h0.75v0.75h-0.75zM118.8 67.5h0.75v0.75h-0.75zM132.4 54.3h0.75v0.75h-0.75zM143.9 75.1h0.75v0.75h-0.75zM141.7 73.3h0.75v0.75h-0.75zM118 57.1h0.75v0.75h-0.75zM118 73h0.75v0.75h-0.75zM125 64.8h0.75v0.75h-0.75zM137.6 70h0.75v0.75h-0.75zM120.5 58.4h0.75v0.75h-0.75zM140.6 67.7h0.75v0.75h-0.75zM134.8 74.6h0.75v0.75h-0.75zM125.8 57.2h0.75v0.75h-0.75zM112.4 75.5h0.75v0.75h-0.75zM119.7 70.4h0.75v0.75h-0.75zM143.1 71h0.75v0.75h-0.75zM129.9 77h0.75v0.75h-0.75zM143.7 60h0.75v0.75h-0.75zM122.6 67.7h0.75v0.75h-0.75zM132.8 74.8h0.75v0.75h-0.75zM147.5 70.8h0.75v0.75h-0.75zM114.7 67.4h0.75v0.75h-0.75zM125.1 70.4h0.75v0.75h-0.75zM130.4 65.1h0.75v0.75h-0.75zM133.8 61.5h0.75v0.75h-0.75zM136 79.3h0.75v0.75h-0.75zM122 70.8h0.75v0.75h-0.75zM138.4 77.1h0.75v0.75h-0.75zM144.9 69.2h0.75v0.75h-0.75zM129.5 78.2h0.75v0.75h-0.75zM129.6 68.2h0.75v0.75h-0.75zM125.6 55.8h0.75v0.75h-0.75zM108.8 72.8h0.75v0.75h-0.75zM130.8 58.5h0.75v0.75h-0.75zM125.4 58.6h0.75v0.75h-0.75zM137.7 80.5h0.75v0.75h-0.75zM131.5 68h0.75v0.75h-0.75zM141.8 78.1h0.75v0.75h-0.75zM121.1 65.2h0.75v0.75h-0.75zM106.7 52.5h0.75v0.75h-0.75zM131.7 60.9h0.75v0.75h-0.75zM132.1 60.7h0.75v0.75h-0.75zM145.5 64.1h0.75v0.75h-0.75zM119 71.1h0.75v0.75h-0.75zM137.4 60.4h0.75v0.75h-0.75zM148.6 81h0.75v0.75h-0.75zM129.2 73.3h0.75v0.75h-0.75zM137.5 78.8h0.75v0.75h-0.75zM115.6 68.8h0.75v0.75h-0.75zM145.2 69h0.75v0.75h-0.75zM129.6 68.2h0.75v0.75h-0.75zM127 80.2h0.75v0.75h-0.75zM113.1 77.7h0.75v0.75h-0.75zM131.2 71.9h0.75v0.75h-0.75zM113.9 64.8h0.75v0.75h-0.75zM113.9 71.7h0.75v0.75h-0.75zM136.1 71.1h0.75v0.75h-0.75zM117.5 80.3h0.75v0.75h-0.75zM130.3 61.5h0.75v0.75h-0.75zM115.3 65.4h0.75v0.75h-0.75zM137.3 74.7h0.75v0.75h-0.75zM112.1 77.7h0.75v0.75h-0.75zM143.4 69.8h0.75v0.75h-0.75zM129.3 78h0.75v0.75h-0.75zM135.1 58.9h0.75v0.75h-0.75zM134.5 73.1h0.75v0.75h-0.75zM112.3 79.5h0.75v0.75h-0.75zM125.7 61.4h0.75v0.75h-0.75zM113.6 56.7h0.75v0.75h-0.75zM123 57.5h0.75v0.75h-0.75zM122.2 80.6h0.75v0.75h-0.75zM112.2 75.9h0.75v0.75h-0.75zM122.3 57.4h0.75v0.75h-0.75zM125 58.8h0.75v0.75h-0.75zM133.5 74.1h0.75v0.75h-0.75zM123.4 59.2h0.75v0.75h-0.75zM130.1 56.8h0.75v0.75h-0.75zM129.7 74.2h0.75v0.75h-0.75zM112.2 62.2h0.75v0.75h-0.75zM126.5 70.7h0.75v0.75h-0.75zM125.4 64.8h0.75v0.75h-0.75zM142.8 70h0.75v0.75h-0.75zM134.5 72.5h0.75v0.75h-0.75zM130.7 68.2h0.75v0.75h-0.75zM111.6 66.3h0.75v0.75h-0.75zM113.5 75.7h0.75v0.75h-0.75zM104.5 60h0.75v0.75h-0.75zM117.1 63.3h0.75v0.75h-0.75zM135.4 63.1h0.75v0.75h-0.75zM139.4 66.2h0.75v0.75h-0.75zM143 77.7h0.75v0.75h-0.75zM131.4 55.5h0.75v0.75h-0.75zM107.5 56.2h0.75v0.75h-0.75zM133.2 66.7h0.75v0.75h-0.75zM123.6 69.7h0.75v0.75h-0.75zM127.9 63.6h0.75v0.75h-0.75zM117.9 66.6h0.75v0.75h-0.75zM120.3 67.8h0.75v0.75h-0.75zM138.1 56.5h0.75v0.75h-0.75zM135.8 76.4h0.75v0.75h-0.75zM119.3 79.2h0.75v0.75h-0.75zM114.1 70.3h0.75v0.75h-0.75zM126.2 58.6h0.75v0.75h-0.75zM112.8 64.6h0.75v0.75h-0.75zM116.6 76h0.75v0.75h-0.75zM128.9 55.7h0.75v0.75h-0.75zM120.5 79.5h0.75v0.75h-0.75zM137.3 57.2h0.75v0.75h-0.75zM130.6 80.1h0.75v0.75h-0.75zM124.8 80.2h0.75v0.75h-0.75zM132.4 58.1h0.75v0.75h-0.75zM148.4 63.8h0.75v0.75h-0.75zM137.8 68.1h0.75v0.75h-0.75zM121.5 75.3h0.75v0.75h-0.75zM119.2 65.9h0.75v0.75h-0.75zM113.6 77.8h0.75v0.75h-0.75zM126.4 79.4h0.75v0.75h-0.75zM113.5 62.6h0.75v0.75h-0.75zM128.8 63.5h0.75v0.75h-0.75zM123.9 71h0.75v0.75h-0.75zM124.5 64.1h0.75v0.75h-0.75zM144.3 63.8h0.75v0.75h-0.75zM141.8 71.7h0.75v0.75h-0.75zM140.5 64h0.75v0.75h-0.75zM132.6 77.1h0.75v0.75h-0.75zM133.3 54.3h0.75v0.75h-0.75zM142.1 60.4h0.75v0.75h-0.75zM121.9 61.6h0.75v0.75h-0.75zM129.8 63h0.75v0.75h-0.75zM132.4 65.8h0.75v0.75h-0.75zM139.6 71.2h0.75v0.75h-0.75zM122.5 62.2h0.75v0.75h-0.75zM131 62.4h0.75v0.75h-0.75zM122.1 71.4h0.75v0.75h-0.75zM140.7 64.4h0.75v0.75h-0.75zM146.4 65.4h0.75v0.75h-0.75zM128.8 62.4h0.75v0.75h-0.75zM117.8 74.1h0.75v0.75h-0.75zM142.9 70.6h0.75v0.75h-0.75zM129.1 62.9h0.75v0.75h-0.75zM125.3 63h0.75v0.75h-0.75zM122 69h0.75v0.75h-0.75zM148 74h0.75v0.75h-0.75zM122.2 62.3h0.75v0.75h-0.75zM145.5 79.5h0.75v0.75h-0.75zM138.2 58.3h0.75v0.75h-0.75zM135.6 68.5h0.75v0.75h-0.75zM124.4 63.3h0.75v0.75h-0.75zM142.1 72h0.75v0.75h-0.75zM129.8 55.1h0.75v0.75h-0.75zM115.5 64.3h0.75v0.75h-0.75zM135.7 67.1h0.75v0.75h-0.75zM124.2 72.7h0.75v0.75h-0.75zM148 76.5h0.75v0.75h-0.75zM133.4 74.7h0.75v0.75h-0.75zM115.3 74.8h0.75v0.75h-0.75zM127.7 78.3h0.75v0.75h-0.75zM114.2 66.9h0.75v0.75h-0.75zM124.7 57.9h0.75v0.75h-0.75zM137.1 61.5h0.75v0.75h-0.75zM141.9 70.4h0.75v0.75h-0.75zM141 64h0.75v0.75h-0.75zM142.9 80.3h0.75v0.75h-0.75zM109.1 71.4h0.75v0.75h-0.75zM132.1 70.1h0.75v0.75h-0.75zM134.5 60.8h0.75v0.75h-0.75zM119.4 60h0.75v0.75h-0.75zM142.3 64.9h0.75v0.75h-0.75zM140.1 67.9h0.75v0.75h-0.75zM136.4 70h0.75v0.75h-0.75zM124.5 64.1h0.75v0.75h-0.75zM112.3 63.4h0.75v0.75h-0.75zM131.4 77.8h0.75v0.75h-0.75zM127.7 76.4h0.75v0.75h-0.75zM125.1 60.6h0.75v0.75h-0.75zM136 67.6h0.75v0.75h-0.75zM141.5 56.5h0.75v0.75h-0.75zM111.6 71.5h0.75v0.75h-0.75zM128.5 70.9h0.75v0.75h-0.75zM128.4 57.1h0.75v0.75h-0.75zM115.6 68.2h0.75v0.75h-0.75zM140.9 78.3h0.75v0.75h-0.75zM142.2 54.4h0.75v0.75h-0.75zM137.3 67.7h0.75v0.75h-0.75zM118.7 53.9h0.75v0.75h-0.75zM122.1 67.6h0.75v0.75h-0.75zM142.3 76.5h0.75v0.75h-0.75zM145 52.5h0.75v0.75h-0.75zM111.9 79h0.75v0.75h-0.75zM126.2 65.6h0.75v0.75h-0.75zM140.1 69.4h0.75v0.75h-0.75zM119.3 77.9h0.75v0.75h-0.75zM132.1 67.5h0.75v0.75h-0.75zM119.2 63.5h0.75v0.75h-0.75zM130.4 56.5h0.75v0.75h-0.75zM122.3 64.8h0.75v0.75h-0.75zM115.8 68h0.75v0.75h-0.75zM137.6 66.5h0.75v0.75h-0.75zM142.3 73.8h0.75v0.75h-0.75zM144.1 72.1h0.75v0.75h-0.75zM136.1 61.5h0.75v0.75h-0.75zM149.1 75.1h0.75v0.75h-0.75zM138.1 70.8h0.75v0.75h-0.75zM114.4 72.1h0.75v0.75h-0.75zM131.4 73.9h0.75v0.75h-0.75zM115.9 70.2h0.75v0.75h-0.75zM124.7 67.7h0.75v0.75h-0.75zM131 59.2h0.75v0.75h-0.75zM124 60.3h0.75v0.75h-0.75zM114.4 80.2h0.75v0.75h-0.75zM132.8 71.3h0.75v0.75h-0.75zM133.2 56.2h0.75v0.75h-0.75zM132.7 79.1h0.75v0.75h-0.75zM125.4 61.6h0.75v0.75h-0.75zM138.1 66.8h0.75v0.75h-0.75zM127.3 80.3h0.75v0.75h-0.75zM127.7 75.5h0.75v0.75h-0.75zM141 66.7h0.75v0.75h-0.75zM116.8 59.2h0.75v0.75h-0.75zM126.9 61.5h0.75v0.75h-0.75zM128.7 75.7h0.75v0.75h-0.75zM137.8 55.3h0.75v0.75h-0.75zM117.9 73.5h0.75v0.75h-0.75zM129.8 56.3h0.75v0.75h-0.75zM142 78.5h0.75v0.75h-0.75zM117.9 73.9h0.75v0.75h-0.75zM122.1 75.3h0.75v0.75h-0.75zM134.3 76.7h0.75v0.75h-0.75zM127.3 76.3h0.75v0.75h-0.75zM133.8 70.9h0.75v0.75h-0.75zM130.6 58.3h0.75v0.75h-0.75zM124.6 72.9h0.75v0.75h-0.75zM123.6 74.3h0.75v0.75h-0.75zM137.2 75.5h0.75v0.75h-0.75zM129.4 76.7h0.75v0.75h-0.75zM124 69.6h0.75v0.75h-0.75zM116.5 72.6h0.75v0.75h-0.75zM112.4 76.3h0.75v0.75h-0.75zM129.6 56.1h0.75v0.75h-0.75zM135.7 63.7h0.75v0.75h-0.75zM138.9 58.9h0.75v0.75h-0.75zM136.2 75.3h0.75v0.75h-0.75zM130.3 62.3h0.75v0.75h-0.75zM141.5 59.8h0.75v0.75h-0.75zM145.1 60.5h0.75v0.75h-0.75zM148.8 72.8h0.75v0.75h-0.75zM133.1 74.9h0.75v0.75h-0.75zM128.9 57.7h0.75v0.75h-0.75zM128.9 73.7h0.75v0.75h-0.75zM138.2 67.9h0.75v0.75h-0.75zM128.2 58.9h0.75v0.75h-0.75zM119.1 71.3h0.75v0.75h-0.75zM138.3 58h0.75v0.75h-0.75zM136.9 59.2h0.75v0.75h-0.75zM128.3 71.7h0.75v0.75h-0.75zM144.8 63.1h0.75v0.75h-0.75zM149.2 65.2h0.75v0.75h-0.75zM115.1 65h0.75v0.75h-0.75zM137.6 72.1h0.75v0.75h-0.75zM127.2 66h0.75v0.75h-0.75zM128.4 60.1h0.75v0.75h-0.75zM116.2 70.1h0.75v0.75h-0.75zM144.7 80.3h0.75v0.75h-0.75zM109.1 71.3h0.75v0.75h-0.75zM132.2 58.4h0.75v0.75h-0.75zM120.2 80.4h0.75v0.75h-0.75zM127.4 73.3h0.75v0.75h-0.75zM111.4 65h0.75v0.75h-0.75zM148.7 79.5h0.75v0.75h-0.75zM145 57.8h0.75v0.75h-0.75zM125.1 58.4h0.75v0.75h-0.75zM122.5 56.4h0.75v0.75h-0.75zM134.8 72.8h0.75v0.75h-0.75zM134.2 80.1h0.75v0.75h-0.75zM118.1 68.4h0.75v0.75h-0.75zM129.9 67.8h0.75v0.75h-0.75zM125 57.4h0.75v0.75h-0.75zM144.4 72.5h0.75v0.75h-0.75zM135.7 72.7h0.75v0.75h-0.75zM124.3 74.8h0.75v0.75h-0.75zM145.1 71.1h0.75v0.75h-0.75zM139.3 80h0.75v0.75h-0.75zM121.6 79.2h0.75v0.75h-0.75zM127.1 71.2h0.75v0.75h-0.75zM123.4 69.6h0.75v0.75h-0.75zM111.2 79.3h0.75v0.75h-0.75zM135.5 79h0.75v0.75h-0.75zM116.3 62.6h0.75v0.75h-0.75zM139.2 70.4h0.75v0.75h-0.75zM148 74.6h0.75v0.75h-0.75zM147.1 71.8h0.75v0.75h-0.75zM124 72h0.75v0.75h-0.75zM130 76.3h0.75v0.75h-0.75zM130.9 66.4h0.75v0.75h-0.75zM139.2 58.4h0.75v0.75h-0.75zM141.9 64.9h0.75v0.75h-0.75zM145.1 64.6h0.75v0.75h-0.75zM127.6 58.5h0.75v0.75h-0.75zM145.5 77h0.75v0.75h-0.75zM140.5 76.5h0.75v0.75h-0.75zM127.1 60.2h0.75v0.75h-0.75zM118.8 63.1h0.75v0.75h-0.75zM133.3 74.9h0.75v0.75h-0.75zM118.9 65.4h0.75v0.75h-0.75zM144.9 66.3h0.75v0.75h-0.75zM130.1 56.7h0.75v0.75h-0.75zM126.1 69.1h0.75v0.75h-0.75zM112.9 73.3h0.75v0.75h-0.75zM119.6 75.4h0.75v0.75h-0.75zM128.3 65.5h0.75v0.75h-0.75zM127.7 70.9h0.75v0.75h-0.75zM123.1 64.3h0.75v0.75h-0.75zM111.6 66.6h0.75v0.75h-0.75zM142.7 65.6h0.75v0.75h-0.75zM119.3 64.8h0.75v0.75h-0.75zM118.2 77.2h0.75v0.75h-0.75zM137.5 57.7h0.75v0.75h-0.75zM120.5 55.1h0.75v0.75h-0.75zM141.5 68.8h0.75v0.75h-0.75zM123.5 74.5h0.75v0.75h-0.75zM142.9 69.1h0.75v0.75h-0.75zM131.7 70.8h0.75v0.75h-0.75zM127.9 57.3h0.75v0.75h-0.75zM118.6 61.9h0.75v0.75h-0.75zM131.5 65h0.75v0.75h-0.75zM125.9 56.9h0.75v0.75h-0.75zM141.7 71.2h0.75v0.75h-0.75zM138.6 61.4h0.75v0.75h-0.75zM109.4 71.9h0.75v0.75h-0.75zM134.6 56.5h0.75v0.75h-0.75zM144.5 69.4h0.75v0.75h-0.75zM135.4 61h0.75v0.75h-0.75zM123.5 68.8h0.75v0.75h-0.75zM115.3 50.7h0.75v0.75h-0.75zM122.1 79.5h0.75v0.75h-0.75zM114.2 60.8h0.75v0.75h-0.75zM129.6 67h0.75v0.75h-0.75zM128.9 66.4h0.75v0.75h-0.75zM126.3 70.3h0.75v0.75h-0.75zM143.3 72.3h0.75v0.75h-0.75zM120 70.2h0.75v0.75h-0.75zM135.2 77.3h0.75v0.75h-0.75zM122.7 55.6h0.75v0.75h-0.75zM119.8 75.2h0.75v0.75h-0.75zM142.7 58h0.75v0.75h-0.75zM115.4 66.4h0.75v0.75h-0.75zM136 69.2h0.75v0.75h-0.75zM134.8 62.3h0.75v0.75h-0.75zM117.7 67h0.75v0.75h-0.75zM143.9 58.3h0.75v0.75h-0.75zM136.5 56.2h0.75v0.75h-0.75zM131.7 75.6h0.75v0.75h-0.75zM130.4 56.3h0.75v0.75h-0.75zM144.8 68h0.75v0.75h-0.75zM131 79.6h0.75v0.75h-0.75zM128.6 72h0.75v0.75h-0.75zM121.8 65.4h0.75v0.75h-0.75zM141.1 78.2h0.75v0.75h-0.75zM145.9 70h0.75v0.75h-0.75zM124.6 69.6h0.75v0.75h-0.75zM138.4 71.5h0.75v0.75h-0.75zM109.3 70.4h0.75v0.75h-0.75zM130 60.4h0.75v0.75h-0.75zM146.5 77.7h0.75v0.75h-0.75zM134.7 55.9h0.75v0.75h-0.75zM111.8 79.6h0.75v0.75h-0.75zM121.5 70.6h0.75v0.75h-0.75zM122.9 73h0.75v0.75h-0.75zM141.5 80.3h0.75v0.75h-0.75zM146.4 63.6h0.75v0.75h-0.75zM122.2 71.1h0.75v0.75h-0.75zM120.8 63.9h0.75v0.75h-0.75zM133.1 75.3h0.75v0.75h-0.75zM138.5 68.9h0.75v0.75h-0.75zM138.3 76.9h0.75v0.75h-0.75zM139 59.7h0.75v0.75h-0.75zM116.1 58h0.75v0.75h-0.75zM131.2 64.1h0.75v0.75h-0.75zM140.2 56.7h0.75v0.75h-0.75zM118.2 71.4h0.75v0.75h-0.75zM134.9 68.6h0.75v0.75h-0.75zM132.2 75.3h0.75v0.75h-0.75zM137.5 59.3h0.75v0.75h-0.75zM117.1 59.5h0.75v0.75h-0.75zM126.5 64.9h0.75v0.75h-0.75zM128 77.6h0.75v0.75h-0.75zM125.6 77.7h0.75v0.75h-0.75zM121.5 61.7h0.75v0.75h-0.75zM121.5 70.6h0.75v0.75h-0.75zM134.6 80.4h0.75v0.75h-0.75zM126.1 63h0.75v0.75h-0.75zM130.4 64.6h0.75v0.75h-0.75zM140.2 80h0.75v0.75h-0.75zM140.8 80.8h0.75v0.75h-0.75zM139 65.2h0.75v0.75h-0.75zM125.3 74.8h0.75v0.75h-0.75zM130.6 65.6h0.75v0.75h-0.75zM111.2 57.4h0.75v0.75h-0.75zM135 65.8h0.75v0.75h-0.75zM135 74.6h0.75v0.75h-0.75zM121.1 80.8h0.75v0.75h-0.75zM121.7 76.3h0.75v0.75h-0.75zM131.2 59.4h0.75v0.75h-0.75zM136.2 61.9h0.75v0.75h-0.75zM140.3 76.5h0.75v0.75h-0.75zM134.9 71.5h0.75v0.75h-0.75zM141.7 80.4h0.75v0.75h-0.75zM124.4 64h0.75v0.75h-0.75zM121.5 76.9h0.75v0.75h-0.75zM143.6 75.4h0.75v0.75h-0.75zM125 61.7h0.75v0.75h-0.75zM147.1 63.6h0.75v0.75h-0.75zM120.9 76.2h0.75v0.75h-0.75zM138.5 65.7h0.75v0.75h-0.75zM131.2 60.3h0.75v0.75h-0.75zM117.5 78.1h0.75v0.75h-0.75zM114 66.6h0.75v0.75h-0.75zM121.4 80.4h0.75v0.75h-0.75zM128.8 61.2h0.75v0.75h-0.75zM123.5 66.5h0.75v0.75h-0.75zM136.4 79.5h0.75v0.75h-0.75zM141.2 63.7h0.75v0.75h-0.75zM136.2 72h0.75v0.75h-0.75zM139.5 59h0.75v0.75h-0.75zM128.5 56.9h0.75v0.75h-0.75zM126.9 77.2h0.75v0.75h-0.75zM145.1 75.1h0.75v0.75h-0.75zM139.2 64.7h0.75v0.75h-0.75zM131.6 75.5h0.75v0.75h-0.75zM129.7 71.7h0.75v0.75h-0.75zM131 58h0.75v0.75h-0.75zM138.5 72.7h0.75v0.75h-0.75zM128.8 74h0.75v0.75h-0.75zM134.3 81h0.75v0.75h-0.75zM139 67.4h0.75v0.75h-0.75zM149.8 70.2h0.75v0.75h-0.75zM145.9 56.7h0.75v0.75h-0.75zM145.8 59.9h0.75v0.75h-0.75zM142.8 76.3h0.75v0.75h-0.75zM124.8 77.8h0.75v0.75h-0.75zM120.8 69.5h0.75v0.75h-0.75zM141.4 71.4h0.75v0.75h-0.75zM130.8 71.5h0.75v0.75h-0.75zM145.5 68.5h0.75v0.75h-0.75zM136.6 73.6h0.75v0.75h-0.75zM125.6 71.3h0.75v0.75h-0.75zM137.2 64.6h0.75v0.75h-0.75zM138.1 69.4h0.75v0.75h-0.75zM144.7 52.2h0.75v0.75h-0.75zM118.6 63.4h0.75v0.75h-0.75zM111.8 61.1h0.75v0.75h-0.75zM124.4 64.1h0.75v0.75h-0.75zM140.8 79.2h0.75v0.75h-0.75zM112.7 71.5h0.75v0.75h-0.75zM109.8 52.5h0.75v0.75h-0.75zM133.7 76h0.75v0.75h-0.75zM133.4 62.9h0.75v0.75h-0.75zM141.1 79.6h0.75v0.75h-0.75zM140 63.8h0.75v0.75h-0.75zM139.8 79.2h0.75v0.75h-0.75zM114.6 76.5h0.75v0.75h-0.75zM132.4 69.9h0.75v0.75h-0.75zM128.1 63.3h0.75v0.75h-0.75zM137.5 61h0.75v0.75h-0.75zM134.1 72.8h0.75v0.75h-0.75zM121.1 78h0.75v0.75h-0.75zM137.8 57.7h0.75v0.75h-0.75zM130.2 57.5h0.75v0.75h-0.75zM140.5 71.1h0.75v0.75h-0.75zM111.7 80.5h0.75v0.75h-0.75zM125 66.9h0.75v0.75h-0.75zM133.2 79.4h0.75v0.75h-0.75zM132.9 77.8h0.75v0.75h-0.75zM136 71.6h0.75v0.75h-0.75zM140.2 66.4h0.75v0.75h-0.75zM130.6 69.1h0.75v0.75h-0.75zM120.2 54.3h0.75v0.75h-0.75zM108 76.3h0.75v0.75h-0.75zM129.9 66.2h0.75v0.75h-0.75zM130.6 76.3h0.75v0.75h-0.75zM139.2 68.7h0.75v0.75h-0.75zM119.1 57.5h0.75v0.75h-0.75zM139.4 68.6h0.75v0.75h-0.75zM147.5 66.3h0.75v0.75h-0.75zM127.8 66.5h0.75v0.75h-0.75zM126.1 70h0.75v0.75h-0.75zM119.4 73.4h0.75v0.75h-0.75zM138.2 73.5h0.75v0.75h-0.75zM116.8 69.2h0.75v0.75h-0.75zM135.4 68.4h0.75v0.75h-0.75zM140 80.4h0.75v0.75h-0.75zM135.4 61.8h0.75v0.75h-0.75zM133.9 72.1h0.75v0.75h-0.75zM143.8 61.7h0.75v0.75h-0.75zM131.4 60.2h0.75v0.75h-0.75zM114.3 73.8h0.75v0.75h-0.75zM120.8 76.8h0.75v0.75h-0.75zM134.5 70.3h0.75v0.75h-0.75zM131.1 57.2h0.75v0.75h-0.75zM119.7 79.7h0.75v0.75h-0.75zM133 57.4h0.75v0.75h-0.75zM130.2 70.1h0.75v0.75h-0.75zM136.1 77.8h0.75v0.75h-0.75zM121 71.9h0.75v0.75h-0.75zM122.9 70.6h0.75v0.75h-0.75zM110.3 64.5h0.75v0.75h-0.75zM121.7 70.1h0.75v0.75h-0.75zM136.3 74.1h0.75v0.75h-0.75zM114.1 70.5h0.75v0.75h-0.75zM125.5 78.4h0.75v0.75h-0.75zM126.7 76.1h0.75v0.75h-0.75zM126 75.3h0.75v0.75h-0.75zM142 71.6h0.75v0.75h-0.75zM123.7 59.5h0.75v0.75h-0.75zM149.2 65.4h0.75v0.75h-0.75zM129.5 57.5h0.75v0.75h-0.75zM135.2 75.4h0.75v0.75h-0.75zM122.8 67.2h0.75v0.75h-0.75zM133.2 64.5h0.75v0.75h-0.75zM144.3 80.4h0.75v0.75h-0.75zM120.2 56.5h0.75v0.75h-0.75zM145.9 69.5h0.75v0.75h-0.75zM112.8 74.6h0.75v0.75h-0.75zM112.3 77.1h0.75v0.75h-0.75zM119.8 64.3h0.75v0.75h-0.75zM126.8 62.4h0.75v0.75h-0.75zM145.9 75.8h0.75v0.75h-0.75zM124.7 66h0.75v0.75h-0.75zM124.9 54.8h0.75v0.75h-0.75zM132.9 57.6h0.75v0.75h-0.75zM117.9 54.2h0.75v0.75h-0.75zM120.3 56.9h0.75v0.75h-0.75zM143.5 61.6h0.75v0.75h-0.75zM129.4 62h0.75v0.75h-0.75zM132.1 61.4h0.75v0.75h-0.75zM143.8 70.7h0.75v0.75h-0.75zM126 55.2h0.75v0.75h-0.75zM135.2 69.2h0.75v0.75h-0.75zM123.5 58.6h0.75v0.75h-0.75zM116.5 58.4h0.75v0.75h-0.75zM110.4 75h0.75v0.75h-0.75zM130.6 61.9h0.75v0.75h-0.75zM120.9 74.1h0.75v0.75h-0.75zM148 69.4h0.75v0.75h-0.75zM108.3 77.1h0.75v0.75h-0.75zM139.4 78h0.75v0.75h-0.75zM128.2 78.7h0.75v0.75h-0.75zM115.5 64.7h0.75v0.75h-0.75zM113.8 69.8h0.75v0.75h-0.75zM126.1 69.2h0.75v0.75h-0.75zM144.2 70.4h0.75v0.75h-0.75zM114.1 80.5h0.75v0.75h-0.75zM132.6 61.5h0.75v0.75h-0.75zM131.2 68.3h0.75v0.75h-0.75zM140.5 66h0.75v0.75h-0.75zM130.1 74.5h0.75v0.75h-0.75zM116.9 78.5h0.75v0.75h-0.75zM145.8 74.7h0.75v0.75h-0.75zM128.2 67.5h0.75v0.75h-0.75zM141.1 67.5h0.75v0.75h-0.75zM129.6 77.7h0.75v0.75h-0.75zM128.3 62.8h0.75v0.75h-0.75zM122 80.4h0.75v0.75h-0.75zM121.4 77.3h0.75v0.75h-0.75zM115.1 78.2h0.75v0.75h-0.75zM140 66.9h0.75v0.75h-0.75zM138 58.1h0.75v0.75h-0.75zM124.9 73.9h0.75v0.75h-0.75zM138.9 58.3h0.75v0.75h-0.75zM126.5 72.3h0.75v0.75h-0.75zM115.4 59.6h0.75v0.75h-0.75zM123.2 57.9h0.75v0.75h-0.75zM145.2 61h0.75v0.75h-0.75zM135.2 58h0.75v0.75h-0.75zM139.1 62.4h0.75v0.75h-0.75z" fill="#2a3cff" opacity="0.8"/><ellipse cx="134" cy="65" rx="11.5" ry="5.4" fill="#2234ff" opacity="0.65" filter="url(#bl2)"/><path d="M133.5 62h0.8v0.8h-0.8zM136.9 60.4h0.8v0.8h-0.8zM129.6 65.5h0.8v0.8h-0.8zM141.4 65.2h0.8v0.8h-0.8zM130.8 63.1h0.8v0.8h-0.8zM134.4 64.9h0.8v0.8h-0.8zM135.1 62.7h0.8v0.8h-0.8zM137.7 65.6h0.8v0.8h-0.8zM133.7 65.9h0.8v0.8h-0.8zM130.8 63.4h0.8v0.8h-0.8zM139.6 66.1h0.8v0.8h-0.8zM136.3 63.5h0.8v0.8h-0.8zM120 61.5h0.8v0.8h-0.8zM130.1 58.6h0.8v0.8h-0.8zM131.8 65.5h0.8v0.8h-0.8zM136.7 64.5h0.8v0.8h-0.8zM131.7 67.8h0.8v0.8h-0.8zM146.3 64.3h0.8v0.8h-0.8zM125.5 59.1h0.8v0.8h-0.8zM138 68.4h0.8v0.8h-0.8zM133.6 63.2h0.8v0.8h-0.8zM140.5 64.5h0.8v0.8h-0.8zM129 63.4h0.8v0.8h-0.8zM131.1 60.7h0.8v0.8h-0.8zM144.2 65h0.8v0.8h-0.8zM136.4 66.3h0.8v0.8h-0.8zM141.2 63.8h0.8v0.8h-0.8zM133.7 66.8h0.8v0.8h-0.8zM134.6 71.3h0.8v0.8h-0.8zM130.3 59.6h0.8v0.8h-0.8zM139.4 71.1h0.8v0.8h-0.8zM128.1 64.1h0.8v0.8h-0.8zM124.2 67h0.8v0.8h-0.8zM130.6 64h0.8v0.8h-0.8zM141.3 71.2h0.8v0.8h-0.8zM121.4 68.5h0.8v0.8h-0.8zM123.7 66.2h0.8v0.8h-0.8zM131.8 61.6h0.8v0.8h-0.8zM127.4 64.4h0.8v0.8h-0.8zM134.6 61.7h0.8v0.8h-0.8zM133.1 64.7h0.8v0.8h-0.8zM130.8 63.4h0.8v0.8h-0.8zM131.3 67.6h0.8v0.8h-0.8zM137.3 61.8h0.8v0.8h-0.8zM134.7 56.1h0.8v0.8h-0.8zM129 64.9h0.8v0.8h-0.8zM137 63.7h0.8v0.8h-0.8zM133.2 67.7h0.8v0.8h-0.8zM120.1 73.2h0.8v0.8h-0.8zM143.9 59.6h0.8v0.8h-0.8zM131 66.5h0.8v0.8h-0.8zM134.4 65.3h0.8v0.8h-0.8zM137.8 66.8h0.8v0.8h-0.8zM134.6 67.8h0.8v0.8h-0.8zM124.2 68.9h0.8v0.8h-0.8zM125.3 67.8h0.8v0.8h-0.8zM130.9 59.3h0.8v0.8h-0.8zM134 58.3h0.8v0.8h-0.8zM134 63.1h0.8v0.8h-0.8zM144.5 61.6h0.8v0.8h-0.8zM145.4 67.4h0.8v0.8h-0.8zM143.4 64.4h0.8v0.8h-0.8zM121.1 57.3h0.8v0.8h-0.8zM127.7 64.3h0.8v0.8h-0.8zM131.3 58.2h0.8v0.8h-0.8zM126.6 65.6h0.8v0.8h-0.8zM134.4 69.3h0.8v0.8h-0.8zM134 69.4h0.8v0.8h-0.8zM139 64.4h0.8v0.8h-0.8zM140 65.9h0.8v0.8h-0.8zM134.4 66.6h0.8v0.8h-0.8zM124.4 65.5h0.8v0.8h-0.8zM138 64.7h0.8v0.8h-0.8zM132.3 66.1h0.8v0.8h-0.8zM137.1 64.6h0.8v0.8h-0.8zM140.6 63.8h0.8v0.8h-0.8zM138.8 65.1h0.8v0.8h-0.8zM129.6 59.8h0.8v0.8h-0.8zM128.8 67.9h0.8v0.8h-0.8zM132 69.9h0.8v0.8h-0.8zM120.6 66.1h0.8v0.8h-0.8zM135.2 73.7h0.8v0.8h-0.8zM144 68.7h0.8v0.8h-0.8zM131.8 70.2h0.8v0.8h-0.8zM134.3 58.5h0.8v0.8h-0.8zM138.8 63.6h0.8v0.8h-0.8zM136.8 57.4h0.8v0.8h-0.8zM123.9 66.3h0.8v0.8h-0.8zM143.9 66.6h0.8v0.8h-0.8zM127.2 61.8h0.8v0.8h-0.8zM139.6 64.7h0.8v0.8h-0.8zM145.9 65.6h0.8v0.8h-0.8zM136.5 68.5h0.8v0.8h-0.8zM131.9 72.7h0.8v0.8h-0.8zM126.6 59.7h0.8v0.8h-0.8zM122.6 63.5h0.8v0.8h-0.8zM119.3 63.7h0.8v0.8h-0.8zM122.9 67.6h0.8v0.8h-0.8zM137.2 65h0.8v0.8h-0.8zM128.7 68h0.8v0.8h-0.8zM138.5 58.9h0.8v0.8h-0.8zM136.3 69h0.8v0.8h-0.8zM144.7 67.4h0.8v0.8h-0.8zM139.8 65.2h0.8v0.8h-0.8zM142.8 64.9h0.8v0.8h-0.8zM136.6 63.1h0.8v0.8h-0.8zM125 65.6h0.8v0.8h-0.8zM128.9 64.7h0.8v0.8h-0.8zM133.4 56h0.8v0.8h-0.8zM130.2 64.7h0.8v0.8h-0.8zM137.8 66h0.8v0.8h-0.8zM135.1 59.3h0.8v0.8h-0.8zM132 65.3h0.8v0.8h-0.8zM130 64.3h0.8v0.8h-0.8zM145.4 63h0.8v0.8h-0.8zM131.8 64.1h0.8v0.8h-0.8zM136.6 66.2h0.8v0.8h-0.8zM138.2 61.2h0.8v0.8h-0.8zM136.5 63.4h0.8v0.8h-0.8zM137.3 64.1h0.8v0.8h-0.8zM142.7 64.8h0.8v0.8h-0.8zM140.1 65.5h0.8v0.8h-0.8zM125.8 65.1h0.8v0.8h-0.8zM145.2 70.2h0.8v0.8h-0.8zM125.9 62.4h0.8v0.8h-0.8zM137.4 61.2h0.8v0.8h-0.8zM136.1 66.3h0.8v0.8h-0.8zM137.2 64.9h0.8v0.8h-0.8zM127.6 65.3h0.8v0.8h-0.8zM138.6 62h0.8v0.8h-0.8zM140 66.7h0.8v0.8h-0.8zM130.9 65.2h0.8v0.8h-0.8zM129.9 64.6h0.8v0.8h-0.8zM133.5 65.2h0.8v0.8h-0.8zM125.3 63h0.8v0.8h-0.8zM137.9 67.3h0.8v0.8h-0.8zM133.8 65.2h0.8v0.8h-0.8zM135.8 64.4h0.8v0.8h-0.8zM128.9 61.6h0.8v0.8h-0.8zM139.4 64.1h0.8v0.8h-0.8zM140.9 64.5h0.8v0.8h-0.8zM138.8 63.2h0.8v0.8h-0.8zM133.8 60h0.8v0.8h-0.8zM131.6 61.5h0.8v0.8h-0.8zM147.9 66.4h0.8v0.8h-0.8zM133.2 62.5h0.8v0.8h-0.8zM134.2 63h0.8v0.8h-0.8zM140.7 68h0.8v0.8h-0.8zM133 67.8h0.8v0.8h-0.8zM135.4 71.7h0.8v0.8h-0.8zM145.4 65.3h0.8v0.8h-0.8zM125.1 62.5h0.8v0.8h-0.8zM141.4 61.8h0.8v0.8h-0.8zM131.4 65.7h0.8v0.8h-0.8zM141.5 64.7h0.8v0.8h-0.8zM131.2 67.3h0.8v0.8h-0.8zM132.6 66.8h0.8v0.8h-0.8zM134 61.3h0.8v0.8h-0.8zM135.8 61.9h0.8v0.8h-0.8zM127.9 67.3h0.8v0.8h-0.8zM140 65h0.8v0.8h-0.8zM134.9 65.6h0.8v0.8h-0.8zM136.7 58.7h0.8v0.8h-0.8zM126.8 71.1h0.8v0.8h-0.8zM138.3 69.4h0.8v0.8h-0.8zM137.1 59.7h0.8v0.8h-0.8zM126.6 61.6h0.8v0.8h-0.8zM138.2 70.3h0.8v0.8h-0.8zM126.3 68.9h0.8v0.8h-0.8zM139.6 65.7h0.8v0.8h-0.8zM134.2 63.2h0.8v0.8h-0.8zM140.3 69.7h0.8v0.8h-0.8zM137.1 66.5h0.8v0.8h-0.8zM134.1 65.3h0.8v0.8h-0.8zM134.7 63.8h0.8v0.8h-0.8zM135.9 70.9h0.8v0.8h-0.8zM132.3 67h0.8v0.8h-0.8zM124.8 65.7h0.8v0.8h-0.8zM145.4 68.1h0.8v0.8h-0.8zM138.8 66h0.8v0.8h-0.8zM124.4 65.2h0.8v0.8h-0.8zM133.1 68.9h0.8v0.8h-0.8zM134.4 63.2h0.8v0.8h-0.8zM132 66.3h0.8v0.8h-0.8zM139.1 64.1h0.8v0.8h-0.8zM147.9 59.7h0.8v0.8h-0.8zM136.1 63h0.8v0.8h-0.8zM141 67.5h0.8v0.8h-0.8zM130.7 66.7h0.8v0.8h-0.8zM125.9 64.7h0.8v0.8h-0.8zM129 59.8h0.8v0.8h-0.8zM138.9 66h0.8v0.8h-0.8zM125.1 59h0.8v0.8h-0.8zM131.3 59.1h0.8v0.8h-0.8zM137.8 63h0.8v0.8h-0.8zM131.4 66h0.8v0.8h-0.8zM134.8 63.6h0.8v0.8h-0.8zM129.4 65.9h0.8v0.8h-0.8zM126.4 59.2h0.8v0.8h-0.8zM138.2 65.3h0.8v0.8h-0.8zM131.1 65.3h0.8v0.8h-0.8zM131 65.8h0.8v0.8h-0.8zM127 65.9h0.8v0.8h-0.8zM136.5 68.4h0.8v0.8h-0.8zM142.3 69.8h0.8v0.8h-0.8zM133.6 64.2h0.8v0.8h-0.8zM133.7 64.4h0.8v0.8h-0.8zM130.2 65.9h0.8v0.8h-0.8zM140.9 70.8h0.8v0.8h-0.8zM139.4 68.2h0.8v0.8h-0.8zM135 62.1h0.8v0.8h-0.8zM126.6 64.3h0.8v0.8h-0.8zM134.8 66.2h0.8v0.8h-0.8zM143.1 66.8h0.8v0.8h-0.8zM133.4 58.7h0.8v0.8h-0.8zM138.3 67.9h0.8v0.8h-0.8zM132.5 65.7h0.8v0.8h-0.8zM129.7 65.5h0.8v0.8h-0.8zM140.3 61.4h0.8v0.8h-0.8zM139.3 71.3h0.8v0.8h-0.8zM133.1 65h0.8v0.8h-0.8zM142.4 65.6h0.8v0.8h-0.8zM125.1 69.5h0.8v0.8h-0.8zM136.8 61.5h0.8v0.8h-0.8zM130 62.3h0.8v0.8h-0.8zM131.9 70.1h0.8v0.8h-0.8zM125.7 68.8h0.8v0.8h-0.8zM130.1 60.4h0.8v0.8h-0.8zM138 66.1h0.8v0.8h-0.8zM118.5 67.6h0.8v0.8h-0.8zM140.3 65.3h0.8v0.8h-0.8zM136.4 69.8h0.8v0.8h-0.8zM132.3 63.7h0.8v0.8h-0.8zM136.4 62.9h0.8v0.8h-0.8zM140.5 67.5h0.8v0.8h-0.8zM137.4 63h0.8v0.8h-0.8zM135.7 65.7h0.8v0.8h-0.8zM131.4 67.9h0.8v0.8h-0.8zM140.3 66.6h0.8v0.8h-0.8zM135.2 66.4h0.8v0.8h-0.8zM135.4 68h0.8v0.8h-0.8zM143.5 64.1h0.8v0.8h-0.8zM138.7 65.3h0.8v0.8h-0.8zM124.2 66.5h0.8v0.8h-0.8zM134 64.6h0.8v0.8h-0.8zM140.7 66.6h0.8v0.8h-0.8zM125.9 60.5h0.8v0.8h-0.8zM143.6 64.7h0.8v0.8h-0.8zM135.3 61.8h0.8v0.8h-0.8zM142.3 63.4h0.8v0.8h-0.8zM130.9 65.3h0.8v0.8h-0.8zM126.7 69.5h0.8v0.8h-0.8zM136.2 63.8h0.8v0.8h-0.8zM125.8 67.6h0.8v0.8h-0.8zM144.2 64.4h0.8v0.8h-0.8zM132.8 69.6h0.8v0.8h-0.8zM136.8 63.6h0.8v0.8h-0.8zM132.6 61h0.8v0.8h-0.8zM134.6 66.3h0.8v0.8h-0.8zM140.6 68.6h0.8v0.8h-0.8zM125.5 65.4h0.8v0.8h-0.8zM132.2 64.6h0.8v0.8h-0.8zM140 66.6h0.8v0.8h-0.8zM135.5 65.8h0.8v0.8h-0.8zM134.1 58.8h0.8v0.8h-0.8zM146.7 66.9h0.8v0.8h-0.8zM130.3 60.7h0.8v0.8h-0.8zM129.4 64.5h0.8v0.8h-0.8zM135.2 69.8h0.8v0.8h-0.8zM125.9 61h0.8v0.8h-0.8zM132.6 65.4h0.8v0.8h-0.8zM134.2 63.1h0.8v0.8h-0.8zM128.8 67.5h0.8v0.8h-0.8zM129.4 65.2h0.8v0.8h-0.8zM139.7 63.6h0.8v0.8h-0.8zM134.4 63h0.8v0.8h-0.8zM128.8 69.2h0.8v0.8h-0.8zM132.9 62.3h0.8v0.8h-0.8zM130.7 64.4h0.8v0.8h-0.8zM128.8 66.3h0.8v0.8h-0.8zM132.3 65.6h0.8v0.8h-0.8zM128.1 62.5h0.8v0.8h-0.8zM141.1 68.3h0.8v0.8h-0.8zM138.2 68h0.8v0.8h-0.8zM133.9 62.5h0.8v0.8h-0.8zM132.5 58.5h0.8v0.8h-0.8zM135.4 64.8h0.8v0.8h-0.8zM132.8 58.2h0.8v0.8h-0.8zM133.8 63.1h0.8v0.8h-0.8zM135.7 65.5h0.8v0.8h-0.8zM140 63.2h0.8v0.8h-0.8zM138.5 63.8h0.8v0.8h-0.8zM136.1 60.7h0.8v0.8h-0.8zM130.6 63.8h0.8v0.8h-0.8zM131.3 71.9h0.8v0.8h-0.8zM144.1 63.7h0.8v0.8h-0.8zM140.1 64.8h0.8v0.8h-0.8zM125.8 68h0.8v0.8h-0.8zM139.1 64.8h0.8v0.8h-0.8zM134.6 65.8h0.8v0.8h-0.8zM130.1 59h0.8v0.8h-0.8zM130 59.5h0.8v0.8h-0.8zM141.9 62.9h0.8v0.8h-0.8zM145.9 64.3h0.8v0.8h-0.8zM143 66h0.8v0.8h-0.8zM140.4 67.8h0.8v0.8h-0.8zM141.1 62.5h0.8v0.8h-0.8zM124.4 65.8h0.8v0.8h-0.8zM135.2 63.7h0.8v0.8h-0.8zM125.7 63.5h0.8v0.8h-0.8zM136.5 65.8h0.8v0.8h-0.8zM144.7 64.1h0.8v0.8h-0.8zM133.4 65.6h0.8v0.8h-0.8zM121.5 69.2h0.8v0.8h-0.8zM123.8 69.4h0.8v0.8h-0.8zM139.8 61.3h0.8v0.8h-0.8zM127.9 63.9h0.8v0.8h-0.8zM145.6 65h0.8v0.8h-0.8zM130.6 60.1h0.8v0.8h-0.8zM138.5 67.4h0.8v0.8h-0.8zM124.9 64.9h0.8v0.8h-0.8zM132.8 64.9h0.8v0.8h-0.8zM133.4 58.2h0.8v0.8h-0.8zM129.1 65.2h0.8v0.8h-0.8zM137.9 66.7h0.8v0.8h-0.8zM134.4 64h0.8v0.8h-0.8zM136 65h0.8v0.8h-0.8zM142.4 64.9h0.8v0.8h-0.8zM123.4 66.4h0.8v0.8h-0.8zM126.5 64.9h0.8v0.8h-0.8zM143.1 62.9h0.8v0.8h-0.8zM127.4 64h0.8v0.8h-0.8zM130 70.4h0.8v0.8h-0.8zM144.5 63.2h0.8v0.8h-0.8zM126.7 69.3h0.8v0.8h-0.8zM135 58.1h0.8v0.8h-0.8zM134.5 64.6h0.8v0.8h-0.8zM141.1 65.1h0.8v0.8h-0.8zM136.9 69.5h0.8v0.8h-0.8zM121 61.2h0.8v0.8h-0.8zM141.4 68.4h0.8v0.8h-0.8zM141.5 64.1h0.8v0.8h-0.8zM135.2 61.9h0.8v0.8h-0.8zM136.1 61.2h0.8v0.8h-0.8zM146.3 62.9h0.8v0.8h-0.8zM135.7 60.3h0.8v0.8h-0.8zM133.9 64.7h0.8v0.8h-0.8zM126.5 63.8h0.8v0.8h-0.8zM143.7 68.7h0.8v0.8h-0.8zM120.2 66.8h0.8v0.8h-0.8zM128.5 68.1h0.8v0.8h-0.8zM137.4 66.7h0.8v0.8h-0.8zM136.1 65.3h0.8v0.8h-0.8zM128.8 67.9h0.8v0.8h-0.8zM134.2 64.7h0.8v0.8h-0.8zM139.6 70.2h0.8v0.8h-0.8zM132 64.6h0.8v0.8h-0.8zM133.7 67.1h0.8v0.8h-0.8zM134.2 61.9h0.8v0.8h-0.8zM143.5 62.7h0.8v0.8h-0.8zM132 69.5h0.8v0.8h-0.8zM130.5 64.3h0.8v0.8h-0.8zM131.4 71.2h0.8v0.8h-0.8zM140.3 62.3h0.8v0.8h-0.8zM122.5 60.9h0.8v0.8h-0.8zM130.3 65.4h0.8v0.8h-0.8zM137.6 67.9h0.8v0.8h-0.8zM128.2 64.5h0.8v0.8h-0.8zM141.2 65h0.8v0.8h-0.8zM130.6 63.6h0.8v0.8h-0.8zM120.4 59.5h0.8v0.8h-0.8zM137.5 60h0.8v0.8h-0.8zM127.1 67.7h0.8v0.8h-0.8zM133.2 70.1h0.8v0.8h-0.8zM131.6 65.7h0.8v0.8h-0.8zM135.9 63h0.8v0.8h-0.8zM145.3 67.2h0.8v0.8h-0.8zM137.9 65.7h0.8v0.8h-0.8zM134 61h0.8v0.8h-0.8zM128.3 66.7h0.8v0.8h-0.8zM141.7 66.5h0.8v0.8h-0.8zM126.2 61.5h0.8v0.8h-0.8zM137.3 66.7h0.8v0.8h-0.8zM129.5 64.4h0.8v0.8h-0.8zM139.7 62.8h0.8v0.8h-0.8zM133.2 65.2h0.8v0.8h-0.8zM141.4 62.5h0.8v0.8h-0.8zM142.1 62.6h0.8v0.8h-0.8zM141.1 66.8h0.8v0.8h-0.8zM128.5 64h0.8v0.8h-0.8zM140.3 70.9h0.8v0.8h-0.8zM129.5 69.3h0.8v0.8h-0.8zM145.2 60.3h0.8v0.8h-0.8zM134.3 63.9h0.8v0.8h-0.8zM144.1 67.6h0.8v0.8h-0.8zM134.8 64.4h0.8v0.8h-0.8zM128.1 65.3h0.8v0.8h-0.8zM131.3 62.4h0.8v0.8h-0.8zM140.7 67.3h0.8v0.8h-0.8zM144.4 66.7h0.8v0.8h-0.8zM132.6 68.3h0.8v0.8h-0.8zM135.9 64.1h0.8v0.8h-0.8zM139.5 62.1h0.8v0.8h-0.8zM128.1 61.1h0.8v0.8h-0.8zM132 64.3h0.8v0.8h-0.8zM145.6 62.8h0.8v0.8h-0.8zM127.7 69.8h0.8v0.8h-0.8zM129.6 69.7h0.8v0.8h-0.8zM126.8 65h0.8v0.8h-0.8zM136.9 65.3h0.8v0.8h-0.8zM128.2 67.1h0.8v0.8h-0.8zM136.9 63.4h0.8v0.8h-0.8zM142.2 63.4h0.8v0.8h-0.8zM143.4 61.3h0.8v0.8h-0.8zM127.8 65.1h0.8v0.8h-0.8zM130.9 63.4h0.8v0.8h-0.8zM138.1 62.3h0.8v0.8h-0.8zM125.3 66.7h0.8v0.8h-0.8zM137.4 68.4h0.8v0.8h-0.8zM134.2 64.9h0.8v0.8h-0.8zM138.3 67.1h0.8v0.8h-0.8zM132.5 62.7h0.8v0.8h-0.8zM130.6 63.9h0.8v0.8h-0.8zM131.8 60.1h0.8v0.8h-0.8zM136.1 65.7h0.8v0.8h-0.8zM123.6 67.1h0.8v0.8h-0.8zM137.7 62.8h0.8v0.8h-0.8zM137.4 60.6h0.8v0.8h-0.8zM142 67.2h0.8v0.8h-0.8zM136.6 65.3h0.8v0.8h-0.8zM129 65.6h0.8v0.8h-0.8zM133.4 64.1h0.8v0.8h-0.8zM129.7 64.6h0.8v0.8h-0.8zM124.9 66.2h0.8v0.8h-0.8zM131.6 68.5h0.8v0.8h-0.8zM139.5 65.4h0.8v0.8h-0.8zM126.9 63.1h0.8v0.8h-0.8zM131.5 62.2h0.8v0.8h-0.8zM143.8 64.6h0.8v0.8h-0.8zM132.7 66.7h0.8v0.8h-0.8zM125.7 63.8h0.8v0.8h-0.8zM126 68.2h0.8v0.8h-0.8zM132.8 68.5h0.8v0.8h-0.8zM132.3 58.2h0.8v0.8h-0.8zM126.3 66.2h0.8v0.8h-0.8zM126.3 67.6h0.8v0.8h-0.8zM126.8 64.2h0.8v0.8h-0.8zM129.4 64.8h0.8v0.8h-0.8zM138.7 70.5h0.8v0.8h-0.8zM131.9 64.7h0.8v0.8h-0.8zM127.7 70.4h0.8v0.8h-0.8zM119.2 60.4h0.8v0.8h-0.8zM134.3 60.4h0.8v0.8h-0.8zM122.9 66h0.8v0.8h-0.8zM135.1 67.1h0.8v0.8h-0.8zM134.6 68.6h0.8v0.8h-0.8zM128.4 66.1h0.8v0.8h-0.8zM124.5 68.2h0.8v0.8h-0.8zM130.7 66.6h0.8v0.8h-0.8zM119.7 68.7h0.8v0.8h-0.8zM140.6 59.5h0.8v0.8h-0.8zM136.7 63.1h0.8v0.8h-0.8zM126.1 66.6h0.8v0.8h-0.8zM131 66.5h0.8v0.8h-0.8zM132 61.4h0.8v0.8h-0.8zM133.3 64.8h0.8v0.8h-0.8zM132.7 69.9h0.8v0.8h-0.8zM135.2 66.8h0.8v0.8h-0.8zM131 64h0.8v0.8h-0.8zM140.4 67.9h0.8v0.8h-0.8zM142.6 61.4h0.8v0.8h-0.8zM145.7 65.9h0.8v0.8h-0.8zM130.2 67.8h0.8v0.8h-0.8zM130.9 67.7h0.8v0.8h-0.8zM140.7 64.8h0.8v0.8h-0.8zM133.8 69h0.8v0.8h-0.8zM127.3 64.3h0.8v0.8h-0.8zM130.3 64.6h0.8v0.8h-0.8zM126.6 61.9h0.8v0.8h-0.8zM143.6 64.8h0.8v0.8h-0.8zM133 68.8h0.8v0.8h-0.8zM140.3 67.1h0.8v0.8h-0.8zM131.7 61h0.8v0.8h-0.8zM141.9 64.6h0.8v0.8h-0.8zM122.1 65.9h0.8v0.8h-0.8zM129.7 68.4h0.8v0.8h-0.8zM144.2 62.2h0.8v0.8h-0.8zM145.3 65.1h0.8v0.8h-0.8zM139.3 60h0.8v0.8h-0.8zM136.7 66.3h0.8v0.8h-0.8zM132 65.4h0.8v0.8h-0.8zM135.4 65.6h0.8v0.8h-0.8zM134.4 69.1h0.8v0.8h-0.8zM126.5 64.9h0.8v0.8h-0.8zM138.3 63.2h0.8v0.8h-0.8zM136.9 66.7h0.8v0.8h-0.8zM133.6 69.9h0.8v0.8h-0.8zM143 68.1h0.8v0.8h-0.8zM132.7 61.2h0.8v0.8h-0.8zM138.4 61.7h0.8v0.8h-0.8zM132.7 66.3h0.8v0.8h-0.8zM137 68.1h0.8v0.8h-0.8zM138.1 61.7h0.8v0.8h-0.8zM135.6 61.5h0.8v0.8h-0.8zM141.7 63.1h0.8v0.8h-0.8zM130.9 65h0.8v0.8h-0.8zM124.4 62.6h0.8v0.8h-0.8zM130.8 66.4h0.8v0.8h-0.8zM137.6 62.4h0.8v0.8h-0.8zM134.6 66h0.8v0.8h-0.8zM140.3 61h0.8v0.8h-0.8zM122.8 62.1h0.8v0.8h-0.8zM127.9 66.3h0.8v0.8h-0.8zM134.3 61.7h0.8v0.8h-0.8zM139.2 65.3h0.8v0.8h-0.8zM132 58.4h0.8v0.8h-0.8zM138.1 65.7h0.8v0.8h-0.8zM129.1 62.5h0.8v0.8h-0.8zM126.1 64.9h0.8v0.8h-0.8zM137.9 67.2h0.8v0.8h-0.8zM125.2 60.9h0.8v0.8h-0.8zM147.2 70.1h0.8v0.8h-0.8zM131.4 64.9h0.8v0.8h-0.8zM134.6 64.6h0.8v0.8h-0.8zM134.7 63.7h0.8v0.8h-0.8zM134.7 70.8h0.8v0.8h-0.8zM139.8 63.2h0.8v0.8h-0.8zM136.3 61.5h0.8v0.8h-0.8zM136.4 58.9h0.8v0.8h-0.8zM129.7 68.3h0.8v0.8h-0.8zM127.4 63.5h0.8v0.8h-0.8zM123.9 59.1h0.8v0.8h-0.8zM143.4 66.2h0.8v0.8h-0.8zM121.6 62.9h0.8v0.8h-0.8zM137.4 60.1h0.8v0.8h-0.8zM137.6 68.5h0.8v0.8h-0.8zM131.8 73.7h0.8v0.8h-0.8zM132.4 57.1h0.8v0.8h-0.8zM130.8 67.2h0.8v0.8h-0.8zM134.2 60.7h0.8v0.8h-0.8zM138.1 73h0.8v0.8h-0.8zM135 67.4h0.8v0.8h-0.8zM134.6 62.6h0.8v0.8h-0.8zM136.7 67.6h0.8v0.8h-0.8zM135.3 64h0.8v0.8h-0.8zM137.2 61.3h0.8v0.8h-0.8zM135.8 63.9h0.8v0.8h-0.8zM133.4 69.3h0.8v0.8h-0.8zM135.6 65.3h0.8v0.8h-0.8zM131.7 67.1h0.8v0.8h-0.8zM122.9 71.1h0.8v0.8h-0.8zM145.7 62.9h0.8v0.8h-0.8zM135.7 63.8h0.8v0.8h-0.8zM131.3 62h0.8v0.8h-0.8zM122 64.9h0.8v0.8h-0.8zM134.6 64.9h0.8v0.8h-0.8zM144.5 64.9h0.8v0.8h-0.8zM132.5 66.8h0.8v0.8h-0.8zM140.4 63.4h0.8v0.8h-0.8zM130.9 64.6h0.8v0.8h-0.8zM144.4 63.3h0.8v0.8h-0.8zM136.1 71.6h0.8v0.8h-0.8zM141.6 67.8h0.8v0.8h-0.8zM129.6 66.1h0.8v0.8h-0.8zM132.6 61.4h0.8v0.8h-0.8zM134.4 66.1h0.8v0.8h-0.8zM137.9 68.2h0.8v0.8h-0.8zM139.8 67.9h0.8v0.8h-0.8zM133.2 66.7h0.8v0.8h-0.8zM125.8 61.4h0.8v0.8h-0.8zM136.3 67.1h0.8v0.8h-0.8zM134.8 67.7h0.8v0.8h-0.8zM140.7 65.5h0.8v0.8h-0.8zM146.4 70h0.8v0.8h-0.8zM130.5 66.9h0.8v0.8h-0.8zM141.1 67.4h0.8v0.8h-0.8zM139.1 61.4h0.8v0.8h-0.8zM147.5 63.8h0.8v0.8h-0.8zM121.6 67h0.8v0.8h-0.8zM132.7 62.8h0.8v0.8h-0.8zM138.3 62.9h0.8v0.8h-0.8zM133.3 62.7h0.8v0.8h-0.8zM138.1 65.7h0.8v0.8h-0.8zM117.7 60.2h0.8v0.8h-0.8zM124.3 65.5h0.8v0.8h-0.8zM134.4 61.6h0.8v0.8h-0.8zM129 67h0.8v0.8h-0.8zM130.1 64.8h0.8v0.8h-0.8zM129 70.3h0.8v0.8h-0.8zM134.2 64.8h0.8v0.8h-0.8zM126.5 64.1h0.8v0.8h-0.8zM133.5 66h0.8v0.8h-0.8zM138.9 69.9h0.8v0.8h-0.8zM143.9 68.6h0.8v0.8h-0.8zM136.9 66.6h0.8v0.8h-0.8zM139.4 70.2h0.8v0.8h-0.8zM132.7 66.1h0.8v0.8h-0.8zM139.7 65.9h0.8v0.8h-0.8zM129.7 62.5h0.8v0.8h-0.8zM124.8 65.2h0.8v0.8h-0.8zM138.2 71h0.8v0.8h-0.8zM132.2 63.9h0.8v0.8h-0.8zM132.9 63.1h0.8v0.8h-0.8zM124.6 64.3h0.8v0.8h-0.8zM128.4 65.1h0.8v0.8h-0.8zM136.6 66.7h0.8v0.8h-0.8zM133 62.9h0.8v0.8h-0.8zM129.2 66.1h0.8v0.8h-0.8zM140.5 67.2h0.8v0.8h-0.8zM133.7 63.4h0.8v0.8h-0.8zM139.6 65.6h0.8v0.8h-0.8zM128.6 62.1h0.8v0.8h-0.8zM138.4 57h0.8v0.8h-0.8zM137.4 66.3h0.8v0.8h-0.8zM130.8 57.7h0.8v0.8h-0.8zM138.9 57.8h0.8v0.8h-0.8zM129.2 68.6h0.8v0.8h-0.8zM137.2 66.1h0.8v0.8h-0.8zM131.1 61.8h0.8v0.8h-0.8zM136.7 63.3h0.8v0.8h-0.8zM126.8 68.6h0.8v0.8h-0.8zM137.4 65.4h0.8v0.8h-0.8zM133.3 63.9h0.8v0.8h-0.8zM135.9 65h0.8v0.8h-0.8zM143.3 61.3h0.8v0.8h-0.8zM125.2 68.5h0.8v0.8h-0.8zM124.5 69.2h0.8v0.8h-0.8zM138.8 60.4h0.8v0.8h-0.8zM137.6 61.3h0.8v0.8h-0.8zM131 62.8h0.8v0.8h-0.8zM133.8 67.8h0.8v0.8h-0.8zM141.6 64.7h0.8v0.8h-0.8zM134.1 60.2h0.8v0.8h-0.8zM138 61.1h0.8v0.8h-0.8zM136.1 65.8h0.8v0.8h-0.8zM124.3 64.4h0.8v0.8h-0.8zM142.8 61.1h0.8v0.8h-0.8zM132 63.1h0.8v0.8h-0.8zM130.8 69.9h0.8v0.8h-0.8zM133.8 64.4h0.8v0.8h-0.8zM131.7 62.4h0.8v0.8h-0.8zM135.1 66.6h0.8v0.8h-0.8zM137.1 69.8h0.8v0.8h-0.8zM127.4 64.4h0.8v0.8h-0.8zM140 67.5h0.8v0.8h-0.8zM124.4 64.7h0.8v0.8h-0.8zM143.3 63.7h0.8v0.8h-0.8zM136.3 67h0.8v0.8h-0.8zM128.3 64.6h0.8v0.8h-0.8zM132.9 65.4h0.8v0.8h-0.8zM125.7 69.6h0.8v0.8h-0.8zM130.5 59.8h0.8v0.8h-0.8zM124.9 66h0.8v0.8h-0.8zM139 66.1h0.8v0.8h-0.8zM132.5 66h0.8v0.8h-0.8zM144.5 65.5h0.8v0.8h-0.8zM144.4 61.4h0.8v0.8h-0.8zM138.3 64.2h0.8v0.8h-0.8zM124.8 66.5h0.8v0.8h-0.8zM119.9 63.1h0.8v0.8h-0.8zM133 70.1h0.8v0.8h-0.8zM138.1 61.1h0.8v0.8h-0.8zM131.9 64.2h0.8v0.8h-0.8zM135.4 69.1h0.8v0.8h-0.8zM129.2 63h0.8v0.8h-0.8zM147.3 62h0.8v0.8h-0.8zM135.8 66.1h0.8v0.8h-0.8zM137.3 72.2h0.8v0.8h-0.8zM136.4 65.5h0.8v0.8h-0.8zM128 64.5h0.8v0.8h-0.8zM135.6 71.6h0.8v0.8h-0.8zM145.1 65.3h0.8v0.8h-0.8zM125 69.2h0.8v0.8h-0.8zM130.8 59.9h0.8v0.8h-0.8zM131.3 59.3h0.8v0.8h-0.8zM144.6 69.7h0.8v0.8h-0.8zM117.6 70.1h0.8v0.8h-0.8zM132 66.9h0.8v0.8h-0.8zM134.8 64.8h0.8v0.8h-0.8zM126.9 64.9h0.8v0.8h-0.8zM138.3 64.3h0.8v0.8h-0.8zM135.1 67.4h0.8v0.8h-0.8zM128.3 67.2h0.8v0.8h-0.8zM133.9 58.4h0.8v0.8h-0.8zM141.1 66.4h0.8v0.8h-0.8zM124.4 60.1h0.8v0.8h-0.8zM128.8 68.9h0.8v0.8h-0.8zM127.4 66h0.8v0.8h-0.8zM129.8 66.9h0.8v0.8h-0.8zM132.3 63.4h0.8v0.8h-0.8zM122.6 66.5h0.8v0.8h-0.8zM137.8 66.2h0.8v0.8h-0.8zM133.8 60.1h0.8v0.8h-0.8zM132.7 67.5h0.8v0.8h-0.8zM137.5 64.1h0.8v0.8h-0.8zM141.1 61.8h0.8v0.8h-0.8zM131.7 67.7h0.8v0.8h-0.8zM130.6 66h0.8v0.8h-0.8zM138.4 65.4h0.8v0.8h-0.8zM126.2 65.2h0.8v0.8h-0.8zM135.2 65.4h0.8v0.8h-0.8zM124.7 67.1h0.8v0.8h-0.8zM130.7 65.3h0.8v0.8h-0.8zM125.3 62.8h0.8v0.8h-0.8zM134.3 57.8h0.8v0.8h-0.8zM137.8 66.8h0.8v0.8h-0.8zM136.1 64.9h0.8v0.8h-0.8zM118.3 67.9h0.8v0.8h-0.8zM132.5 65.5h0.8v0.8h-0.8zM130.8 66h0.8v0.8h-0.8zM129.3 65.9h0.8v0.8h-0.8zM127.5 67.1h0.8v0.8h-0.8zM137.3 65.5h0.8v0.8h-0.8zM126.6 61.2h0.8v0.8h-0.8zM138.4 63.6h0.8v0.8h-0.8zM137.5 66.5h0.8v0.8h-0.8zM139.9 61.5h0.8v0.8h-0.8zM136.3 69.4h0.8v0.8h-0.8zM141.5 70.1h0.8v0.8h-0.8zM139.4 70.6h0.8v0.8h-0.8zM137.2 65.9h0.8v0.8h-0.8zM127.9 67.3h0.8v0.8h-0.8zM132.8 60.2h0.8v0.8h-0.8zM128.7 67.4h0.8v0.8h-0.8zM139.9 61.4h0.8v0.8h-0.8zM131.6 66.4h0.8v0.8h-0.8zM132 72.5h0.8v0.8h-0.8zM136.2 68h0.8v0.8h-0.8zM125.2 67.3h0.8v0.8h-0.8zM136.8 67.9h0.8v0.8h-0.8zM136 63.3h0.8v0.8h-0.8zM136.9 70h0.8v0.8h-0.8zM124.1 62.3h0.8v0.8h-0.8zM121.8 64.1h0.8v0.8h-0.8zM124.9 64.9h0.8v0.8h-0.8zM134.5 65.3h0.8v0.8h-0.8zM125 65.4h0.8v0.8h-0.8zM131.1 64.4h0.8v0.8h-0.8zM134.4 72.4h0.8v0.8h-0.8zM132.5 59.5h0.8v0.8h-0.8zM134.5 66h0.8v0.8h-0.8zM122.6 60.1h0.8v0.8h-0.8zM126.2 65.3h0.8v0.8h-0.8zM146.5 62.6h0.8v0.8h-0.8zM142.7 65.3h0.8v0.8h-0.8zM135.3 59.9h0.8v0.8h-0.8zM134.2 62.5h0.8v0.8h-0.8zM124.9 58.8h0.8v0.8h-0.8zM119.2 66.5h0.8v0.8h-0.8zM129.1 65.7h0.8v0.8h-0.8zM133.1 66.7h0.8v0.8h-0.8zM135.1 65.1h0.8v0.8h-0.8zM136.4 62.3h0.8v0.8h-0.8zM135.3 63.7h0.8v0.8h-0.8zM134.1 61.4h0.8v0.8h-0.8zM137.1 60.4h0.8v0.8h-0.8zM133.4 64.7h0.8v0.8h-0.8zM137 62.6h0.8v0.8h-0.8zM131.5 65.2h0.8v0.8h-0.8zM136.1 62h0.8v0.8h-0.8zM123.3 69.1h0.8v0.8h-0.8zM141.8 65.4h0.8v0.8h-0.8zM132.3 63.3h0.8v0.8h-0.8zM134.6 66.1h0.8v0.8h-0.8zM145 66.1h0.8v0.8h-0.8zM135.1 62.8h0.8v0.8h-0.8zM139.9 62h0.8v0.8h-0.8zM146.2 63.9h0.8v0.8h-0.8zM128.8 68.3h0.8v0.8h-0.8zM130.2 64.3h0.8v0.8h-0.8zM133.8 61.2h0.8v0.8h-0.8zM132.8 61.9h0.8v0.8h-0.8zM133.7 65.4h0.8v0.8h-0.8zM128.5 67h0.8v0.8h-0.8zM133.8 63.4h0.8v0.8h-0.8zM137.5 61.8h0.8v0.8h-0.8zM125.4 68.1h0.8v0.8h-0.8zM134.1 58.9h0.8v0.8h-0.8zM138.3 60.2h0.8v0.8h-0.8zM129.6 67.9h0.8v0.8h-0.8zM132.3 67.1h0.8v0.8h-0.8zM121.3 65.6h0.8v0.8h-0.8zM135.7 69.4h0.8v0.8h-0.8zM135.9 67.1h0.8v0.8h-0.8zM141.2 63.1h0.8v0.8h-0.8zM125.9 68.7h0.8v0.8h-0.8zM124.4 66.5h0.8v0.8h-0.8zM134.4 69.4h0.8v0.8h-0.8zM139.5 65.2h0.8v0.8h-0.8zM140.1 67.4h0.8v0.8h-0.8zM134 61.2h0.8v0.8h-0.8zM131.3 64.3h0.8v0.8h-0.8zM138.8 67.2h0.8v0.8h-0.8zM136.2 65.1h0.8v0.8h-0.8zM138.6 65.6h0.8v0.8h-0.8zM134 65.5h0.8v0.8h-0.8zM125.6 68.7h0.8v0.8h-0.8zM136 66.3h0.8v0.8h-0.8zM138.5 61.2h0.8v0.8h-0.8zM138.3 64.1h0.8v0.8h-0.8zM123.4 66h0.8v0.8h-0.8zM137.3 60.9h0.8v0.8h-0.8zM132.9 64.4h0.8v0.8h-0.8zM138.6 63.7h0.8v0.8h-0.8zM139 65.3h0.8v0.8h-0.8zM144.8 63.7h0.8v0.8h-0.8zM126.4 62h0.8v0.8h-0.8zM137.8 61.6h0.8v0.8h-0.8zM131.3 65.2h0.8v0.8h-0.8zM133.3 67.7h0.8v0.8h-0.8zM133.8 60.4h0.8v0.8h-0.8zM143 69.7h0.8v0.8h-0.8zM130.1 59.6h0.8v0.8h-0.8zM131.4 63.4h0.8v0.8h-0.8zM136.5 73.4h0.8v0.8h-0.8zM139.1 58.8h0.8v0.8h-0.8zM131.8 65.6h0.8v0.8h-0.8zM136.6 65.3h0.8v0.8h-0.8zM144.7 67.8h0.8v0.8h-0.8zM130.7 68.8h0.8v0.8h-0.8zM124.9 64.3h0.8v0.8h-0.8zM133.4 64.7h0.8v0.8h-0.8zM142.2 63.5h0.8v0.8h-0.8zM130.1 69h0.8v0.8h-0.8zM141 71.5h0.8v0.8h-0.8zM135.2 65h0.8v0.8h-0.8zM125 65.2h0.8v0.8h-0.8zM127.9 62h0.8v0.8h-0.8zM134.7 64.3h0.8v0.8h-0.8zM136.2 68.8h0.8v0.8h-0.8zM129.3 66.9h0.8v0.8h-0.8zM140.3 68.3h0.8v0.8h-0.8zM140.1 65.9h0.8v0.8h-0.8zM143.2 62.6h0.8v0.8h-0.8zM129.4 65.9h0.8v0.8h-0.8zM145.4 64.8h0.8v0.8h-0.8zM135.4 63.2h0.8v0.8h-0.8zM143.5 63.9h0.8v0.8h-0.8zM135.5 64.2h0.8v0.8h-0.8zM133.8 62.7h0.8v0.8h-0.8zM133.8 64.4h0.8v0.8h-0.8zM137.5 65.6h0.8v0.8h-0.8zM120 65h0.8v0.8h-0.8zM124.5 67.9h0.8v0.8h-0.8zM133.7 65.9h0.8v0.8h-0.8zM141.7 67.4h0.8v0.8h-0.8zM133.1 62.6h0.8v0.8h-0.8zM127 63.4h0.8v0.8h-0.8zM134.5 57.8h0.8v0.8h-0.8zM115.9 57.3h0.8v0.8h-0.8zM132.1 65.4h0.8v0.8h-0.8zM141.6 66.6h0.8v0.8h-0.8zM138 67.2h0.8v0.8h-0.8zM136.6 69.7h0.8v0.8h-0.8zM144.5 63.2h0.8v0.8h-0.8zM129.7 63.8h0.8v0.8h-0.8zM137.6 62.7h0.8v0.8h-0.8zM126.6 63.2h0.8v0.8h-0.8zM146.1 62.6h0.8v0.8h-0.8zM139.6 60.7h0.8v0.8h-0.8zM141.3 64.2h0.8v0.8h-0.8zM128.1 66h0.8v0.8h-0.8zM143.6 59.8h0.8v0.8h-0.8zM134.6 63.3h0.8v0.8h-0.8zM125 62.3h0.8v0.8h-0.8zM133 65.5h0.8v0.8h-0.8zM141 64.1h0.8v0.8h-0.8zM127.8 64.9h0.8v0.8h-0.8zM131.8 67.9h0.8v0.8h-0.8zM132.8 57.3h0.8v0.8h-0.8zM120.6 60.8h0.8v0.8h-0.8zM136.8 70.7h0.8v0.8h-0.8zM136.1 67.8h0.8v0.8h-0.8zM138.4 65.4h0.8v0.8h-0.8zM140.2 62.4h0.8v0.8h-0.8zM122.5 61.6h0.8v0.8h-0.8zM141.3 68.1h0.8v0.8h-0.8zM132.6 63.9h0.8v0.8h-0.8zM138.2 65.7h0.8v0.8h-0.8zM141.2 65.6h0.8v0.8h-0.8zM125.3 69.4h0.8v0.8h-0.8zM133.2 65.6h0.8v0.8h-0.8zM137.1 64.5h0.8v0.8h-0.8zM132 66h0.8v0.8h-0.8zM119.8 65.2h0.8v0.8h-0.8zM135.2 70.1h0.8v0.8h-0.8zM124.9 66.9h0.8v0.8h-0.8zM129.6 66.1h0.8v0.8h-0.8zM121.3 63.2h0.8v0.8h-0.8zM144.8 63.5h0.8v0.8h-0.8zM138.1 65.4h0.8v0.8h-0.8zM131 60.3h0.8v0.8h-0.8zM143.9 63.9h0.8v0.8h-0.8zM138.5 65.7h0.8v0.8h-0.8zM137.6 65.4h0.8v0.8h-0.8zM138.2 66.5h0.8v0.8h-0.8zM136.6 69h0.8v0.8h-0.8zM144.2 64.1h0.8v0.8h-0.8zM122.4 66.3h0.8v0.8h-0.8zM142.6 64.9h0.8v0.8h-0.8zM129.1 63.1h0.8v0.8h-0.8zM140.2 65.3h0.8v0.8h-0.8zM136.9 66.6h0.8v0.8h-0.8zM136.9 63.9h0.8v0.8h-0.8zM140.7 64.3h0.8v0.8h-0.8zM130.5 64.1h0.8v0.8h-0.8zM127.9 58.8h0.8v0.8h-0.8zM127.6 69.6h0.8v0.8h-0.8zM124.7 66.7h0.8v0.8h-0.8zM140.4 66.9h0.8v0.8h-0.8zM133.1 63.9h0.8v0.8h-0.8zM142.8 65h0.8v0.8h-0.8zM132.4 66.9h0.8v0.8h-0.8zM134.4 61.6h0.8v0.8h-0.8zM131.6 70.9h0.8v0.8h-0.8zM141.9 63.3h0.8v0.8h-0.8zM133.2 68.3h0.8v0.8h-0.8zM136.6 68.3h0.8v0.8h-0.8zM139.8 69.3h0.8v0.8h-0.8zM134.9 64.8h0.8v0.8h-0.8zM129.2 63.2h0.8v0.8h-0.8zM133.4 66.8h0.8v0.8h-0.8zM132.9 68.5h0.8v0.8h-0.8zM121.4 58.9h0.8v0.8h-0.8zM141.9 61.3h0.8v0.8h-0.8zM121.2 60.6h0.8v0.8h-0.8zM142.5 68.6h0.8v0.8h-0.8zM127.9 66.2h0.8v0.8h-0.8zM141.3 64.7h0.8v0.8h-0.8zM132.6 64.7h0.8v0.8h-0.8zM124.1 66.9h0.8v0.8h-0.8zM139.4 66.8h0.8v0.8h-0.8zM128 68.2h0.8v0.8h-0.8zM136.3 62.9h0.8v0.8h-0.8zM135.3 65.9h0.8v0.8h-0.8zM137.8 67.1h0.8v0.8h-0.8zM135.4 60.3h0.8v0.8h-0.8zM132.8 63.1h0.8v0.8h-0.8zM136.5 60.3h0.8v0.8h-0.8zM141.2 62.6h0.8v0.8h-0.8zM143 65.8h0.8v0.8h-0.8zM121.6 64.5h0.8v0.8h-0.8zM122.2 62.9h0.8v0.8h-0.8zM134.5 64.2h0.8v0.8h-0.8zM137.5 61.2h0.8v0.8h-0.8zM143.4 71.8h0.8v0.8h-0.8zM130.3 64.1h0.8v0.8h-0.8zM133.5 67.7h0.8v0.8h-0.8zM139.4 68.8h0.8v0.8h-0.8zM136.6 63.2h0.8v0.8h-0.8zM124.8 61.2h0.8v0.8h-0.8zM129.8 70.2h0.8v0.8h-0.8zM128.5 67.7h0.8v0.8h-0.8zM135.2 64.7h0.8v0.8h-0.8zM131.3 65h0.8v0.8h-0.8zM131.1 60.7h0.8v0.8h-0.8zM128.5 64.3h0.8v0.8h-0.8zM127.7 58.2h0.8v0.8h-0.8zM139.8 62.1h0.8v0.8h-0.8zM118.4 62.5h0.8v0.8h-0.8zM135 64.9h0.8v0.8h-0.8zM138.9 67.3h0.8v0.8h-0.8zM141.1 63.5h0.8v0.8h-0.8zM134.5 68.9h0.8v0.8h-0.8zM132 64.9h0.8v0.8h-0.8zM130.4 63.4h0.8v0.8h-0.8zM140.6 64.8h0.8v0.8h-0.8zM144.7 64.2h0.8v0.8h-0.8zM141.1 70h0.8v0.8h-0.8zM132.7 66.2h0.8v0.8h-0.8zM141.1 68.8h0.8v0.8h-0.8zM142.7 68.2h0.8v0.8h-0.8zM148 59.9h0.8v0.8h-0.8zM129.6 63.5h0.8v0.8h-0.8zM130.2 62.2h0.8v0.8h-0.8zM126.2 64h0.8v0.8h-0.8zM144.6 66.6h0.8v0.8h-0.8zM143.3 67.5h0.8v0.8h-0.8zM131.3 62.4h0.8v0.8h-0.8zM133.7 71.4h0.8v0.8h-0.8zM137.7 62.4h0.8v0.8h-0.8zM141.4 67.4h0.8v0.8h-0.8zM142.6 66h0.8v0.8h-0.8zM126.9 61.8h0.8v0.8h-0.8zM123.5 67.6h0.8v0.8h-0.8zM136.5 64.4h0.8v0.8h-0.8zM127.9 66h0.8v0.8h-0.8zM133.5 65.7h0.8v0.8h-0.8zM132.6 62h0.8v0.8h-0.8zM129.6 66.2h0.8v0.8h-0.8zM134.9 62.7h0.8v0.8h-0.8zM135.9 66.8h0.8v0.8h-0.8zM139.7 66.5h0.8v0.8h-0.8zM132.6 61.5h0.8v0.8h-0.8zM132.8 71.1h0.8v0.8h-0.8zM142.1 64.5h0.8v0.8h-0.8zM136.3 60.4h0.8v0.8h-0.8zM129.6 65.3h0.8v0.8h-0.8zM138 71.5h0.8v0.8h-0.8zM134.9 64.1h0.8v0.8h-0.8zM131.4 66h0.8v0.8h-0.8zM134.9 63.8h0.8v0.8h-0.8zM135.5 62.4h0.8v0.8h-0.8zM145 70.2h0.8v0.8h-0.8zM131.7 70.7h0.8v0.8h-0.8zM145.9 67.4h0.8v0.8h-0.8zM140.8 64.9h0.8v0.8h-0.8zM137.6 66.2h0.8v0.8h-0.8zM138.7 57.5h0.8v0.8h-0.8zM126.3 62.6h0.8v0.8h-0.8zM134.6 67.4h0.8v0.8h-0.8zM140.5 64.5h0.8v0.8h-0.8zM132.9 66.6h0.8v0.8h-0.8zM143.3 64.3h0.8v0.8h-0.8zM129.1 66.8h0.8v0.8h-0.8zM141.3 67.9h0.8v0.8h-0.8zM115.4 63.7h0.8v0.8h-0.8zM139.4 67.7h0.8v0.8h-0.8zM141.8 63h0.8v0.8h-0.8zM141.5 73.5h0.8v0.8h-0.8zM130.4 62.5h0.8v0.8h-0.8zM135.9 64.8h0.8v0.8h-0.8zM131.8 67.2h0.8v0.8h-0.8zM132.3 63.6h0.8v0.8h-0.8zM134.4 68.4h0.8v0.8h-0.8zM126.8 64.8h0.8v0.8h-0.8zM133.2 66.2h0.8v0.8h-0.8zM138.5 62.5h0.8v0.8h-0.8zM138.3 65.3h0.8v0.8h-0.8zM131.2 65.9h0.8v0.8h-0.8zM142.2 68.8h0.8v0.8h-0.8zM136.5 64h0.8v0.8h-0.8zM133.4 62.7h0.8v0.8h-0.8zM126.5 63.8h0.8v0.8h-0.8zM136.8 64.8h0.8v0.8h-0.8zM138.1 61.8h0.8v0.8h-0.8zM123.2 64.4h0.8v0.8h-0.8zM136.5 65h0.8v0.8h-0.8zM125.9 67.7h0.8v0.8h-0.8zM136.8 66.2h0.8v0.8h-0.8zM140.9 63.9h0.8v0.8h-0.8zM140.6 66h0.8v0.8h-0.8zM124.5 64.7h0.8v0.8h-0.8zM137.6 65.5h0.8v0.8h-0.8zM140.8 57.1h0.8v0.8h-0.8zM143.8 63.2h0.8v0.8h-0.8zM140.9 60.3h0.8v0.8h-0.8zM131.1 64.3h0.8v0.8h-0.8zM139.4 65.7h0.8v0.8h-0.8zM137.7 67.5h0.8v0.8h-0.8zM122.9 62.1h0.8v0.8h-0.8zM131.6 58.9h0.8v0.8h-0.8zM143.3 64.4h0.8v0.8h-0.8zM136.6 61.6h0.8v0.8h-0.8zM123.2 69.4h0.8v0.8h-0.8zM128.4 63.1h0.8v0.8h-0.8zM130.4 68h0.8v0.8h-0.8zM134.2 68.2h0.8v0.8h-0.8zM130.2 64.3h0.8v0.8h-0.8zM137.9 70.4h0.8v0.8h-0.8zM132.4 57.2h0.8v0.8h-0.8zM128 63.3h0.8v0.8h-0.8zM134.7 63.4h0.8v0.8h-0.8zM129.8 69.2h0.8v0.8h-0.8zM137.4 60.6h0.8v0.8h-0.8zM129 64.8h0.8v0.8h-0.8zM143.8 64.2h0.8v0.8h-0.8zM139 64h0.8v0.8h-0.8zM139 61.3h0.8v0.8h-0.8zM129.6 68.8h0.8v0.8h-0.8zM130.5 65.8h0.8v0.8h-0.8zM125.5 62.3h0.8v0.8h-0.8zM129.7 69h0.8v0.8h-0.8zM133.6 61.8h0.8v0.8h-0.8zM134.4 67h0.8v0.8h-0.8zM130.2 66.4h0.8v0.8h-0.8zM126.3 60.9h0.8v0.8h-0.8zM134.4 69.4h0.8v0.8h-0.8zM141 73.6h0.8v0.8h-0.8zM131 64.5h0.8v0.8h-0.8zM125.4 66.6h0.8v0.8h-0.8zM139.1 65.1h0.8v0.8h-0.8zM130.7 67.7h0.8v0.8h-0.8zM136.1 69.7h0.8v0.8h-0.8zM137.3 60.1h0.8v0.8h-0.8zM135 65h0.8v0.8h-0.8zM126.5 67h0.8v0.8h-0.8zM134.5 63.4h0.8v0.8h-0.8zM122.9 66.6h0.8v0.8h-0.8zM132.8 63.4h0.8v0.8h-0.8zM131.7 70.6h0.8v0.8h-0.8zM117.2 67.5h0.8v0.8h-0.8zM131.5 63.5h0.8v0.8h-0.8zM136.1 65h0.8v0.8h-0.8zM141.8 62.9h0.8v0.8h-0.8zM136.9 67.7h0.8v0.8h-0.8zM128.9 65.7h0.8v0.8h-0.8zM134.9 66.1h0.8v0.8h-0.8zM134.7 60.5h0.8v0.8h-0.8zM139 60.9h0.8v0.8h-0.8zM132.6 66h0.8v0.8h-0.8zM124.8 63.1h0.8v0.8h-0.8zM135.9 65.4h0.8v0.8h-0.8zM129 70.7h0.8v0.8h-0.8zM139.4 65.9h0.8v0.8h-0.8zM133.8 62.5h0.8v0.8h-0.8zM132.4 61.2h0.8v0.8h-0.8zM144.9 66.4h0.8v0.8h-0.8zM126 69.2h0.8v0.8h-0.8zM130.9 67.3h0.8v0.8h-0.8zM127.4 68.6h0.8v0.8h-0.8zM121.9 64.7h0.8v0.8h-0.8zM143.8 70.9h0.8v0.8h-0.8zM136.6 65.8h0.8v0.8h-0.8zM134.2 67.4h0.8v0.8h-0.8zM134.5 60.5h0.8v0.8h-0.8zM123.9 60.5h0.8v0.8h-0.8zM130.1 58.7h0.8v0.8h-0.8zM133 65.6h0.8v0.8h-0.8zM138.5 68.1h0.8v0.8h-0.8zM124.6 66h0.8v0.8h-0.8zM131.4 65.3h0.8v0.8h-0.8zM132.6 63.9h0.8v0.8h-0.8zM138.1 68.5h0.8v0.8h-0.8zM125.4 67.5h0.8v0.8h-0.8zM132.3 67.5h0.8v0.8h-0.8zM122.8 62.1h0.8v0.8h-0.8zM130 68.1h0.8v0.8h-0.8zM135.6 67h0.8v0.8h-0.8zM139.3 64.9h0.8v0.8h-0.8zM139.3 67h0.8v0.8h-0.8zM143.3 62.2h0.8v0.8h-0.8zM144.8 61.6h0.8v0.8h-0.8zM145.1 63.3h0.8v0.8h-0.8zM140.2 66.4h0.8v0.8h-0.8zM137.6 63.7h0.8v0.8h-0.8zM138.4 65.7h0.8v0.8h-0.8zM135.9 65h0.8v0.8h-0.8zM126.5 64.7h0.8v0.8h-0.8zM134.7 62h0.8v0.8h-0.8zM132 68.6h0.8v0.8h-0.8zM129.2 65h0.8v0.8h-0.8zM116.9 65.6h0.8v0.8h-0.8zM141 67.2h0.8v0.8h-0.8zM128.1 65.9h0.8v0.8h-0.8zM125.9 61.9h0.8v0.8h-0.8zM145.9 62.5h0.8v0.8h-0.8zM134.5 66.5h0.8v0.8h-0.8zM139.9 64.9h0.8v0.8h-0.8zM146.8 58.3h0.8v0.8h-0.8zM125.6 64.3h0.8v0.8h-0.8zM135.7 68h0.8v0.8h-0.8zM124.7 56.2h0.8v0.8h-0.8zM121.9 64.4h0.8v0.8h-0.8zM124 68.8h0.8v0.8h-0.8zM145.8 59h0.8v0.8h-0.8zM132.6 65.5h0.8v0.8h-0.8zM136.8 69.3h0.8v0.8h-0.8zM134.6 65.6h0.8v0.8h-0.8zM128.1 60.9h0.8v0.8h-0.8zM116.7 68.5h0.8v0.8h-0.8zM128.1 64.7h0.8v0.8h-0.8zM136.8 63.5h0.8v0.8h-0.8zM142.8 63.3h0.8v0.8h-0.8zM132.7 64.3h0.8v0.8h-0.8zM129.5 67.5h0.8v0.8h-0.8zM127.8 71.9h0.8v0.8h-0.8zM137.8 63.6h0.8v0.8h-0.8zM136.1 62.2h0.8v0.8h-0.8zM125.5 63.8h0.8v0.8h-0.8zM134.9 61.8h0.8v0.8h-0.8zM133.4 66h0.8v0.8h-0.8zM140.1 67.9h0.8v0.8h-0.8zM136.3 66.5h0.8v0.8h-0.8zM143.2 64.4h0.8v0.8h-0.8zM138.9 63.8h0.8v0.8h-0.8zM142.9 61.5h0.8v0.8h-0.8zM128.3 64.8h0.8v0.8h-0.8zM131.6 63h0.8v0.8h-0.8zM135.1 64.4h0.8v0.8h-0.8zM139.1 68.2h0.8v0.8h-0.8zM129.7 62.6h0.8v0.8h-0.8zM142.1 64.9h0.8v0.8h-0.8zM138.9 66h0.8v0.8h-0.8zM142.3 63h0.8v0.8h-0.8zM135 62.6h0.8v0.8h-0.8zM141.7 65.4h0.8v0.8h-0.8zM134.3 62.9h0.8v0.8h-0.8zM137.7 65.7h0.8v0.8h-0.8zM121.8 61h0.8v0.8h-0.8zM138.8 67.2h0.8v0.8h-0.8zM132.7 67.8h0.8v0.8h-0.8zM124.3 68.6h0.8v0.8h-0.8zM140.6 72.6h0.8v0.8h-0.8zM137.9 61.6h0.8v0.8h-0.8zM131.6 66.4h0.8v0.8h-0.8zM144.1 67.2h0.8v0.8h-0.8zM131.7 64.3h0.8v0.8h-0.8zM126.8 61.2h0.8v0.8h-0.8zM135.9 65.2h0.8v0.8h-0.8zM132.4 64.2h0.8v0.8h-0.8zM143.9 67.2h0.8v0.8h-0.8zM124.3 60.8h0.8v0.8h-0.8zM134.7 60.4h0.8v0.8h-0.8zM127.7 62.6h0.8v0.8h-0.8zM137 63h0.8v0.8h-0.8zM115.9 66.4h0.8v0.8h-0.8zM135.9 65h0.8v0.8h-0.8zM133.6 67.1h0.8v0.8h-0.8zM135.3 64.6h0.8v0.8h-0.8zM137.9 63.8h0.8v0.8h-0.8zM133.2 62.9h0.8v0.8h-0.8zM129.1 69.5h0.8v0.8h-0.8zM138.9 60h0.8v0.8h-0.8zM125.1 68.1h0.8v0.8h-0.8zM137.3 66h0.8v0.8h-0.8zM140.8 64.8h0.8v0.8h-0.8zM125.1 70.2h0.8v0.8h-0.8zM118.5 70.9h0.8v0.8h-0.8zM128.4 70.2h0.8v0.8h-0.8zM137.6 68.6h0.8v0.8h-0.8zM129.8 69.4h0.8v0.8h-0.8zM129.8 65.7h0.8v0.8h-0.8zM123.1 66.2h0.8v0.8h-0.8zM136.2 64.2h0.8v0.8h-0.8zM142.4 68.8h0.8v0.8h-0.8zM132.5 62.9h0.8v0.8h-0.8zM122.4 70.2h0.8v0.8h-0.8zM131.6 60.2h0.8v0.8h-0.8zM127.9 62.3h0.8v0.8h-0.8zM133.5 65.5h0.8v0.8h-0.8zM131.5 67.7h0.8v0.8h-0.8zM131.8 63h0.8v0.8h-0.8zM143.9 66h0.8v0.8h-0.8zM136.6 63h0.8v0.8h-0.8zM146 63h0.8v0.8h-0.8zM130.2 68.1h0.8v0.8h-0.8zM118.5 65.8h0.8v0.8h-0.8zM139.4 69.2h0.8v0.8h-0.8zM129.5 58.8h0.8v0.8h-0.8zM128.2 64.6h0.8v0.8h-0.8zM139.7 63.5h0.8v0.8h-0.8zM130.5 66.9h0.8v0.8h-0.8zM143.2 65.7h0.8v0.8h-0.8zM127.3 60.7h0.8v0.8h-0.8zM134.3 67h0.8v0.8h-0.8zM139.3 64.3h0.8v0.8h-0.8zM122.6 68.3h0.8v0.8h-0.8zM129 66.2h0.8v0.8h-0.8zM127.4 72.6h0.8v0.8h-0.8z" fill="#1a2cff" opacity="0.9"/><ellipse cx="137.3" cy="65.4" rx="4.8" ry="2.7" fill="#5a90ff" opacity="0.85" filter="url(#bl2)"/><path d="M110 72.5 L146 72.5 L146 80.6 L110 80.6 Z" fill="#2234ff" opacity="0.4" filter="url(#bl1)"/><path d="M108.2 81.9 Q109 80 114 79.8 L138 79.8 Q144 80.4 144.6 81.9 Q144 83.5 138 83.8 L114 83.8 Q109 83.6 108.2 81.9 Z" fill="#1a30ff" filter="url(#bl1)"/><path d="M111 82.1 Q113 81.2 118 81.1 L134 81.1 Q140 81.3 141.5 82.1 Q140 82.9 134 83.1 L118 83.1 Q113 83 111 82.1 Z" fill="url(#hotB)" filter="url(#bl1)"/></g>
<rect x="23" y="34.2" width="63" height="62.4" fill="none" stroke="#d4d4d4" stroke-width="0.8"/>
<path d="M23 41h-3.6M23 54.6h-3.6M23 71.8h-3.6M23 92.5h-3.6M26.9 96.6v1.6M37.7 96.6v1.6M47.6 96.6v1.6M65.8 96.6v1.6M79.9 96.6v1.6" fill="none" stroke="#8a8a8a" stroke-width="0.7"/>
<rect x="21.8" y="80.7" width="1" height="3.2" fill="#333"/>
<rect x="36.8" y="96.9" width="1.8" height="0.9" fill="#333"/>
<rect x="93.4" y="34.2" width="63" height="62.4" fill="none" stroke="#d4d4d4" stroke-width="0.8"/>
<path d="M93.4 41h-3.6M93.4 54.6h-3.6M93.4 71.8h-3.6M93.4 92.5h-3.6M97.3 96.6v1.6M108.1 96.6v1.6M118 96.6v1.6M136.2 96.6v1.6M150.3 96.6v1.6" fill="none" stroke="#8a8a8a" stroke-width="0.7"/>
<rect x="92.2" y="80.7" width="1" height="3.2" fill="#333"/>
<rect x="107.2" y="96.9" width="1.8" height="0.9" fill="#333"/>
<rect x="32.4" y="53.1" width="15.3" height="13.2" fill="none" stroke="#404040" stroke-width="0.8"/>
<rect x="51.4" y="50.6" width="25.1" height="20.8" fill="none" stroke="#404040" stroke-width="0.8"/>
<rect x="103.2" y="53.2" width="15" height="13" fill="none" stroke="#404040" stroke-width="0.8"/>
<rect x="121.5" y="50.6" width="25.6" height="20.7" fill="none" stroke="#404040" stroke-width="0.8"/>
<text x="33.6" y="43.8" class="gl">LK</text>
<text x="33.6" y="48.6" class="gl">1.33</text>
<text x="62" y="40.6" class="gl">LSK</text>
<text x="62" y="45.4" class="gl">0.63</text>
<text x="102" y="43.8" class="gl">LK</text>
<text x="102" y="48.6" class="gl">0.54</text>
<text x="132" y="40.6" class="gl">LSK</text>
<text x="132" y="45.4" class="gl">8.39</text>
<path d="M11.4 73.7V46" stroke="#111" stroke-width="1.1" fill="none"/>
<path d="M11.4 42.4L9.2 47.4H13.6Z" fill="#111"/>
<text transform="translate(13.9 82.6) rotate(-90)" class="axl" text-anchor="middle" textLength="11.9" lengthAdjust="spacingAndGlyphs">c-Kit</text>
<text x="55.9" y="109.6" class="axl2" textLength="12.2" lengthAdjust="spacingAndGlyphs">Sca1</text>
<path d="M70.8 106.5H118.5" stroke="#111" stroke-width="1.1" fill="none"/>
<path d="M122.6 106.5L117.4 104.3V108.7Z" fill="#111"/>
<text x="54.65" y="29.9" class="ft">Sptlc1<tspan font-size="3.9" dy="-2.3">+/+</tspan></text>
<text x="124.4" y="29.9" class="ft">Sptlc1<tspan font-size="3.9" dy="-2.3">-/-</tspan></text>
<text transform="translate(169.5 16.1) scale(1.1 1)" class="lt">B</text>
<rect x="200.6" y="97.4" width="14" height="2.6" fill="#d9706a"/>
<rect x="221.8" y="77.9" width="14.3" height="22.1" fill="#6cbcc0"/>
<path d="M193.9 35.1V100H242.6" class="ax"/>
<text x="188" y="40.45" class="tl">1.5</text>
<text x="188" y="61.15" class="tl">1.0</text>
<text x="188" y="81.65" class="tl">0.5</text>
<text x="188" y="102.15" class="tl">0.0</text>
<path d="M191.3 38.3H193.9M191.3 59H193.9M191.3 79.5H193.9M191.3 100H193.9M207.6 100V103M228.95 100V103" class="tk"/>
<path d="M228.95 62.8V92.6M225.45 62.8H232.45M225.45 92.6H232.45" class="eb"/>
<path d="M201.5 98.3a0.95 0.95 0 1 0 0.01 0ZM202.69 98.05a0.95 0.95 0 1 0 0.01 0ZM203.9 97.51a0.95 0.95 0 1 0 0.01 0ZM205.09 96.95a0.95 0.95 0 1 0 0.01 0ZM206.3 96.53a0.95 0.95 0 1 0 0.01 0ZM207.5 96.38a0.95 0.95 0 1 0 0.01 0ZM208.69 96.53a0.95 0.95 0 1 0 0.01 0ZM209.9 96.95a0.95 0.95 0 1 0 0.01 0ZM211.09 97.51a0.95 0.95 0 1 0 0.01 0ZM212.3 98.05a0.95 0.95 0 1 0 0.01 0ZM213.5 98.3a0.95 0.95 0 1 0 0.01 0ZM207.5 96a0.95 0.95 0 1 0 0.01 0ZM205.69 98a0.95 0.95 0 1 0 0.01 0ZM209.3 98a0.95 0.95 0 1 0 0.01 0ZM228.5 46.4a0.95 0.95 0 1 0 0.01 0ZM228 68.3a0.95 0.95 0 1 0 0.01 0ZM226.4 73.7a0.95 0.95 0 1 0 0.01 0ZM231.19 74.8a0.95 0.95 0 1 0 0.01 0ZM228 82.1a0.95 0.95 0 1 0 0.01 0ZM226.4 85.8a0.95 0.95 0 1 0 0.01 0ZM231.19 87.8a0.95 0.95 0 1 0 0.01 0ZM223.9 91a0.95 0.95 0 1 0 0.01 0ZM232.8 92.1a0.95 0.95 0 1 0 0.01 0ZM228 92.1a0.95 0.95 0 1 0 0.01 0ZM229.5 90a0.95 0.95 0 1 0 0.01 0Z" fill="#111"/>
<path d="M207.5 88.5V40.2H229V42.2" class="br"/>
<text x="218.25" y="39.9" class="st">***</text>
<text x="218.25" y="31.4" class="pv">0.0003</text>
<text x="207.6" y="111" class="xl">Sptlc1<tspan font-size="3.2" dy="-1.8">+/+</tspan></text>
<text x="228.95" y="111" class="xl">Sptlc1<tspan font-size="3.2" dy="-1.8">-/-</tspan></text>
<text transform="translate(175.7 65.55) rotate(-90)" class="yl" textLength="53.7" lengthAdjust="spacingAndGlyphs">LSK BMT cells (X10<tspan font-size="3.4" dy="-1.6">6</tspan><tspan dy="1.6"></tspan>)</text>
<text transform="translate(255.4 15.9) scale(1.05 1)" class="lt">C</text>
<rect x="295.8" y="72.2" width="14.1" height="27.8" fill="#d9706a"/>
<rect x="316.8" y="81.5" width="14.4" height="18.5" fill="#6cbcc0"/>
<path d="M288.5 28.9V100H337.9" class="ax"/>
<text x="282.6" y="33.85" class="tl">0.015</text>
<text x="282.6" y="56.65" class="tl">0.010</text>
<text x="282.6" y="79.45" class="tl">0.005</text>
<text x="282.6" y="102.25" class="tl">0.000</text>
<path d="M285.9 31.7H288.5M285.9 54.5H288.5M285.9 77.3H288.5M285.9 100.1H288.5M302.85 100V103M324 100V103" class="tk"/>
<path d="M302.85 59.6V83M299.35 59.6H306.35M299.35 83H306.35" class="eb"/>
<path d="M324 69.9V92.2M320.5 69.9H327.5M320.5 92.2H327.5" class="eb"/>
<path d="M297.6 59.9a0.95 0.95 0 1 0 0.01 0ZM302.69 59.3a0.95 0.95 0 1 0 0.01 0ZM305.3 61.9a0.95 0.95 0 1 0 0.01 0ZM308.39 62.7a0.95 0.95 0 1 0 0.01 0ZM300 60.5a0.95 0.95 0 1 0 0.01 0ZM304.69 73.5a0.95 0.95 0 1 0 0.01 0ZM300.69 75a0.95 0.95 0 1 0 0.01 0ZM303.19 79.6a0.95 0.95 0 1 0 0.01 0ZM304.69 82.7a0.95 0.95 0 1 0 0.01 0ZM300.69 86.8a0.95 0.95 0 1 0 0.01 0ZM304.69 87.3a0.95 0.95 0 1 0 0.01 0ZM323.89 51.9a0.95 0.95 0 1 0 0.01 0ZM318.8 78.5a0.95 0.95 0 1 0 0.01 0ZM323.89 79.6a0.95 0.95 0 1 0 0.01 0ZM328.8 81.2a0.95 0.95 0 1 0 0.01 0ZM318.8 85.3a0.95 0.95 0 1 0 0.01 0ZM323.89 86.2a0.95 0.95 0 1 0 0.01 0ZM318.8 89.6a0.95 0.95 0 1 0 0.01 0ZM323.89 91.2a0.95 0.95 0 1 0 0.01 0ZM328.8 91.2a0.95 0.95 0 1 0 0.01 0Z" fill="#111"/>
<path d="M302.5 48V44.5H324.2V48" class="br"/>
<text x="313.35" y="42.8" class="ns">ns</text>
<text x="302.85" y="111" class="xl">Sptlc1<tspan font-size="3.2" dy="-1.8">+/+</tspan></text>
<text x="324" y="111" class="xl">Sptlc1<tspan font-size="3.2" dy="-1.8">-/-</tspan></text>
<text transform="translate(261.6 63.9) rotate(-90)" class="yl" textLength="60.4" lengthAdjust="spacingAndGlyphs">LT-HSC BMT cells (X10<tspan font-size="3.4" dy="-1.6">6</tspan><tspan dy="1.6"></tspan>)</text>
<text transform="translate(350.3 16.1) scale(1.1 1)" class="lt">D</text>
<rect x="383.2" y="97.5" width="14" height="2.5" fill="#d9706a"/>
<rect x="404.4" y="77.8" width="14.6" height="22.2" fill="#6cbcc0"/>
<path d="M376.3 34V100H425.3" class="ax"/>
<text x="370.4" y="39.05" class="tl">1.0</text>
<text x="370.4" y="51.65" class="tl">0.8</text>
<text x="370.4" y="64.25" class="tl">0.6</text>
<text x="370.4" y="76.95" class="tl">0.4</text>
<text x="370.4" y="89.55" class="tl">0.2</text>
<text x="370.4" y="102.15" class="tl">0.0</text>
<path d="M373.7 36.9H376.3M373.7 49.5H376.3M373.7 62.1H376.3M373.7 74.8H376.3M373.7 87.4H376.3M373.7 100H376.3M390.2 100V103M411.7 100V103" class="tk"/>
<path d="M411.7 63.1V91.4M408.2 63.1H415.2M408.2 91.4H415.2" class="eb"/>
<path d="M384.19 98.2a0.95 0.95 0 1 0 0.01 0ZM385.39 97.96a0.95 0.95 0 1 0 0.01 0ZM386.59 97.45a0.95 0.95 0 1 0 0.01 0ZM387.8 96.9a0.95 0.95 0 1 0 0.01 0ZM389 96.5a0.95 0.95 0 1 0 0.01 0ZM390.19 96.36a0.95 0.95 0 1 0 0.01 0ZM391.39 96.5a0.95 0.95 0 1 0 0.01 0ZM392.59 96.9a0.95 0.95 0 1 0 0.01 0ZM393.8 97.45a0.95 0.95 0 1 0 0.01 0ZM395 97.96a0.95 0.95 0 1 0 0.01 0ZM396.19 98.2a0.95 0.95 0 1 0 0.01 0ZM390.19 96a0.95 0.95 0 1 0 0.01 0ZM388.39 97.9a0.95 0.95 0 1 0 0.01 0ZM392 97.9a0.95 0.95 0 1 0 0.01 0ZM411.6 44.5a0.95 0.95 0 1 0 0.01 0ZM411.6 59a0.95 0.95 0 1 0 0.01 0ZM409.1 73.5a0.95 0.95 0 1 0 0.01 0ZM414 74.7a0.95 0.95 0 1 0 0.01 0ZM411.6 82a0.95 0.95 0 1 0 0.01 0ZM409.1 85.3a0.95 0.95 0 1 0 0.01 0ZM414 86.4a0.95 0.95 0 1 0 0.01 0ZM409.1 91.2a0.95 0.95 0 1 0 0.01 0ZM416.39 91.2a0.95 0.95 0 1 0 0.01 0ZM411.6 91.2a0.95 0.95 0 1 0 0.01 0Z" fill="#111"/>
<path d="M390.5 87.2V40.3H411.5V43" class="br"/>
<text x="401" y="39.6" class="st">***</text>
<text x="401" y="30.6" class="pv">0.0001</text>
<text x="390.2" y="111" class="xl">Sptlc1<tspan font-size="3.2" dy="-1.8">+/+</tspan></text>
<text x="411.7" y="111" class="xl">Sptlc1<tspan font-size="3.2" dy="-1.8">-/-</tspan></text>
<text transform="translate(356.1 66.45) rotate(-90)" class="yl" textLength="61.7" lengthAdjust="spacingAndGlyphs">ST-HSC BMT cells (X10<tspan font-size="3.4" dy="-1.6">6</tspan><tspan dy="1.6"></tspan>)</text>
<text transform="translate(438.6 16.1) scale(1.1 1)" class="lt">E</text>
<rect x="470.8" y="97.5" width="14" height="2.5" fill="#d9706a"/>
<rect x="492" y="81.2" width="14.2" height="18.8" fill="#6cbcc0"/>
<path d="M464 34V100H512.6" class="ax"/>
<text x="458.1" y="38.75" class="tl">0.5</text>
<text x="458.1" y="51.45" class="tl">0.4</text>
<text x="458.1" y="64.15" class="tl">0.3</text>
<text x="458.1" y="76.85" class="tl">0.2</text>
<text x="458.1" y="89.45" class="tl">0.1</text>
<text x="458.1" y="102.15" class="tl">0.0</text>
<path d="M461.4 36.6H464M461.4 49.3H464M461.4 62H464M461.4 74.7H464M461.4 87.3H464M461.4 100H464M477.8 100V103M499.1 100V103" class="tk"/>
<path d="M499.1 65.4V97M495.6 65.4H502.6M495.6 97H502.6" class="eb"/>
<path d="M471.5 98.2a0.95 0.95 0 1 0 0.01 0ZM472.75 97.99a0.95 0.95 0 1 0 0.01 0ZM474.02 97.54a0.95 0.95 0 1 0 0.01 0ZM475.28 97.07a0.95 0.95 0 1 0 0.01 0ZM476.54 96.73a0.95 0.95 0 1 0 0.01 0ZM477.8 96.6a0.95 0.95 0 1 0 0.01 0ZM479.06 96.73a0.95 0.95 0 1 0 0.01 0ZM480.31 97.07a0.95 0.95 0 1 0 0.01 0ZM481.57 97.54a0.95 0.95 0 1 0 0.01 0ZM482.84 97.99a0.95 0.95 0 1 0 0.01 0ZM484.1 98.2a0.95 0.95 0 1 0 0.01 0ZM477.8 96.3a0.95 0.95 0 1 0 0.01 0ZM475.91 97.9a0.95 0.95 0 1 0 0.01 0ZM479.69 97.9a0.95 0.95 0 1 0 0.01 0ZM499.19 50.1a0.95 0.95 0 1 0 0.01 0ZM500.39 68.3a0.95 0.95 0 1 0 0.01 0ZM499.89 69.9a0.95 0.95 0 1 0 0.01 0ZM501.19 78.3a0.95 0.95 0 1 0 0.01 0ZM497.39 80.4a0.95 0.95 0 1 0 0.01 0ZM494.19 94.2a0.95 0.95 0 1 0 0.01 0ZM497.89 95.5a0.95 0.95 0 1 0 0.01 0ZM500.39 95.5a0.95 0.95 0 1 0 0.01 0ZM504.39 96.6a0.95 0.95 0 1 0 0.01 0ZM496.3 96.1a0.95 0.95 0 1 0 0.01 0Z" fill="#111"/>
<path d="M478.2 80.9V43.3H499.6V46.4" class="br"/>
<text x="488.9" y="43.3" class="st">**</text>
<text x="488.9" y="34.1" class="pv">0.0017</text>
<text x="477.8" y="111" class="xl">Sptlc1<tspan font-size="3.2" dy="-1.8">+/+</tspan></text>
<text x="499.1" y="111" class="xl">Sptlc1<tspan font-size="3.2" dy="-1.8">-/-</tspan></text>
<text transform="translate(443.9 66.35) rotate(-90)" class="yl" textLength="55.5" lengthAdjust="spacingAndGlyphs">MPP BMT cells (X10<tspan font-size="3.4" dy="-1.6">6</tspan><tspan dy="1.6"></tspan>)</text>
<text transform="translate(7.4 136.2) scale(1.1 1)" class="lt">F</text>
<rect x="50.7" y="197.8" width="14.2" height="21.7" fill="#d9706a"/>
<rect x="71.8" y="204.8" width="14.2" height="14.7" fill="#6cbcc0"/>
<path d="M42.7 154.4V219.5H92.8" class="ax"/>
<text x="36.8" y="159.15" class="tl">0.025</text>
<text x="36.8" y="171.65" class="tl">0.020</text>
<text x="36.8" y="184.15" class="tl">0.015</text>
<text x="36.8" y="196.65" class="tl">0.010</text>
<text x="36.8" y="209.15" class="tl">0.005</text>
<text x="36.8" y="221.65" class="tl">0.000</text>
<path d="M40.1 157H42.7M40.1 169.5H42.7M40.1 182H42.7M40.1 194.5H42.7M40.1 207H42.7M40.1 219.5H42.7M57.8 219.5V222.5M78.9 219.5V222.5" class="tk"/>
<path d="M57.8 190.2V204.4M54.3 190.2H61.3M54.3 204.4H61.3" class="eb"/>
<path d="M78.9 191.4V217.4M75.4 191.4H82.4M75.4 217.4H82.4" class="eb"/>
<path d="M57.89 187.4a0.95 0.95 0 1 0 0.01 0ZM54.09 190.8a0.95 0.95 0 1 0 0.01 0ZM60.99 190.8a0.95 0.95 0 1 0 0.01 0ZM62.2 193.8a0.95 0.95 0 1 0 0.01 0ZM55.79 197.3a0.95 0.95 0 1 0 0.01 0ZM59.29 197.3a0.95 0.95 0 1 0 0.01 0ZM53.2 201.6a0.95 0.95 0 1 0 0.01 0ZM57.49 201.6a0.95 0.95 0 1 0 0.01 0ZM62.2 203.7a0.95 0.95 0 1 0 0.01 0ZM57.89 209.9a0.95 0.95 0 1 0 0.01 0ZM78.8 168.7a0.95 0.95 0 1 0 0.01 0ZM78.8 196.4a0.95 0.95 0 1 0 0.01 0ZM74.3 202.5a0.95 0.95 0 1 0 0.01 0ZM83.5 205.4a0.95 0.95 0 1 0 0.01 0ZM78.8 205.9a0.95 0.95 0 1 0 0.01 0ZM76.59 209.4a0.95 0.95 0 1 0 0.01 0ZM80.9 210.3a0.95 0.95 0 1 0 0.01 0ZM76.59 212.9a0.95 0.95 0 1 0 0.01 0ZM78.8 216.3a0.95 0.95 0 1 0 0.01 0Z" fill="#111"/>
<path d="M57.4 162.6V159.5H79.1V162.6" class="br"/>
<text x="68.25" y="157.7" class="ns">ns</text>
<text x="57.8" y="230.5" class="xl">Sptlc1<tspan font-size="3.2" dy="-1.8">+/+</tspan></text>
<text x="78.9" y="230.5" class="xl">Sptlc1<tspan font-size="3.2" dy="-1.8">-/-</tspan></text>
<text transform="translate(16.6 186.75) rotate(-90)" class="yl" textLength="78.9" lengthAdjust="spacingAndGlyphs">CD150<tspan font-size="3.4" dy="-1.6">+</tspan><tspan dy="1.6"></tspan> CD48<tspan font-size="3.4" dy="-1.6">&#8211;</tspan><tspan dy="1.6"></tspan> BMT cells (X10<tspan font-size="3.4" dy="-1.6">6</tspan><tspan dy="1.6"></tspan>)</text>
<text transform="translate(106 135.9) scale(1.0 1)" class="lt">G</text>
<rect x="149.4" y="192.3" width="14" height="27.3" fill="#d9706a"/>
<rect x="170.6" y="202.3" width="14" height="17.3" fill="#6cbcc0"/>
<path d="M142.1 151.8V219.6H190.9" class="ax"/>
<text x="136.2" y="155.35" class="tl">0.025</text>
<text x="136.2" y="168.65" class="tl">0.020</text>
<text x="136.2" y="181.95" class="tl">0.015</text>
<text x="136.2" y="195.25" class="tl">0.010</text>
<text x="136.2" y="208.55" class="tl">0.005</text>
<text x="136.2" y="221.75" class="tl">0.000</text>
<path d="M139.5 153.2H142.1M139.5 166.5H142.1M139.5 179.8H142.1M139.5 193.1H142.1M139.5 206.4H142.1M139.5 219.6H142.1M156.4 219.6V222.6M177.6 219.6V222.6" class="tk"/>
<path d="M156.4 177.9V205.6M152.9 177.9H159.9M152.9 205.6H159.9" class="eb"/>
<path d="M177.6 191.2V211.1M174.1 191.2H181.1M174.1 211.1H181.1" class="eb"/>
<path d="M156.4 167.3a0.95 0.95 0 1 0 0.01 0ZM156.4 172.5a0.95 0.95 0 1 0 0.01 0ZM156.4 187.4a0.95 0.95 0 1 0 0.01 0ZM153.8 194.7a0.95 0.95 0 1 0 0.01 0ZM159 195.5a0.95 0.95 0 1 0 0.01 0ZM152.09 199.9a0.95 0.95 0 1 0 0.01 0ZM156.4 201.6a0.95 0.95 0 1 0 0.01 0ZM160.69 201.2a0.95 0.95 0 1 0 0.01 0ZM153.8 205.4a0.95 0.95 0 1 0 0.01 0ZM156.4 208.9a0.95 0.95 0 1 0 0.01 0ZM179.8 184.8a0.95 0.95 0 1 0 0.01 0ZM175.09 187.4a0.95 0.95 0 1 0 0.01 0ZM172.9 204.7a0.95 0.95 0 1 0 0.01 0ZM182 202.5a0.95 0.95 0 1 0 0.01 0ZM177.5 206.8a0.95 0.95 0 1 0 0.01 0ZM172.9 207.7a0.95 0.95 0 1 0 0.01 0ZM182 210.3a0.95 0.95 0 1 0 0.01 0ZM177.5 216.3a0.95 0.95 0 1 0 0.01 0Z" fill="#111"/>
<path d="M156.4 164.2V161.4H177.7V164.2" class="br"/>
<text x="167.05" y="160.4" class="ns">ns</text>
<text x="156.4" y="230.6" class="xl">Sptlc1<tspan font-size="3.2" dy="-1.8">+/+</tspan></text>
<text x="177.6" y="230.6" class="xl">Sptlc1<tspan font-size="3.2" dy="-1.8">-/-</tspan></text>
<text transform="translate(115.3 186.75) rotate(-90)" class="yl" textLength="77.9" lengthAdjust="spacingAndGlyphs">CD150<tspan font-size="3.4" dy="-1.6">&#8211;</tspan><tspan dy="1.6"></tspan> CD48<tspan font-size="3.4" dy="-1.6">&#8211;</tspan><tspan dy="1.6"></tspan> BMT cells (X10<tspan font-size="3.4" dy="-1.6">6</tspan><tspan dy="1.6"></tspan>)</text>
<text transform="translate(203.3 136.2) scale(1.1 1)" class="lt">H</text>
<rect x="240.8" y="218.3" width="13.9" height="1.3" fill="#d9706a"/>
<rect x="262" y="189.7" width="13.8" height="29.9" fill="#6cbcc0"/>
<path d="M232.6 157.5V219.6H282.4" class="ax"/>
<text x="226.7" y="162.65" class="tl">2.0</text>
<text x="226.7" y="177.45" class="tl">1.5</text>
<text x="226.7" y="192.15" class="tl">1.0</text>
<text x="226.7" y="206.95" class="tl">0.5</text>
<text x="226.7" y="221.75" class="tl">0.0</text>
<path d="M230 160.5H232.6M230 175.3H232.6M230 190H232.6M230 204.8H232.6M230 219.6H232.6M247.75 219.6V222.6M268.9 219.6V222.6" class="tk"/>
<path d="M268.9 174.3V204.8M265.4 174.3H272.4M265.4 204.8H272.4" class="eb"/>
<path d="M242.19 218a0.95 0.95 0 1 0 0.01 0ZM243.29 217.83a0.95 0.95 0 1 0 0.01 0ZM244.39 217.48a0.95 0.95 0 1 0 0.01 0ZM245.5 217.1a0.95 0.95 0 1 0 0.01 0ZM246.59 216.82a0.95 0.95 0 1 0 0.01 0ZM247.69 216.72a0.95 0.95 0 1 0 0.01 0ZM248.79 216.82a0.95 0.95 0 1 0 0.01 0ZM249.89 217.1a0.95 0.95 0 1 0 0.01 0ZM251 217.48a0.95 0.95 0 1 0 0.01 0ZM252.09 217.83a0.95 0.95 0 1 0 0.01 0ZM253.19 218a0.95 0.95 0 1 0 0.01 0ZM247.69 216.5a0.95 0.95 0 1 0 0.01 0ZM246.04 217.7a0.95 0.95 0 1 0 0.01 0ZM249.34 217.7a0.95 0.95 0 1 0 0.01 0ZM269.19 160.9a0.95 0.95 0 1 0 0.01 0ZM269.19 163.8a0.95 0.95 0 1 0 0.01 0ZM267.8 166.1a0.95 0.95 0 1 0 0.01 0ZM268.3 177.3a0.95 0.95 0 1 0 0.01 0ZM269.5 178.2a0.95 0.95 0 1 0 0.01 0ZM268.8 189.1a0.95 0.95 0 1 0 0.01 0ZM268.3 201.6a0.95 0.95 0 1 0 0.01 0ZM269.5 202.5a0.95 0.95 0 1 0 0.01 0ZM267.1 204.7a0.95 0.95 0 1 0 0.01 0ZM270.1 204.7a0.95 0.95 0 1 0 0.01 0ZM268.3 205.9a0.95 0.95 0 1 0 0.01 0Z" fill="#111"/>
<path d="M247.8 205.3V157.8H269.2V160.6" class="br"/>
<text x="258.5" y="157.4" class="st">****</text>
<text x="258.5" y="148.1" class="pv">&lt;0.0001</text>
<text x="247.75" y="230.6" class="xl">Sptlc1<tspan font-size="3.2" dy="-1.8">+/+</tspan></text>
<text x="268.9" y="230.6" class="xl">Sptlc1<tspan font-size="3.2" dy="-1.8">-/-</tspan></text>
<text transform="translate(213.6 186.5) rotate(-90)" class="yl" textLength="78.8" lengthAdjust="spacingAndGlyphs">CD150<tspan font-size="3.4" dy="-1.6">&#8211;</tspan><tspan dy="1.6"></tspan> CD48<tspan font-size="3.4" dy="-1.6">+</tspan><tspan dy="1.6"></tspan> BMT cells (X10<tspan font-size="3.4" dy="-1.6">6</tspan><tspan dy="1.6"></tspan>)</text>
<text transform="translate(297.6 136.2) scale(1.1 1)" class="lt">I</text>
<rect x="331.7" y="216.9" width="13.9" height="2.6" fill="#d9706a"/>
<rect x="353" y="195.2" width="13.8" height="24.3" fill="#6cbcc0"/>
<path d="M325.2 156.1V219.5H371.5" class="ax"/>
<text x="319.3" y="160.85" class="tl">0.04</text>
<text x="319.3" y="176.05" class="tl">0.03</text>
<text x="319.3" y="191.25" class="tl">0.02</text>
<text x="319.3" y="206.45" class="tl">0.01</text>
<text x="319.3" y="221.65" class="tl">0.00</text>
<path d="M322.6 158.7H325.2M322.6 173.9H325.2M322.6 189.1H325.2M322.6 204.3H325.2M322.6 219.5H325.2M338.65 219.5V222.5M359.9 219.5V222.5" class="tk"/>
<path d="M359.9 182.4V208.7M356.4 182.4H363.4M356.4 208.7H363.4" class="eb"/>
<path d="M336.89 215.8a0.95 0.95 0 1 0 0.01 0ZM340.1 215.1a0.95 0.95 0 1 0 0.01 0ZM341.3 216.3a0.95 0.95 0 1 0 0.01 0ZM338.5 216.8a0.95 0.95 0 1 0 0.01 0ZM343 217.3a0.95 0.95 0 1 0 0.01 0ZM335 217.5a0.95 0.95 0 1 0 0.01 0ZM339.5 217.8a0.95 0.95 0 1 0 0.01 0ZM360.3 172.1a0.95 0.95 0 1 0 0.01 0ZM360.8 184.3a0.95 0.95 0 1 0 0.01 0ZM359.5 186.9a0.95 0.95 0 1 0 0.01 0ZM360.8 189.5a0.95 0.95 0 1 0 0.01 0ZM359.8 192.1a0.95 0.95 0 1 0 0.01 0ZM360.3 205.1a0.95 0.95 0 1 0 0.01 0ZM358.6 206.4a0.95 0.95 0 1 0 0.01 0ZM361.5 206.8a0.95 0.95 0 1 0 0.01 0ZM360.8 209.4a0.95 0.95 0 1 0 0.01 0Z" fill="#111"/>
<path d="M339 205.3V165.3H360.3V168" class="br"/>
<text x="349.65" y="164.7" class="st">****</text>
<text x="349.65" y="155.9" class="pv">&lt;0.0001</text>
<text x="338.65" y="230.5" class="xl">Sptlc1<tspan font-size="3.2" dy="-1.8">+/+</tspan></text>
<text x="359.9" y="230.5" class="xl">Sptlc1<tspan font-size="3.2" dy="-1.8">-/-</tspan></text>
<text transform="translate(301.1 186.5) rotate(-90)" class="yl" textLength="58.8" lengthAdjust="spacingAndGlyphs">MPP2 BMT cells (X10<tspan font-size="3.4" dy="-1.6">6</tspan><tspan dy="1.6"></tspan>)</text>
<path d="M389.2 128.3H391.9V133.3Q391.9 135.9 389.2 135.9H388.1V133.9H388.8Q389.2 133.9 389.2 133.4Z" fill="#000"/>
<rect x="423.3" y="217.4" width="13.8" height="2.2" fill="#d9706a"/>
<rect x="444.4" y="198.9" width="14.3" height="20.7" fill="#6cbcc0"/>
<path d="M416.2 158.4V219.6H464.8" class="ax"/>
<text x="410.3" y="163.15" class="tl">0.5</text>
<text x="410.3" y="174.85" class="tl">0.4</text>
<text x="410.3" y="186.55" class="tl">0.3</text>
<text x="410.3" y="198.25" class="tl">0.2</text>
<text x="410.3" y="210.05" class="tl">0.1</text>
<text x="410.3" y="221.75" class="tl">0.0</text>
<path d="M413.6 161H416.2M413.6 172.7H416.2M413.6 184.4H416.2M413.6 196.1H416.2M413.6 207.9H416.2M413.6 219.6H416.2M430.2 219.6V222.6M451.55 219.6V222.6" class="tk"/>
<path d="M451.55 182.3V215.7M448.05 182.3H455.05M448.05 215.7H455.05" class="eb"/>
<path d="M424.69 218a0.95 0.95 0 1 0 0.01 0ZM425.8 217.79a0.95 0.95 0 1 0 0.01 0ZM426.89 217.34a0.95 0.95 0 1 0 0.01 0ZM428 216.87a0.95 0.95 0 1 0 0.01 0ZM429.09 216.53a0.95 0.95 0 1 0 0.01 0ZM430.19 216.4a0.95 0.95 0 1 0 0.01 0ZM431.3 216.53a0.95 0.95 0 1 0 0.01 0ZM432.39 216.87a0.95 0.95 0 1 0 0.01 0ZM433.5 217.34a0.95 0.95 0 1 0 0.01 0ZM434.59 217.79a0.95 0.95 0 1 0 0.01 0ZM435.69 218a0.95 0.95 0 1 0 0.01 0ZM430.19 216.1a0.95 0.95 0 1 0 0.01 0ZM428.55 217.7a0.95 0.95 0 1 0 0.01 0ZM431.84 217.7a0.95 0.95 0 1 0 0.01 0ZM451.5 170.1a0.95 0.95 0 1 0 0.01 0ZM451.5 177.7a0.95 0.95 0 1 0 0.01 0ZM449.5 192.9a0.95 0.95 0 1 0 0.01 0ZM453.5 192.9a0.95 0.95 0 1 0 0.01 0ZM446.89 208.5a0.95 0.95 0 1 0 0.01 0ZM449.5 209.4a0.95 0.95 0 1 0 0.01 0ZM452.1 209.7a0.95 0.95 0 1 0 0.01 0ZM456 207.7a0.95 0.95 0 1 0 0.01 0ZM449.5 214.6a0.95 0.95 0 1 0 0.01 0ZM452.89 215.1a0.95 0.95 0 1 0 0.01 0Z" fill="#111"/>
<path d="M430.5 205.3V165.6H451.5V168.3" class="br"/>
<text x="441" y="165.2" class="st">**</text>
<text x="441" y="155.5" class="pv">0.0010</text>
<text x="430.2" y="230.6" class="xl">Sptlc1<tspan font-size="3.2" dy="-1.8">+/+</tspan></text>
<text x="451.55" y="230.6" class="xl">Sptlc1<tspan font-size="3.2" dy="-1.8">-/-</tspan></text>
<text transform="translate(396.1 186.7) rotate(-90)" class="yl" textLength="58.8" lengthAdjust="spacingAndGlyphs">MPP3 BMT cells (X10<tspan font-size="3.4" dy="-1.6">6</tspan><tspan dy="1.6"></tspan>)</text>
<text transform="translate(7.4 256.2) scale(1.1 1)" class="lt">K</text>
<rect x="50.7" y="335.7" width="14.2" height="3.8" fill="#d9706a"/>
<rect x="71.8" y="318" width="14.2" height="21.5" fill="#6cbcc0"/>
<path d="M43.3 268V339.5H92.8" class="ax"/>
<text x="37.4" y="272.75" class="tl">0.10</text>
<text x="37.4" y="307.15" class="tl">0.05</text>
<text x="37.4" y="341.65" class="tl">0.00</text>
<path d="M40.7 270.6H43.3M40.7 305H43.3M40.7 339.5H43.3M57.8 339.5V342.5M78.9 339.5V342.5" class="tk"/>
<path d="M78.9 295.2V339M75.4 295.2H82.4M75.4 339H82.4" class="eb"/>
<path d="M58.09 332a0.95 0.95 0 1 0 0.01 0ZM54.09 335.1a0.95 0.95 0 1 0 0.01 0ZM56.7 335.1a0.95 0.95 0 1 0 0.01 0ZM59.29 335.1a0.95 0.95 0 1 0 0.01 0ZM61.89 336.3a0.95 0.95 0 1 0 0.01 0ZM52.29 336.3a0.95 0.95 0 1 0 0.01 0ZM57.49 333.5a0.95 0.95 0 1 0 0.01 0ZM59.99 334a0.95 0.95 0 1 0 0.01 0ZM74 284.3a0.95 0.95 0 1 0 0.01 0ZM78.8 287.3a0.95 0.95 0 1 0 0.01 0ZM84 284.3a0.95 0.95 0 1 0 0.01 0ZM78.8 281a0.95 0.95 0 1 0 0.01 0ZM78.8 310.8a0.95 0.95 0 1 0 0.01 0ZM78.8 319.5a0.95 0.95 0 1 0 0.01 0ZM76.59 331.1a0.95 0.95 0 1 0 0.01 0ZM78.8 329.4a0.95 0.95 0 1 0 0.01 0ZM74 336.8a0.95 0.95 0 1 0 0.01 0ZM78.8 337.2a0.95 0.95 0 1 0 0.01 0ZM84 338.1a0.95 0.95 0 1 0 0.01 0Z" fill="#111"/>
<path d="M57.6 319.2V278.2H79.2V281.3" class="br"/>
<text x="68.4" y="277.7" class="st">*</text>
<text x="68.4" y="268.9" class="pv">0.0143</text>
<text x="57.8" y="349.8" class="xl">Sptlc1<tspan font-size="3.2" dy="-1.8">+/+</tspan></text>
<text x="78.9" y="349.8" class="xl">Sptlc1<tspan font-size="3.2" dy="-1.8">-/-</tspan></text>
<text transform="translate(20.1 306.25) rotate(-90)" class="yl" textLength="58.3" lengthAdjust="spacingAndGlyphs">MPP4 BMT cells (X10<tspan font-size="3.4" dy="-1.6">6</tspan><tspan dy="1.6"></tspan>)</text>
<text transform="translate(107.6 256.2) scale(0.95 1)" class="lt">L</text>
<rect x="142.1" y="305.4" width="13.8" height="34.1" fill="#d9706a"/>
<rect x="163" y="322.7" width="14.2" height="16.8" fill="#6cbcc0"/>
<path d="M134.8 267.5V339.5H182.4" class="ax"/>
<text x="128.9" y="272.25" class="tl">0.25</text>
<text x="128.9" y="286.15" class="tl">0.20</text>
<text x="128.9" y="300.05" class="tl">0.15</text>
<text x="128.9" y="313.95" class="tl">0.10</text>
<text x="128.9" y="327.75" class="tl">0.05</text>
<text x="128.9" y="341.65" class="tl">0.00</text>
<path d="M132.2 270.1H134.8M132.2 284H134.8M132.2 297.9H134.8M132.2 311.8H134.8M132.2 325.6H134.8M132.2 339.5H134.8M149 339.5V342.5M170.1 339.5V342.5" class="tk"/>
<path d="M149 292.9V316.6M145.5 292.9H152.5M145.5 316.6H152.5" class="eb"/>
<path d="M170.1 313.2V330.5M166.6 313.2H173.6M166.6 330.5H173.6" class="eb"/>
<path d="M149.3 280.6a0.95 0.95 0 1 0 0.01 0ZM145.3 296.2a0.95 0.95 0 1 0 0.01 0ZM152.69 297.1a0.95 0.95 0 1 0 0.01 0ZM149.3 303.1a0.95 0.95 0 1 0 0.01 0ZM144.09 309.5a0.95 0.95 0 1 0 0.01 0ZM147.5 310.1a0.95 0.95 0 1 0 0.01 0ZM151 310.1a0.95 0.95 0 1 0 0.01 0ZM154.5 307.8a0.95 0.95 0 1 0 0.01 0ZM149.3 316.1a0.95 0.95 0 1 0 0.01 0ZM149.3 324.8a0.95 0.95 0 1 0 0.01 0ZM170.09 306.1a0.95 0.95 0 1 0 0.01 0ZM167.5 314.4a0.95 0.95 0 1 0 0.01 0ZM165.4 320.5a0.95 0.95 0 1 0 0.01 0ZM174.69 319.2a0.95 0.95 0 1 0 0.01 0ZM170.09 317a0.95 0.95 0 1 0 0.01 0ZM168.3 323.1a0.95 0.95 0 1 0 0.01 0ZM172.69 322.7a0.95 0.95 0 1 0 0.01 0ZM164.9 332.1a0.95 0.95 0 1 0 0.01 0ZM170.09 333.1a0.95 0.95 0 1 0 0.01 0ZM175.3 334.3a0.95 0.95 0 1 0 0.01 0ZM172.5 330a0.95 0.95 0 1 0 0.01 0Z" fill="#111"/>
<path d="M149 276.7V274.3H170.6V296.9" class="br"/>
<text x="159.8" y="274.1" class="st">***</text>
<text x="159.8" y="265" class="pv">0.0008</text>
<text x="149" y="349.8" class="xl">Sptlc1<tspan font-size="3.2" dy="-1.8">+/+</tspan></text>
<text x="170.1" y="349.8" class="xl">Sptlc1<tspan font-size="3.2" dy="-1.8">-/-</tspan></text>
<text transform="translate(111.3 305.9) rotate(-90)" class="yl" textLength="49.2" lengthAdjust="spacingAndGlyphs">LK BMT cells (X10<tspan font-size="3.4" dy="-1.6">6</tspan><tspan dy="1.6"></tspan>)</text>
<text transform="translate(201.9 256.2) scale(1.1 1)" class="lt">M</text>
<rect x="240.5" y="308" width="14.2" height="31.5" fill="#d9706a"/>
<rect x="262" y="331" width="14" height="8.5" fill="#6cbcc0"/>
<path d="M233.1 265.4V339.5H281.5" class="ax"/>
<text x="227.2" y="269.65" class="tl">0.10</text>
<text x="227.2" y="284.05" class="tl">0.08</text>
<text x="227.2" y="298.45" class="tl">0.06</text>
<text x="227.2" y="312.85" class="tl">0.04</text>
<text x="227.2" y="327.25" class="tl">0.02</text>
<text x="227.2" y="341.65" class="tl">0.00</text>
<path d="M230.5 267.5H233.1M230.5 281.9H233.1M230.5 296.3H233.1M230.5 310.7H233.1M230.5 325.1H233.1M230.5 339.5H233.1M247.6 339.5V342.5M269 339.5V342.5" class="tk"/>
<path d="M247.6 295.5V319.2M244.1 295.5H251.1M244.1 319.2H251.1" class="eb"/>
<path d="M269 323V337M265.5 323H272.5M265.5 337H272.5" class="eb"/>
<path d="M247.5 282.9a0.95 0.95 0 1 0 0.01 0ZM250.09 295.3a0.95 0.95 0 1 0 0.01 0ZM247.5 304.9a0.95 0.95 0 1 0 0.01 0ZM242.3 309.5a0.95 0.95 0 1 0 0.01 0ZM245.8 309.5a0.95 0.95 0 1 0 0.01 0ZM250.09 309.2a0.95 0.95 0 1 0 0.01 0ZM253.59 309.2a0.95 0.95 0 1 0 0.01 0ZM250.09 319.2a0.95 0.95 0 1 0 0.01 0ZM247.5 325.7a0.95 0.95 0 1 0 0.01 0ZM268.8 319.2a0.95 0.95 0 1 0 0.01 0ZM267.5 320.5a0.95 0.95 0 1 0 0.01 0ZM270.6 323.4a0.95 0.95 0 1 0 0.01 0ZM263.1 332.6a0.95 0.95 0 1 0 0.01 0ZM266.6 334.3a0.95 0.95 0 1 0 0.01 0ZM270.1 335.2a0.95 0.95 0 1 0 0.01 0ZM272.69 330.9a0.95 0.95 0 1 0 0.01 0ZM275.3 330.9a0.95 0.95 0 1 0 0.01 0ZM269.19 336.9a0.95 0.95 0 1 0 0.01 0Z" fill="#111"/>
<path d="M247.4 278.7V276.7H269V309.7" class="br"/>
<text x="258.2" y="276.9" class="st">****</text>
<text x="258.2" y="267.3" class="pv">&lt;0.0001</text>
<text x="247.6" y="349.8" class="xl">Sptlc1<tspan font-size="3.2" dy="-1.8">+/+</tspan></text>
<text x="269" y="349.8" class="xl">Sptlc1<tspan font-size="3.2" dy="-1.8">-/-</tspan></text>
<text transform="translate(209.7 301.85) rotate(-90)" class="yl" textLength="55.3" lengthAdjust="spacingAndGlyphs">CMP BMT cells (X10<tspan font-size="3.4" dy="-1.6">6</tspan><tspan dy="1.6"></tspan>)</text>
<text transform="translate(295 256.1) scale(1.1 1)" class="lt">N</text>
<rect x="332" y="302.4" width="13.9" height="37.1" fill="#d9706a"/>
<rect x="353.1" y="327.9" width="14.2" height="11.6" fill="#6cbcc0"/>
<path d="M325.3 268.4V339.5H373.9" class="ax"/>
<text x="319.4" y="273.45" class="tl">0.04</text>
<text x="319.4" y="290.55" class="tl">0.03</text>
<text x="319.4" y="307.55" class="tl">0.02</text>
<text x="319.4" y="324.65" class="tl">0.01</text>
<text x="319.4" y="341.65" class="tl">0.00</text>
<path d="M322.7 271.3H325.3M322.7 288.4H325.3M322.7 305.4H325.3M322.7 322.5H325.3M322.7 339.5H325.3M338.95 339.5V342.5M360.2 339.5V342.5" class="tk"/>
<path d="M338.95 289.5V314.4M335.45 289.5H342.45M335.45 314.4H342.45" class="eb"/>
<path d="M360.2 321V335M356.7 321H363.7M356.7 335H363.7" class="eb"/>
<path d="M338.69 279.4a0.95 0.95 0 1 0 0.01 0ZM338.69 282.9a0.95 0.95 0 1 0 0.01 0ZM337.8 286.7a0.95 0.95 0 1 0 0.01 0ZM339.5 294.5a0.95 0.95 0 1 0 0.01 0ZM338.69 299.7a0.95 0.95 0 1 0 0.01 0ZM339.5 302.3a0.95 0.95 0 1 0 0.01 0ZM337.8 306.6a0.95 0.95 0 1 0 0.01 0ZM339.5 310.1a0.95 0.95 0 1 0 0.01 0ZM338.69 318.7a0.95 0.95 0 1 0 0.01 0ZM338.69 323.1a0.95 0.95 0 1 0 0.01 0ZM360.3 317.5a0.95 0.95 0 1 0 0.01 0ZM355.1 321.3a0.95 0.95 0 1 0 0.01 0ZM358.6 321.3a0.95 0.95 0 1 0 0.01 0ZM365.5 323.9a0.95 0.95 0 1 0 0.01 0ZM360.3 327.4a0.95 0.95 0 1 0 0.01 0ZM358.6 330.9a0.95 0.95 0 1 0 0.01 0ZM362.1 330a0.95 0.95 0 1 0 0.01 0ZM356.89 333.5a0.95 0.95 0 1 0 0.01 0ZM361.19 334.3a0.95 0.95 0 1 0 0.01 0Z" fill="#111"/>
<path d="M339 278.7V276.7H360.1V309.7" class="br"/>
<text x="349.55" y="276.9" class="st">****</text>
<text x="349.55" y="267.3" class="pv">&lt;0.0001</text>
<text x="338.95" y="349.8" class="xl">Sptlc1<tspan font-size="3.2" dy="-1.8">+/+</tspan></text>
<text x="360.2" y="349.8" class="xl">Sptlc1<tspan font-size="3.2" dy="-1.8">-/-</tspan></text>
<text transform="translate(301.6 303.6) rotate(-90)" class="yl" textLength="54.8" lengthAdjust="spacingAndGlyphs">GMP BMT cells (X10<tspan font-size="3.4" dy="-1.6">6</tspan><tspan dy="1.6"></tspan>)</text>
<text transform="translate(385.7 255.2) scale(1.05 1)" class="lt">O</text>
<rect x="423.3" y="306.2" width="13.8" height="33.3" fill="#d9706a"/>
<rect x="444.4" y="317" width="14.3" height="22.5" fill="#6cbcc0"/>
<path d="M416.2 269.7V339.5H465.1" class="ax"/>
<text x="410.3" y="274.35" class="tl">0.08</text>
<text x="410.3" y="291.15" class="tl">0.06</text>
<text x="410.3" y="308.05" class="tl">0.04</text>
<text x="410.3" y="324.85" class="tl">0.02</text>
<text x="410.3" y="341.65" class="tl">0.00</text>
<path d="M413.6 272.2H416.2M413.6 289H416.2M413.6 305.9H416.2M413.6 322.7H416.2M413.6 339.5H416.2M430.2 339.5V342.5M451.55 339.5V342.5" class="tk"/>
<path d="M430.2 290.3V321M426.7 290.3H433.7M426.7 321H433.7" class="eb"/>
<path d="M451.55 304.5V328.2M448.05 304.5H455.05M448.05 328.2H455.05" class="eb"/>
<path d="M430.1 276.3a0.95 0.95 0 1 0 0.01 0ZM427.8 290.5a0.95 0.95 0 1 0 0.01 0ZM433 290.5a0.95 0.95 0 1 0 0.01 0ZM430.39 295.3a0.95 0.95 0 1 0 0.01 0ZM430.39 299.7a0.95 0.95 0 1 0 0.01 0ZM430.39 305.7a0.95 0.95 0 1 0 0.01 0ZM425.19 311.8a0.95 0.95 0 1 0 0.01 0ZM430.39 310.1a0.95 0.95 0 1 0 0.01 0ZM435.3 314a0.95 0.95 0 1 0 0.01 0ZM430.39 314.4a0.95 0.95 0 1 0 0.01 0ZM427.8 324.8a0.95 0.95 0 1 0 0.01 0ZM433 324.8a0.95 0.95 0 1 0 0.01 0ZM451.5 288.4a0.95 0.95 0 1 0 0.01 0ZM451.5 311.3a0.95 0.95 0 1 0 0.01 0ZM450.3 317a0.95 0.95 0 1 0 0.01 0ZM452.1 319.6a0.95 0.95 0 1 0 0.01 0ZM451.19 322.2a0.95 0.95 0 1 0 0.01 0ZM449.8 327.4a0.95 0.95 0 1 0 0.01 0ZM452.89 329.6a0.95 0.95 0 1 0 0.01 0Z" fill="#111"/>
<path d="M430.2 273.5V270.6H451.5V273.5" class="br"/>
<text x="440.85" y="268.8" class="ns">ns</text>
<text x="430.2" y="349.8" class="xl">Sptlc1<tspan font-size="3.2" dy="-1.8">+/+</tspan></text>
<text x="451.55" y="349.8" class="xl">Sptlc1<tspan font-size="3.2" dy="-1.8">-/-</tspan></text>
<text transform="translate(392.1 304.25) rotate(-90)" class="yl" textLength="54.5" lengthAdjust="spacingAndGlyphs">MEP BMT cells (X10<tspan font-size="3.4" dy="-1.6">6</tspan><tspan dy="1.6"></tspan>)</text>
</svg>
</body></html>
